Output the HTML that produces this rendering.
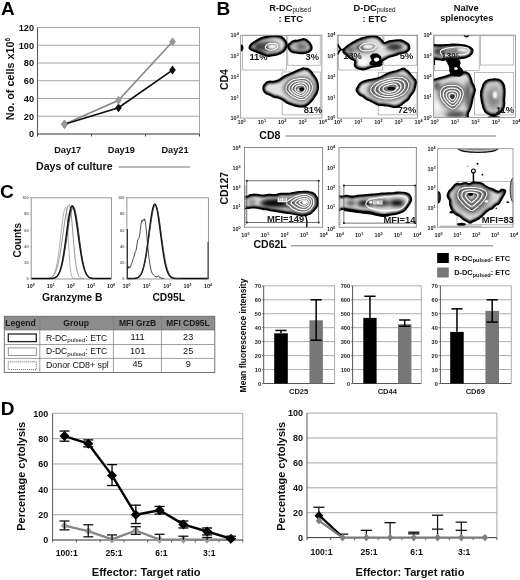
<!DOCTYPE html>
<html><head><meta charset="utf-8"><title>Figure</title>
<style>html,body{margin:0;padding:0;background:#fff;}body{width:520px;height:580px;overflow:hidden;font-family:"Liberation Sans",sans-serif;}svg{display:block;font-family:"Liberation Sans",sans-serif;}</style>
</head><body>
<svg width="520" height="580" viewBox="0 0 520 580">
<rect width="520" height="580" fill="#fff"/>
<defs><filter id="gsoft" x="0" y="0" width="520" height="580" filterUnits="userSpaceOnUse"><feGaussianBlur stdDeviation="0.3"/></filter></defs><g filter="url(#gsoft)">
<text x="0.9" y="14.9" font-size="19" font-weight="bold" text-anchor="start" fill="#000" >A</text>
<text x="216.4" y="14.5" font-size="19" font-weight="bold" text-anchor="start" fill="#000" >B</text>
<text x="0.1" y="198.3" font-size="19" font-weight="bold" text-anchor="start" fill="#000" >C</text>
<text x="0.8" y="415.3" font-size="19" font-weight="bold" text-anchor="start" fill="#000" >D</text>
<g id="panelA">
<text x="34.0" y="137.3" font-size="9.2" font-weight="bold" text-anchor="end" fill="#111" >0</text>
<line x1="37.5" y1="116.25" x2="199.5" y2="116.25" stroke="#9a9a9a" stroke-width="0.9" />
<text x="34.0" y="119.55" font-size="9.2" font-weight="bold" text-anchor="end" fill="#111" >20</text>
<line x1="37.5" y1="98.5" x2="199.5" y2="98.5" stroke="#9a9a9a" stroke-width="0.9" />
<text x="34.0" y="101.8" font-size="9.2" font-weight="bold" text-anchor="end" fill="#111" >40</text>
<line x1="37.5" y1="80.75" x2="199.5" y2="80.75" stroke="#9a9a9a" stroke-width="0.9" />
<text x="34.0" y="84.05" font-size="9.2" font-weight="bold" text-anchor="end" fill="#111" >60</text>
<line x1="37.5" y1="63.0" x2="199.5" y2="63.0" stroke="#9a9a9a" stroke-width="0.9" />
<text x="34.0" y="66.3" font-size="9.2" font-weight="bold" text-anchor="end" fill="#111" >80</text>
<line x1="37.5" y1="45.25" x2="199.5" y2="45.25" stroke="#9a9a9a" stroke-width="0.9" />
<text x="34.0" y="48.55" font-size="9.2" font-weight="bold" text-anchor="end" fill="#111" >100</text>
<line x1="37.5" y1="27.5" x2="199.5" y2="27.5" stroke="#9a9a9a" stroke-width="0.9" />
<text x="34.0" y="30.8" font-size="9.2" font-weight="bold" text-anchor="end" fill="#111" >120</text>
<line x1="199.5" y1="27.5" x2="199.5" y2="134.0" stroke="#9a9a9a" stroke-width="0.9" />
<line x1="37.5" y1="27.5" x2="37.5" y2="134.0" stroke="#555" stroke-width="1" />
<line x1="37.5" y1="134.0" x2="199.5" y2="134.0" stroke="#333" stroke-width="1" />
<line x1="37.5" y1="134.0" x2="37.5" y2="136.5" stroke="#333" stroke-width="0.9" />
<line x1="91.5" y1="134.0" x2="91.5" y2="136.5" stroke="#333" stroke-width="0.9" />
<line x1="145.5" y1="134.0" x2="145.5" y2="136.5" stroke="#333" stroke-width="0.9" />
<line x1="199.5" y1="134.0" x2="199.5" y2="136.5" stroke="#333" stroke-width="0.9" />
<polyline fill="none" stroke="#888" stroke-width="1.6" points="64.5,124.2 118.5,100.3 172.5,41.7"/>
<polyline fill="none" stroke="#111" stroke-width="1.7" points="64.5,124.2 118.5,107.8 172.5,70.1"/>
<path d="M61.2,124.2 L64.5,119.8 L67.8,124.2 L64.5,128.7Z" fill="#111"/>
<path d="M115.2,107.8 L118.5,103.4 L121.8,107.8 L118.5,112.3Z" fill="#111"/>
<path d="M169.2,70.1 L172.5,65.6 L175.8,70.1 L172.5,74.6Z" fill="#111"/>
<path d="M61.2,124.2 L64.5,119.8 L67.8,124.2 L64.5,128.7Z" fill="#999"/>
<path d="M115.2,100.3 L118.5,95.8 L121.8,100.3 L118.5,104.7Z" fill="#999"/>
<path d="M169.2,41.7 L172.5,37.2 L175.8,41.7 L172.5,46.2Z" fill="#999"/>
<text x="67.7" y="152.6" font-size="9.2" font-weight="bold" text-anchor="middle" fill="#111" >Day17</text>
<text x="121.4" y="152.6" font-size="9.2" font-weight="bold" text-anchor="middle" fill="#111" >Day19</text>
<text x="175" y="152.6" font-size="9.2" font-weight="bold" text-anchor="middle" fill="#111" >Day21</text>
<text x="36" y="170.3" font-size="10.6" font-weight="bold" text-anchor="start" fill="#111" >Days of culture</text>
<line x1="118.5" y1="167" x2="190" y2="167" stroke="#777" stroke-width="1" />
<text transform="translate(13.7,79) rotate(-90)" font-size="10.8" font-weight="bold" text-anchor="middle" fill="#111" >No. of cells x10<tspan font-size="6.5" dy="-4">6</tspan></text>
</g>
<g id="panelB">
<defs><filter id="soft" x="-5%" y="-5%" width="110%" height="110%"><feGaussianBlur stdDeviation="0.35"/></filter><filter id="bE" x="-20%" y="-20%" width="140%" height="140%"><feGaussianBlur stdDeviation="1.25"/></filter><filter id="b05" x="-50%" y="-50%" width="200%" height="200%"><feGaussianBlur stdDeviation="0.6"/></filter><filter id="b1" x="-50%" y="-50%" width="200%" height="200%"><feGaussianBlur stdDeviation="1"/></filter><filter id="b2" x="-50%" y="-50%" width="200%" height="200%"><feGaussianBlur stdDeviation="2"/></filter><filter id="b3" x="-50%" y="-50%" width="200%" height="200%"><feGaussianBlur stdDeviation="3"/></filter>
</defs>
<text x="269.2" y="10.8" font-size="9.3" font-weight="bold" text-anchor="start" fill="#111" >R-DC<tspan font-size="6.3" font-weight="normal" dy="1.4">pulsed</tspan></text>
<text x="278.6" y="21.5" font-size="9.3" font-weight="bold" text-anchor="start" fill="#111" >: ETC</text>
<text x="353.6" y="10.8" font-size="9.3" font-weight="bold" text-anchor="start" fill="#111" >D-DC<tspan font-size="6.3" font-weight="normal" dy="1.4">pulsed</tspan></text>
<text x="362.6" y="21.5" font-size="9.3" font-weight="bold" text-anchor="start" fill="#111" >: ETC</text>
<text x="466.2" y="10.6" font-size="9.3" font-weight="bold" text-anchor="middle" fill="#111" >Naïve</text>
<text x="466.7" y="21.2" font-size="9.2" font-weight="bold" text-anchor="middle" fill="#111" >splenocytes</text>
<text transform="translate(227.9,79.6) rotate(-90)" font-size="10.5" font-weight="bold" text-anchor="middle" fill="#111" >CD4</text>
<text transform="translate(228,188.2) rotate(-90)" font-size="10.5" font-weight="bold" text-anchor="middle" fill="#111" >CD127</text>
<text x="259.3" y="139.4" font-size="10.5" font-weight="bold" text-anchor="start" fill="#111" >CD8</text>
<line x1="285.8" y1="136" x2="496" y2="136" stroke="#666" stroke-width="0.9" />
<text x="253.5" y="248.4" font-size="10.5" font-weight="bold" text-anchor="start" fill="#111" >CD62L</text>
<line x1="291" y1="245.8" x2="493" y2="245.8" stroke="#666" stroke-width="0.9" />
<defs><clipPath id="cb1"><rect x="240.7" y="35.2" width="81.2" height="82.9"/></clipPath></defs>
<text x="241.6" y="123.9" font-size="5.5" font-weight="bold" text-anchor="middle" fill="#222">10<tspan font-size="3.8" dy="-2">0</tspan></text>
<text x="234.7" y="120.3" font-size="5.5" font-weight="bold" text-anchor="middle" fill="#222">10<tspan font-size="3.8" dy="-2">0</tspan></text>
<text x="261.9" y="123.9" font-size="5.5" font-weight="bold" text-anchor="middle" fill="#222">10<tspan font-size="3.8" dy="-2">1</tspan></text>
<text x="234.7" y="99.6" font-size="5.5" font-weight="bold" text-anchor="middle" fill="#222">10<tspan font-size="3.8" dy="-2">1</tspan></text>
<text x="282.2" y="123.9" font-size="5.5" font-weight="bold" text-anchor="middle" fill="#222">10<tspan font-size="3.8" dy="-2">2</tspan></text>
<text x="234.7" y="78.9" font-size="5.5" font-weight="bold" text-anchor="middle" fill="#222">10<tspan font-size="3.8" dy="-2">2</tspan></text>
<text x="302.5" y="123.9" font-size="5.5" font-weight="bold" text-anchor="middle" fill="#222">10<tspan font-size="3.8" dy="-2">3</tspan></text>
<text x="234.7" y="58.1" font-size="5.5" font-weight="bold" text-anchor="middle" fill="#222">10<tspan font-size="3.8" dy="-2">3</tspan></text>
<text x="322.8" y="123.9" font-size="5.5" font-weight="bold" text-anchor="middle" fill="#222">10<tspan font-size="3.8" dy="-2">4</tspan></text>
<text x="234.7" y="37.4" font-size="5.5" font-weight="bold" text-anchor="middle" fill="#222">10<tspan font-size="3.8" dy="-2">4</tspan></text>
<rect x="242.3" y="35.6" width="44.0" height="34.4" fill="none" stroke="#909090" stroke-width="0.6"/>
<rect x="287.8" y="35.6" width="32.4" height="29.6" fill="none" stroke="#909090" stroke-width="0.6"/>
<rect x="282.1" y="72" width="38.1" height="42.9" fill="none" stroke="#909090" stroke-width="0.6"/>
<g clip-path="url(#cb1)"><g filter="url(#soft)">
<clipPath id="bl1"><path d="M288.2,46.3 C288.5,43.9 288.6,44.6 290.6,42.8 C292.5,41.0 291.5,41.8 294.0,40.9 C296.6,40.1 295.7,40.9 298.3,40.3 C300.9,39.7 299.4,39.6 301.8,39.3 C304.1,38.9 303.1,38.5 305.3,39.3 C307.5,40.1 306.7,40.0 308.5,41.7 C310.2,43.4 309.5,42.2 310.6,44.4 C311.7,46.5 311.9,46.0 311.7,48.2 C311.5,50.4 311.7,49.5 310.0,50.9 C308.4,52.4 309.4,51.8 306.7,52.6 C304.1,53.4 305.3,53.2 302.2,53.3 C299.0,53.4 300.4,53.2 297.3,52.8 C294.2,52.4 295.4,53.1 292.9,52.2 C290.4,51.2 291.4,52.0 289.8,50.0 C288.3,48.1 288.0,48.7 288.2,46.3Z"/></clipPath>
<g clip-path="url(#bl1)">
<path d="M288.2,46.3 C288.5,43.9 288.6,44.6 290.6,42.8 C292.5,41.0 291.5,41.8 294.0,40.9 C296.6,40.1 295.7,40.9 298.3,40.3 C300.9,39.7 299.4,39.6 301.8,39.3 C304.1,38.9 303.1,38.5 305.3,39.3 C307.5,40.1 306.7,40.0 308.5,41.7 C310.2,43.4 309.5,42.2 310.6,44.4 C311.7,46.5 311.9,46.0 311.7,48.2 C311.5,50.4 311.7,49.5 310.0,50.9 C308.4,52.4 309.4,51.8 306.7,52.6 C304.1,53.4 305.3,53.2 302.2,53.3 C299.0,53.4 300.4,53.2 297.3,52.8 C294.2,52.4 295.4,53.1 292.9,52.2 C290.4,51.2 291.4,52.0 289.8,50.0 C288.3,48.1 288.0,48.7 288.2,46.3Z" fill="#b9b9b9"/>
<ellipse cx="301.5" cy="46.6" rx="5" ry="3.2" fill="#5a5a5a" filter="url(#b2)"/>
<path d="M288.2,46.3 C288.5,43.9 288.6,44.6 290.6,42.8 C292.5,41.0 291.5,41.8 294.0,40.9 C296.6,40.1 295.7,40.9 298.3,40.3 C300.9,39.7 299.4,39.6 301.8,39.3 C304.1,38.9 303.1,38.5 305.3,39.3 C307.5,40.1 306.7,40.0 308.5,41.7 C310.2,43.4 309.5,42.2 310.6,44.4 C311.7,46.5 311.9,46.0 311.7,48.2 C311.5,50.4 311.7,49.5 310.0,50.9 C308.4,52.4 309.4,51.8 306.7,52.6 C304.1,53.4 305.3,53.2 302.2,53.3 C299.0,53.4 300.4,53.2 297.3,52.8 C294.2,52.4 295.4,53.1 292.9,52.2 C290.4,51.2 291.4,52.0 289.8,50.0 C288.3,48.1 288.0,48.7 288.2,46.3Z" fill="none" stroke="#000" stroke-width="3.0" filter="url(#bE)"/>
</g>
<path d="M288.2,46.3 C288.5,43.9 288.6,44.6 290.6,42.8 C292.5,41.0 291.5,41.8 294.0,40.9 C296.6,40.1 295.7,40.9 298.3,40.3 C300.9,39.7 299.4,39.6 301.8,39.3 C304.1,38.9 303.1,38.5 305.3,39.3 C307.5,40.1 306.7,40.0 308.5,41.7 C310.2,43.4 309.5,42.2 310.6,44.4 C311.7,46.5 311.9,46.0 311.7,48.2 C311.5,50.4 311.7,49.5 310.0,50.9 C308.4,52.4 309.4,51.8 306.7,52.6 C304.1,53.4 305.3,53.2 302.2,53.3 C299.0,53.4 300.4,53.2 297.3,52.8 C294.2,52.4 295.4,53.1 292.9,52.2 C290.4,51.2 291.4,52.0 289.8,50.0 C288.3,48.1 288.0,48.7 288.2,46.3Z" fill="none" stroke="#000" stroke-width="1.8" stroke-linejoin="round"/>
<clipPath id="bl2"><path d="M249.5,47.0 C249.9,45.4 249.7,45.8 251.4,44.0 C253.1,42.3 252.3,43.3 254.7,41.8 C257.1,40.2 255.7,40.9 258.6,39.4 C261.5,37.9 260.4,38.3 263.3,37.4 C266.3,36.5 264.8,37.1 267.5,36.6 C270.1,36.1 268.9,36.2 271.3,35.9 C273.8,35.6 272.4,35.7 274.8,35.8 C277.1,35.8 276.2,35.7 278.3,36.0 C280.5,36.4 279.5,36.0 281.2,36.9 C282.9,37.8 282.1,37.4 283.5,38.6 C284.9,39.9 284.3,39.1 285.3,40.8 C286.4,42.4 286.3,41.9 286.7,43.6 C287.1,45.4 287.0,44.5 286.6,46.1 C286.2,47.7 286.3,46.9 285.5,48.5 C284.6,50.1 285.3,49.5 284.1,50.8 C282.8,52.2 283.5,51.4 281.7,52.5 C279.8,53.6 280.8,53.2 278.4,54.1 C276.1,54.9 276.9,54.6 274.6,55.1 C272.2,55.6 273.6,55.2 271.3,55.5 C269.1,55.8 270.1,56.2 267.9,56.0 C265.6,55.8 266.8,55.6 264.6,54.9 C262.4,54.1 263.6,54.7 261.3,53.8 C259.1,52.9 260.0,53.1 257.8,52.3 C255.6,51.4 256.5,51.8 254.7,51.2 C252.9,50.6 254.0,51.1 252.5,50.4 C250.9,49.6 251.2,50.1 250.2,49.0 C249.2,47.8 249.2,48.6 249.5,47.0Z"/></clipPath>
<g clip-path="url(#bl2)">
<path d="M249.5,47.0 C249.9,45.4 249.7,45.8 251.4,44.0 C253.1,42.3 252.3,43.3 254.7,41.8 C257.1,40.2 255.7,40.9 258.6,39.4 C261.5,37.9 260.4,38.3 263.3,37.4 C266.3,36.5 264.8,37.1 267.5,36.6 C270.1,36.1 268.9,36.2 271.3,35.9 C273.8,35.6 272.4,35.7 274.8,35.8 C277.1,35.8 276.2,35.7 278.3,36.0 C280.5,36.4 279.5,36.0 281.2,36.9 C282.9,37.8 282.1,37.4 283.5,38.6 C284.9,39.9 284.3,39.1 285.3,40.8 C286.4,42.4 286.3,41.9 286.7,43.6 C287.1,45.4 287.0,44.5 286.6,46.1 C286.2,47.7 286.3,46.9 285.5,48.5 C284.6,50.1 285.3,49.5 284.1,50.8 C282.8,52.2 283.5,51.4 281.7,52.5 C279.8,53.6 280.8,53.2 278.4,54.1 C276.1,54.9 276.9,54.6 274.6,55.1 C272.2,55.6 273.6,55.2 271.3,55.5 C269.1,55.8 270.1,56.2 267.9,56.0 C265.6,55.8 266.8,55.6 264.6,54.9 C262.4,54.1 263.6,54.7 261.3,53.8 C259.1,52.9 260.0,53.1 257.8,52.3 C255.6,51.4 256.5,51.8 254.7,51.2 C252.9,50.6 254.0,51.1 252.5,50.4 C250.9,49.6 251.2,50.1 250.2,49.0 C249.2,47.8 249.2,48.6 249.5,47.0Z" fill="#e1e1e1"/>
<ellipse cx="267" cy="46.6" rx="12" ry="5.5" fill="#4a4a4a" filter="url(#b2)"/>
<ellipse cx="258" cy="47" rx="4" ry="3" fill="#333" filter="url(#b2)"/>
<ellipse cx="272.3" cy="46.6" rx="4.6" ry="2.4" fill="#fff" filter="url(#b1)"/>
<path d="M249.5,47.0 C249.9,45.4 249.7,45.8 251.4,44.0 C253.1,42.3 252.3,43.3 254.7,41.8 C257.1,40.2 255.7,40.9 258.6,39.4 C261.5,37.9 260.4,38.3 263.3,37.4 C266.3,36.5 264.8,37.1 267.5,36.6 C270.1,36.1 268.9,36.2 271.3,35.9 C273.8,35.6 272.4,35.7 274.8,35.8 C277.1,35.8 276.2,35.7 278.3,36.0 C280.5,36.4 279.5,36.0 281.2,36.9 C282.9,37.8 282.1,37.4 283.5,38.6 C284.9,39.9 284.3,39.1 285.3,40.8 C286.4,42.4 286.3,41.9 286.7,43.6 C287.1,45.4 287.0,44.5 286.6,46.1 C286.2,47.7 286.3,46.9 285.5,48.5 C284.6,50.1 285.3,49.5 284.1,50.8 C282.8,52.2 283.5,51.4 281.7,52.5 C279.8,53.6 280.8,53.2 278.4,54.1 C276.1,54.9 276.9,54.6 274.6,55.1 C272.2,55.6 273.6,55.2 271.3,55.5 C269.1,55.8 270.1,56.2 267.9,56.0 C265.6,55.8 266.8,55.6 264.6,54.9 C262.4,54.1 263.6,54.7 261.3,53.8 C259.1,52.9 260.0,53.1 257.8,52.3 C255.6,51.4 256.5,51.8 254.7,51.2 C252.9,50.6 254.0,51.1 252.5,50.4 C250.9,49.6 251.2,50.1 250.2,49.0 C249.2,47.8 249.2,48.6 249.5,47.0Z" fill="none" stroke="#000" stroke-width="3.6" filter="url(#bE)"/>
</g>
<path d="M249.5,47.0 C249.9,45.4 249.7,45.8 251.4,44.0 C253.1,42.3 252.3,43.3 254.7,41.8 C257.1,40.2 255.7,40.9 258.6,39.4 C261.5,37.9 260.4,38.3 263.3,37.4 C266.3,36.5 264.8,37.1 267.5,36.6 C270.1,36.1 268.9,36.2 271.3,35.9 C273.8,35.6 272.4,35.7 274.8,35.8 C277.1,35.8 276.2,35.7 278.3,36.0 C280.5,36.4 279.5,36.0 281.2,36.9 C282.9,37.8 282.1,37.4 283.5,38.6 C284.9,39.9 284.3,39.1 285.3,40.8 C286.4,42.4 286.3,41.9 286.7,43.6 C287.1,45.4 287.0,44.5 286.6,46.1 C286.2,47.7 286.3,46.9 285.5,48.5 C284.6,50.1 285.3,49.5 284.1,50.8 C282.8,52.2 283.5,51.4 281.7,52.5 C279.8,53.6 280.8,53.2 278.4,54.1 C276.1,54.9 276.9,54.6 274.6,55.1 C272.2,55.6 273.6,55.2 271.3,55.5 C269.1,55.8 270.1,56.2 267.9,56.0 C265.6,55.8 266.8,55.6 264.6,54.9 C262.4,54.1 263.6,54.7 261.3,53.8 C259.1,52.9 260.0,53.1 257.8,52.3 C255.6,51.4 256.5,51.8 254.7,51.2 C252.9,50.6 254.0,51.1 252.5,50.4 C250.9,49.6 251.2,50.1 250.2,49.0 C249.2,47.8 249.2,48.6 249.5,47.0Z" fill="none" stroke="#000" stroke-width="1.8" stroke-linejoin="round"/>
<path d="M277.8,46.1 C277.9,47.2 278.0,46.7 277.1,47.8 C276.2,48.9 276.7,48.6 275.0,49.3 C273.3,50.1 274.0,49.9 272.0,50.1 C269.9,50.3 270.7,50.3 268.8,50.0 C267.0,49.6 267.6,49.8 266.4,49.0 C265.3,48.1 265.6,48.5 265.4,47.3 C265.3,46.2 265.2,46.7 266.1,45.6 C267.0,44.5 266.5,44.8 268.2,44.1 C269.9,43.3 269.2,43.5 271.2,43.3 C273.3,43.1 272.5,43.1 274.4,43.4 C276.2,43.8 275.6,43.6 276.8,44.4 C277.9,45.3 277.6,44.9 277.8,46.1Z" fill="none" stroke="#fff" stroke-width="1.05"/>
<clipPath id="bl3"><path d="M263.2,88.0 C263.3,85.1 263.6,85.7 265.5,83.7 C267.3,81.6 265.9,82.5 268.7,81.7 C271.4,81.0 270.3,82.1 273.7,81.5 C277.2,80.8 276.2,81.1 279.1,79.8 C282.0,78.4 279.9,79.0 282.5,77.4 C285.1,75.9 283.9,76.5 286.9,75.1 C289.9,73.7 288.4,74.5 291.5,73.2 C294.5,71.9 292.8,72.5 296.0,71.1 C299.3,69.7 298.4,70.0 301.2,69.1 C304.0,68.1 302.0,68.2 304.4,68.3 C306.8,68.4 306.2,68.3 308.4,69.3 C310.5,70.3 309.1,69.5 310.9,71.4 C312.6,73.3 311.7,72.4 313.6,75.1 C315.5,77.9 315.1,76.1 316.6,79.6 C318.0,83.1 317.7,81.7 318.0,85.7 C318.3,89.7 318.5,87.9 317.3,91.6 C316.2,95.2 316.6,93.4 314.5,96.7 C312.4,99.9 313.8,98.5 311.1,101.4 C308.4,104.3 309.5,103.6 306.5,105.4 C303.5,107.1 305.4,106.4 302.1,106.6 C298.9,106.9 300.2,106.8 296.8,106.1 C293.3,105.5 295.0,105.7 291.9,104.6 C288.7,103.6 290.3,104.5 287.3,103.0 C284.4,101.4 285.9,101.7 283.0,100.0 C280.0,98.3 281.6,99.0 278.6,97.9 C275.5,96.8 276.9,97.8 273.8,96.8 C270.8,95.7 272.3,96.1 269.3,94.7 C266.4,93.2 267.1,94.7 265.0,92.5 C263.0,90.2 263.0,90.9 263.2,88.0Z"/></clipPath>
<g clip-path="url(#bl3)">
<path d="M263.2,88.0 C263.3,85.1 263.6,85.7 265.5,83.7 C267.3,81.6 265.9,82.5 268.7,81.7 C271.4,81.0 270.3,82.1 273.7,81.5 C277.2,80.8 276.2,81.1 279.1,79.8 C282.0,78.4 279.9,79.0 282.5,77.4 C285.1,75.9 283.9,76.5 286.9,75.1 C289.9,73.7 288.4,74.5 291.5,73.2 C294.5,71.9 292.8,72.5 296.0,71.1 C299.3,69.7 298.4,70.0 301.2,69.1 C304.0,68.1 302.0,68.2 304.4,68.3 C306.8,68.4 306.2,68.3 308.4,69.3 C310.5,70.3 309.1,69.5 310.9,71.4 C312.6,73.3 311.7,72.4 313.6,75.1 C315.5,77.9 315.1,76.1 316.6,79.6 C318.0,83.1 317.7,81.7 318.0,85.7 C318.3,89.7 318.5,87.9 317.3,91.6 C316.2,95.2 316.6,93.4 314.5,96.7 C312.4,99.9 313.8,98.5 311.1,101.4 C308.4,104.3 309.5,103.6 306.5,105.4 C303.5,107.1 305.4,106.4 302.1,106.6 C298.9,106.9 300.2,106.8 296.8,106.1 C293.3,105.5 295.0,105.7 291.9,104.6 C288.7,103.6 290.3,104.5 287.3,103.0 C284.4,101.4 285.9,101.7 283.0,100.0 C280.0,98.3 281.6,99.0 278.6,97.9 C275.5,96.8 276.9,97.8 273.8,96.8 C270.8,95.7 272.3,96.1 269.3,94.7 C266.4,93.2 267.1,94.7 265.0,92.5 C263.0,90.2 263.0,90.9 263.2,88.0Z" fill="#e1e1e1"/>
<path d="M263.2,88.0 C263.3,85.1 263.6,85.7 265.5,83.7 C267.3,81.6 265.9,82.5 268.7,81.7 C271.4,81.0 270.3,82.1 273.7,81.5 C277.2,80.8 276.2,81.1 279.1,79.8 C282.0,78.4 279.9,79.0 282.5,77.4 C285.1,75.9 283.9,76.5 286.9,75.1 C289.9,73.7 288.4,74.5 291.5,73.2 C294.5,71.9 292.8,72.5 296.0,71.1 C299.3,69.7 298.4,70.0 301.2,69.1 C304.0,68.1 302.0,68.2 304.4,68.3 C306.8,68.4 306.2,68.3 308.4,69.3 C310.5,70.3 309.1,69.5 310.9,71.4 C312.6,73.3 311.7,72.4 313.6,75.1 C315.5,77.9 315.1,76.1 316.6,79.6 C318.0,83.1 317.7,81.7 318.0,85.7 C318.3,89.7 318.5,87.9 317.3,91.6 C316.2,95.2 316.6,93.4 314.5,96.7 C312.4,99.9 313.8,98.5 311.1,101.4 C308.4,104.3 309.5,103.6 306.5,105.4 C303.5,107.1 305.4,106.4 302.1,106.6 C298.9,106.9 300.2,106.8 296.8,106.1 C293.3,105.5 295.0,105.7 291.9,104.6 C288.7,103.6 290.3,104.5 287.3,103.0 C284.4,101.4 285.9,101.7 283.0,100.0 C280.0,98.3 281.6,99.0 278.6,97.9 C275.5,96.8 276.9,97.8 273.8,96.8 C270.8,95.7 272.3,96.1 269.3,94.7 C266.4,93.2 267.1,94.7 265.0,92.5 C263.0,90.2 263.0,90.9 263.2,88.0Z" fill="none" stroke="#000" stroke-width="3.6" filter="url(#bE)"/>
</g>
<path d="M263.2,88.0 C263.3,85.1 263.6,85.7 265.5,83.7 C267.3,81.6 265.9,82.5 268.7,81.7 C271.4,81.0 270.3,82.1 273.7,81.5 C277.2,80.8 276.2,81.1 279.1,79.8 C282.0,78.4 279.9,79.0 282.5,77.4 C285.1,75.9 283.9,76.5 286.9,75.1 C289.9,73.7 288.4,74.5 291.5,73.2 C294.5,71.9 292.8,72.5 296.0,71.1 C299.3,69.7 298.4,70.0 301.2,69.1 C304.0,68.1 302.0,68.2 304.4,68.3 C306.8,68.4 306.2,68.3 308.4,69.3 C310.5,70.3 309.1,69.5 310.9,71.4 C312.6,73.3 311.7,72.4 313.6,75.1 C315.5,77.9 315.1,76.1 316.6,79.6 C318.0,83.1 317.7,81.7 318.0,85.7 C318.3,89.7 318.5,87.9 317.3,91.6 C316.2,95.2 316.6,93.4 314.5,96.7 C312.4,99.9 313.8,98.5 311.1,101.4 C308.4,104.3 309.5,103.6 306.5,105.4 C303.5,107.1 305.4,106.4 302.1,106.6 C298.9,106.9 300.2,106.8 296.8,106.1 C293.3,105.5 295.0,105.7 291.9,104.6 C288.7,103.6 290.3,104.5 287.3,103.0 C284.4,101.4 285.9,101.7 283.0,100.0 C280.0,98.3 281.6,99.0 278.6,97.9 C275.5,96.8 276.9,97.8 273.8,96.8 C270.8,95.7 272.3,96.1 269.3,94.7 C266.4,93.2 267.1,94.7 265.0,92.5 C263.0,90.2 263.0,90.9 263.2,88.0Z" fill="none" stroke="#000" stroke-width="1.8" stroke-linejoin="round"/>
<g clip-path="url(#bl3)"><path d="M283.7,88.4 C283.7,85.1 283.7,86.3 286.0,83.2 C288.3,80.1 287.1,81.0 290.6,79.1 C294.1,77.2 292.2,78.1 296.4,77.4 C300.7,76.6 299.1,76.5 303.4,76.9 C307.6,77.3 305.9,76.4 309.2,78.5 C312.5,80.6 311.6,79.9 313.2,83.2 C314.9,86.5 314.4,84.9 314.1,88.4 C313.7,91.9 314.1,90.3 312.1,93.6 C310.1,96.9 311.1,95.7 308.0,98.2 C304.9,100.8 306.7,100.7 302.8,101.3 C298.9,101.8 300.5,101.4 296.4,100.0 C292.4,98.6 294.1,99.4 290.6,97.1 C287.1,94.8 288.3,95.9 286.0,93.0 C283.7,90.1 283.7,91.7 283.7,88.4Z" fill="#555" filter="url(#b2)"/></g>
<path d="M286.0,88.5 C286.0,85.7 286.0,86.7 288.0,84.0 C290.0,81.3 289.0,82.2 292.0,80.5 C295.0,78.8 293.3,79.6 297.0,79.0 C300.7,78.4 299.3,78.3 303.0,78.6 C306.7,78.9 305.2,78.2 308.0,80.0 C310.8,81.8 310.1,81.2 311.5,84.0 C312.9,86.8 312.5,85.5 312.2,88.5 C311.9,91.5 312.2,90.2 310.5,93.0 C308.8,95.8 309.7,94.8 307.0,97.0 C304.3,99.2 305.8,99.1 302.5,99.6 C299.2,100.1 300.5,99.7 297.0,98.5 C293.5,97.3 295.0,98.0 292.0,96.0 C289.0,94.0 290.0,95.0 288.0,92.5 C286.0,90.0 286.0,91.3 286.0,88.5Z" fill="#4a4a4a"/>
<path d="M288.1,88.6 C288.1,86.2 288.1,87.0 289.8,84.7 C291.5,82.5 290.7,83.2 293.2,81.7 C295.8,80.3 294.4,81.0 297.5,80.5 C300.7,79.9 299.5,79.8 302.7,80.1 C305.8,80.4 304.5,79.8 306.9,81.3 C309.4,82.9 308.7,82.3 309.9,84.7 C311.1,87.2 310.8,86.0 310.5,88.6 C310.3,91.2 310.6,90.0 309.1,92.5 C307.6,94.9 308.4,94.0 306.1,95.9 C303.8,97.8 305.1,97.7 302.2,98.1 C299.4,98.5 300.5,98.2 297.5,97.2 C294.5,96.1 295.8,96.7 293.2,95.0 C290.7,93.3 291.5,94.2 289.8,92.0 C288.1,89.9 288.1,91.0 288.1,88.6Z" fill="#c4c4c4" filter="url(#b1)"/>
<path d="M289.2,88.7 C289.2,86.4 289.2,87.2 290.8,85.1 C292.3,83.1 291.6,83.7 293.9,82.4 C296.2,81.1 294.9,81.7 297.8,81.2 C300.7,80.8 299.6,80.7 302.5,80.9 C305.3,81.2 304.2,80.6 306.4,82.0 C308.6,83.4 308.0,82.9 309.1,85.1 C310.2,87.4 309.9,86.3 309.6,88.7 C309.4,91.0 309.7,90.0 308.3,92.2 C307.0,94.4 307.7,93.6 305.6,95.3 C303.5,97.0 304.7,96.9 302.1,97.3 C299.5,97.7 300.5,97.4 297.8,96.5 C295.1,95.5 296.2,96.1 293.9,94.5 C291.6,92.9 292.3,93.7 290.8,91.8 C289.2,89.8 289.2,90.9 289.2,88.7Z" fill="#4a4a4a"/>
<path d="M291.1,88.7 C291.1,86.9 291.1,87.6 292.4,85.8 C293.7,84.1 293.1,84.6 295.0,83.5 C297.0,82.5 295.9,83.0 298.3,82.6 C300.6,82.2 299.8,82.1 302.2,82.3 C304.5,82.5 303.6,82.0 305.4,83.2 C307.3,84.4 306.8,84.0 307.7,85.8 C308.6,87.7 308.4,86.8 308.1,88.7 C307.9,90.7 308.2,89.8 307.0,91.7 C305.9,93.5 306.5,92.8 304.8,94.3 C303.0,95.7 304.0,95.6 301.8,96.0 C299.7,96.3 300.5,96.0 298.3,95.2 C296.0,94.5 297.0,94.9 295.0,93.6 C293.1,92.3 293.7,93.0 292.4,91.3 C291.1,89.7 291.1,90.6 291.1,88.7Z" fill="#c4c4c4" filter="url(#b1)"/>
<path d="M292.1,88.8 C292.1,87.2 292.1,87.7 293.3,86.2 C294.5,84.6 293.9,85.1 295.6,84.2 C297.4,83.2 296.4,83.7 298.5,83.3 C300.6,82.9 299.9,82.9 302.0,83.1 C304.1,83.2 303.2,82.8 304.9,83.9 C306.5,84.9 306.1,84.5 306.9,86.2 C307.7,87.8 307.5,87.1 307.3,88.8 C307.1,90.5 307.3,89.8 306.3,91.4 C305.3,93.0 305.9,92.4 304.3,93.7 C302.8,95.0 303.6,94.9 301.7,95.2 C299.8,95.5 300.5,95.3 298.5,94.6 C296.5,93.9 297.4,94.3 295.6,93.1 C293.9,92.0 294.5,92.6 293.3,91.1 C292.1,89.7 292.1,90.4 292.1,88.8Z" fill="#4a4a4a"/>
<path d="M294.0,88.9 C294.0,87.6 294.0,88.1 294.9,86.9 C295.8,85.7 295.4,86.0 296.7,85.3 C298.1,84.5 297.3,84.9 299.0,84.6 C300.6,84.3 300.0,84.3 301.7,84.4 C303.3,84.6 302.7,84.2 303.9,85.1 C305.2,85.9 304.9,85.6 305.5,86.9 C306.1,88.1 306.0,87.5 305.8,88.9 C305.7,90.2 305.8,89.6 305.1,90.9 C304.3,92.2 304.7,91.7 303.5,92.7 C302.3,93.7 303.0,93.7 301.5,93.9 C300.0,94.1 300.6,93.9 299.0,93.4 C297.4,92.8 298.1,93.2 296.7,92.3 C295.4,91.4 295.8,91.8 294.9,90.7 C294.0,89.6 294.0,90.2 294.0,88.9Z" fill="#c4c4c4" filter="url(#b1)"/>
<path d="M295.1,88.9 C295.1,87.9 295.1,88.2 295.8,87.2 C296.6,86.2 296.2,86.5 297.3,85.9 C298.5,85.3 297.8,85.6 299.2,85.3 C300.6,85.1 300.1,85.0 301.5,85.2 C302.9,85.3 302.3,85.0 303.4,85.7 C304.5,86.4 304.2,86.1 304.7,87.2 C305.3,88.3 305.1,87.8 305.0,88.9 C304.9,90.1 305.0,89.6 304.4,90.6 C303.7,91.7 304.0,91.3 303.0,92.2 C302.0,93.0 302.6,93.0 301.3,93.2 C300.1,93.3 300.6,93.2 299.2,92.7 C297.9,92.3 298.5,92.5 297.3,91.8 C296.2,91.0 296.6,91.4 295.8,90.5 C295.1,89.5 295.1,90.0 295.1,88.9Z" fill="#4a4a4a"/>
<path d="M297.0,89.0 C297.0,88.3 297.0,88.6 297.5,87.9 C298.0,87.3 297.8,87.5 298.5,87.1 C299.2,86.7 298.8,86.9 299.7,86.7 C300.6,86.6 300.3,86.5 301.2,86.6 C302.1,86.7 301.7,86.5 302.4,87.0 C303.1,87.4 302.9,87.2 303.3,87.9 C303.6,88.6 303.5,88.3 303.4,89.0 C303.4,89.8 303.4,89.4 303.0,90.1 C302.6,90.8 302.8,90.6 302.2,91.1 C301.5,91.6 301.9,91.6 301.1,91.7 C300.3,91.9 300.6,91.8 299.7,91.5 C298.9,91.2 299.2,91.3 298.5,90.9 C297.8,90.4 298.0,90.6 297.5,90.0 C297.0,89.4 297.0,89.7 297.0,89.0Z" fill="#c4c4c4" filter="url(#b1)"/>
<ellipse cx="301.6" cy="89.2" rx="2.6" ry="2.0" fill="#000" filter="url(#b05)"/>
<ellipse cx="298.4" cy="90" rx="1.2" ry="1.0" fill="#eee" filter="url(#b05)"/>
<path d="M286.0,88.5 C286.0,85.7 286.0,86.7 288.0,84.0 C290.0,81.3 289.0,82.2 292.0,80.5 C295.0,78.8 293.3,79.6 297.0,79.0 C300.7,78.4 299.3,78.3 303.0,78.6 C306.7,78.9 305.2,78.2 308.0,80.0 C310.8,81.8 310.1,81.2 311.5,84.0 C312.9,86.8 312.5,85.5 312.2,88.5 C311.9,91.5 312.2,90.2 310.5,93.0 C308.8,95.8 309.7,94.8 307.0,97.0 C304.3,99.2 305.8,99.1 302.5,99.6 C299.2,100.1 300.5,99.7 297.0,98.5 C293.5,97.3 295.0,98.0 292.0,96.0 C289.0,94.0 290.0,95.0 288.0,92.5 C286.0,90.0 286.0,91.3 286.0,88.5Z" fill="none" stroke="#fff" stroke-width="1.05"/>
<path d="M289.2,88.7 C289.2,86.4 289.2,87.2 290.8,85.1 C292.3,83.1 291.6,83.7 293.9,82.4 C296.2,81.1 294.9,81.7 297.8,81.2 C300.7,80.8 299.6,80.7 302.5,80.9 C305.3,81.2 304.2,80.6 306.4,82.0 C308.6,83.4 308.0,82.9 309.1,85.1 C310.2,87.4 309.9,86.3 309.6,88.7 C309.4,91.0 309.7,90.0 308.3,92.2 C307.0,94.4 307.7,93.6 305.6,95.3 C303.5,97.0 304.7,96.9 302.1,97.3 C299.5,97.7 300.5,97.4 297.8,96.5 C295.1,95.5 296.2,96.1 293.9,94.5 C291.6,92.9 292.3,93.7 290.8,91.8 C289.2,89.8 289.2,90.9 289.2,88.7Z" fill="none" stroke="#fff" stroke-width="1.05"/>
<path d="M292.1,88.8 C292.1,87.2 292.1,87.7 293.3,86.2 C294.5,84.6 293.9,85.1 295.6,84.2 C297.4,83.2 296.4,83.7 298.5,83.3 C300.6,82.9 299.9,82.9 302.0,83.1 C304.1,83.2 303.2,82.8 304.9,83.9 C306.5,84.9 306.1,84.5 306.9,86.2 C307.7,87.8 307.5,87.1 307.3,88.8 C307.1,90.5 307.3,89.8 306.3,91.4 C305.3,93.0 305.9,92.4 304.3,93.7 C302.8,95.0 303.6,94.9 301.7,95.2 C299.8,95.5 300.5,95.3 298.5,94.6 C296.5,93.9 297.4,94.3 295.6,93.1 C293.9,92.0 294.5,92.6 293.3,91.1 C292.1,89.7 292.1,90.4 292.1,88.8Z" fill="none" stroke="#fff" stroke-width="1.05"/>
<path d="M295.1,88.9 C295.1,87.9 295.1,88.2 295.8,87.2 C296.6,86.2 296.2,86.5 297.3,85.9 C298.5,85.3 297.8,85.6 299.2,85.3 C300.6,85.1 300.1,85.0 301.5,85.2 C302.9,85.3 302.3,85.0 303.4,85.7 C304.5,86.4 304.2,86.1 304.7,87.2 C305.3,88.3 305.1,87.8 305.0,88.9 C304.9,90.1 305.0,89.6 304.4,90.6 C303.7,91.7 304.0,91.3 303.0,92.2 C302.0,93.0 302.6,93.0 301.3,93.2 C300.1,93.3 300.6,93.2 299.2,92.7 C297.9,92.3 298.5,92.5 297.3,91.8 C296.2,91.0 296.6,91.4 295.8,90.5 C295.1,89.5 295.1,90.0 295.1,88.9Z" fill="none" stroke="#fff" stroke-width="1.05"/>
<path d="M243.4,47.8 C243.4,49.4 243.5,49.1 242.8,50.2 C242.1,51.3 242.3,51.2 241.4,51.2 C240.5,51.2 240.7,51.3 240.0,50.2 C239.3,49.1 239.4,49.4 239.4,47.8 C239.4,46.2 239.3,46.5 240.0,45.4 C240.7,44.3 240.5,44.4 241.4,44.4 C242.3,44.4 242.1,44.3 242.8,45.4 C243.5,46.5 243.4,46.2 243.4,47.8Z" fill="#000"/>
</g></g>
<rect x="240.7" y="35.2" width="81.2" height="82.9" fill="none" stroke="#8a8a8a" stroke-width="0.8"/>
<text x="258.5" y="59.8" font-size="9.3" font-weight="bold" text-anchor="middle" fill="#1a1a1a" >11%</text>
<text x="312.3" y="59.8" font-size="9.3" font-weight="bold" text-anchor="middle" fill="#1a1a1a" >3%</text>
<text x="313" y="113.4" font-size="9.3" font-weight="bold" text-anchor="middle" fill="#1a1a1a" >81%</text>
<defs><clipPath id="cb2"><rect x="337.3" y="35.2" width="80.4" height="82.9"/></clipPath></defs>
<text x="338.2" y="123.9" font-size="5.5" font-weight="bold" text-anchor="middle" fill="#222">10<tspan font-size="3.8" dy="-2">0</tspan></text>
<text x="331.3" y="120.3" font-size="5.5" font-weight="bold" text-anchor="middle" fill="#222">10<tspan font-size="3.8" dy="-2">0</tspan></text>
<text x="358.3" y="123.9" font-size="5.5" font-weight="bold" text-anchor="middle" fill="#222">10<tspan font-size="3.8" dy="-2">1</tspan></text>
<text x="331.3" y="99.6" font-size="5.5" font-weight="bold" text-anchor="middle" fill="#222">10<tspan font-size="3.8" dy="-2">1</tspan></text>
<text x="378.4" y="123.9" font-size="5.5" font-weight="bold" text-anchor="middle" fill="#222">10<tspan font-size="3.8" dy="-2">2</tspan></text>
<text x="331.3" y="78.9" font-size="5.5" font-weight="bold" text-anchor="middle" fill="#222">10<tspan font-size="3.8" dy="-2">2</tspan></text>
<text x="398.5" y="123.9" font-size="5.5" font-weight="bold" text-anchor="middle" fill="#222">10<tspan font-size="3.8" dy="-2">3</tspan></text>
<text x="331.3" y="58.1" font-size="5.5" font-weight="bold" text-anchor="middle" fill="#222">10<tspan font-size="3.8" dy="-2">3</tspan></text>
<text x="418.6" y="123.9" font-size="5.5" font-weight="bold" text-anchor="middle" fill="#222">10<tspan font-size="3.8" dy="-2">4</tspan></text>
<text x="331.3" y="37.4" font-size="5.5" font-weight="bold" text-anchor="middle" fill="#222">10<tspan font-size="3.8" dy="-2">4</tspan></text>
<rect x="338.6" y="35.6" width="44.2" height="34.4" fill="none" stroke="#909090" stroke-width="0.6"/>
<rect x="383.9" y="35.6" width="33.0" height="29.6" fill="none" stroke="#909090" stroke-width="0.6"/>
<rect x="378.2" y="72.6" width="38.7" height="42.3" fill="none" stroke="#909090" stroke-width="0.6"/>
<g clip-path="url(#cb2)"><g filter="url(#soft)">
<clipPath id="bl4"><path d="M343.1,51.2 C343.0,48.6 343.8,49.3 346.4,46.8 C349.1,44.2 348.1,45.5 351.1,43.6 C354.0,41.7 352.5,42.6 355.4,41.1 C358.3,39.6 356.8,40.1 359.7,39.0 C362.7,37.9 361.2,38.6 364.2,37.7 C367.2,36.9 365.4,37.0 368.7,36.4 C372.0,35.9 370.9,35.8 374.1,36.1 C377.3,36.4 375.7,35.8 378.3,37.4 C381.0,38.9 380.1,38.9 382.1,40.7 C384.1,42.5 382.4,42.5 384.4,42.8 C386.4,43.1 385.5,42.4 388.1,41.6 C390.6,40.9 389.1,41.1 392.0,40.7 C394.9,40.2 393.9,40.4 396.7,40.2 C399.5,40.1 398.3,39.9 400.5,40.2 C402.7,40.5 401.5,40.3 403.3,41.1 C405.2,42.0 404.3,41.5 406.0,42.7 C407.7,43.8 407.4,42.9 408.5,44.4 C409.6,46.0 409.2,45.8 409.4,47.4 C409.5,49.1 409.8,48.0 409.1,49.3 C408.4,50.6 409.0,50.2 407.3,51.3 C405.7,52.4 406.6,52.0 404.2,52.7 C401.8,53.3 402.9,52.6 400.2,53.4 C397.6,54.1 398.9,53.9 396.2,54.9 C393.5,55.8 394.8,55.4 392.1,56.2 C389.5,57.0 390.4,56.4 388.3,57.3 C386.3,58.1 387.7,57.7 385.9,58.7 C384.2,59.7 384.5,58.9 383.0,60.2 C381.6,61.6 382.3,61.1 381.6,62.7 C380.9,64.3 382.5,63.8 381.0,65.0 C379.4,66.1 379.7,65.6 376.9,66.2 C374.0,66.8 375.3,66.2 372.5,66.8 C369.6,67.5 371.1,67.3 368.4,68.2 C365.6,69.0 366.7,69.1 364.2,69.4 C361.7,69.7 363.0,69.3 360.9,69.0 C358.8,68.6 359.8,69.2 357.9,68.4 C356.1,67.6 356.6,68.0 355.5,66.7 C354.3,65.4 354.8,66.0 354.6,64.5 C354.5,63.0 355.1,63.6 355.0,62.3 C355.0,61.0 355.8,61.8 354.5,60.6 C353.2,59.5 353.1,60.1 351.1,58.7 C349.0,57.4 349.8,57.9 348.3,56.5 C346.8,55.1 348.3,56.3 346.5,54.5 C344.8,52.8 343.1,53.8 343.1,51.2Z"/></clipPath>
<g clip-path="url(#bl4)">
<path d="M343.1,51.2 C343.0,48.6 343.8,49.3 346.4,46.8 C349.1,44.2 348.1,45.5 351.1,43.6 C354.0,41.7 352.5,42.6 355.4,41.1 C358.3,39.6 356.8,40.1 359.7,39.0 C362.7,37.9 361.2,38.6 364.2,37.7 C367.2,36.9 365.4,37.0 368.7,36.4 C372.0,35.9 370.9,35.8 374.1,36.1 C377.3,36.4 375.7,35.8 378.3,37.4 C381.0,38.9 380.1,38.9 382.1,40.7 C384.1,42.5 382.4,42.5 384.4,42.8 C386.4,43.1 385.5,42.4 388.1,41.6 C390.6,40.9 389.1,41.1 392.0,40.7 C394.9,40.2 393.9,40.4 396.7,40.2 C399.5,40.1 398.3,39.9 400.5,40.2 C402.7,40.5 401.5,40.3 403.3,41.1 C405.2,42.0 404.3,41.5 406.0,42.7 C407.7,43.8 407.4,42.9 408.5,44.4 C409.6,46.0 409.2,45.8 409.4,47.4 C409.5,49.1 409.8,48.0 409.1,49.3 C408.4,50.6 409.0,50.2 407.3,51.3 C405.7,52.4 406.6,52.0 404.2,52.7 C401.8,53.3 402.9,52.6 400.2,53.4 C397.6,54.1 398.9,53.9 396.2,54.9 C393.5,55.8 394.8,55.4 392.1,56.2 C389.5,57.0 390.4,56.4 388.3,57.3 C386.3,58.1 387.7,57.7 385.9,58.7 C384.2,59.7 384.5,58.9 383.0,60.2 C381.6,61.6 382.3,61.1 381.6,62.7 C380.9,64.3 382.5,63.8 381.0,65.0 C379.4,66.1 379.7,65.6 376.9,66.2 C374.0,66.8 375.3,66.2 372.5,66.8 C369.6,67.5 371.1,67.3 368.4,68.2 C365.6,69.0 366.7,69.1 364.2,69.4 C361.7,69.7 363.0,69.3 360.9,69.0 C358.8,68.6 359.8,69.2 357.9,68.4 C356.1,67.6 356.6,68.0 355.5,66.7 C354.3,65.4 354.8,66.0 354.6,64.5 C354.5,63.0 355.1,63.6 355.0,62.3 C355.0,61.0 355.8,61.8 354.5,60.6 C353.2,59.5 353.1,60.1 351.1,58.7 C349.0,57.4 349.8,57.9 348.3,56.5 C346.8,55.1 348.3,56.3 346.5,54.5 C344.8,52.8 343.1,53.8 343.1,51.2Z" fill="#e1e1e1"/>
<ellipse cx="394.5" cy="47" rx="8.5" ry="3.6" fill="#1c1c1c" filter="url(#b2)"/>
<ellipse cx="365" cy="47.5" rx="11" ry="5" fill="#5a5a5a" filter="url(#b2)"/>
<ellipse cx="350.5" cy="50" rx="4" ry="3" fill="#444" filter="url(#b2)"/>
<ellipse cx="363" cy="62" rx="6" ry="4" fill="#fff" filter="url(#b2)"/>
<ellipse cx="368" cy="46.6" rx="5.6" ry="2.3" fill="#fff" filter="url(#b1)"/>
<path d="M343.1,51.2 C343.0,48.6 343.8,49.3 346.4,46.8 C349.1,44.2 348.1,45.5 351.1,43.6 C354.0,41.7 352.5,42.6 355.4,41.1 C358.3,39.6 356.8,40.1 359.7,39.0 C362.7,37.9 361.2,38.6 364.2,37.7 C367.2,36.9 365.4,37.0 368.7,36.4 C372.0,35.9 370.9,35.8 374.1,36.1 C377.3,36.4 375.7,35.8 378.3,37.4 C381.0,38.9 380.1,38.9 382.1,40.7 C384.1,42.5 382.4,42.5 384.4,42.8 C386.4,43.1 385.5,42.4 388.1,41.6 C390.6,40.9 389.1,41.1 392.0,40.7 C394.9,40.2 393.9,40.4 396.7,40.2 C399.5,40.1 398.3,39.9 400.5,40.2 C402.7,40.5 401.5,40.3 403.3,41.1 C405.2,42.0 404.3,41.5 406.0,42.7 C407.7,43.8 407.4,42.9 408.5,44.4 C409.6,46.0 409.2,45.8 409.4,47.4 C409.5,49.1 409.8,48.0 409.1,49.3 C408.4,50.6 409.0,50.2 407.3,51.3 C405.7,52.4 406.6,52.0 404.2,52.7 C401.8,53.3 402.9,52.6 400.2,53.4 C397.6,54.1 398.9,53.9 396.2,54.9 C393.5,55.8 394.8,55.4 392.1,56.2 C389.5,57.0 390.4,56.4 388.3,57.3 C386.3,58.1 387.7,57.7 385.9,58.7 C384.2,59.7 384.5,58.9 383.0,60.2 C381.6,61.6 382.3,61.1 381.6,62.7 C380.9,64.3 382.5,63.8 381.0,65.0 C379.4,66.1 379.7,65.6 376.9,66.2 C374.0,66.8 375.3,66.2 372.5,66.8 C369.6,67.5 371.1,67.3 368.4,68.2 C365.6,69.0 366.7,69.1 364.2,69.4 C361.7,69.7 363.0,69.3 360.9,69.0 C358.8,68.6 359.8,69.2 357.9,68.4 C356.1,67.6 356.6,68.0 355.5,66.7 C354.3,65.4 354.8,66.0 354.6,64.5 C354.5,63.0 355.1,63.6 355.0,62.3 C355.0,61.0 355.8,61.8 354.5,60.6 C353.2,59.5 353.1,60.1 351.1,58.7 C349.0,57.4 349.8,57.9 348.3,56.5 C346.8,55.1 348.3,56.3 346.5,54.5 C344.8,52.8 343.1,53.8 343.1,51.2Z" fill="none" stroke="#000" stroke-width="3.6" filter="url(#bE)"/>
</g>
<path d="M343.1,51.2 C343.0,48.6 343.8,49.3 346.4,46.8 C349.1,44.2 348.1,45.5 351.1,43.6 C354.0,41.7 352.5,42.6 355.4,41.1 C358.3,39.6 356.8,40.1 359.7,39.0 C362.7,37.9 361.2,38.6 364.2,37.7 C367.2,36.9 365.4,37.0 368.7,36.4 C372.0,35.9 370.9,35.8 374.1,36.1 C377.3,36.4 375.7,35.8 378.3,37.4 C381.0,38.9 380.1,38.9 382.1,40.7 C384.1,42.5 382.4,42.5 384.4,42.8 C386.4,43.1 385.5,42.4 388.1,41.6 C390.6,40.9 389.1,41.1 392.0,40.7 C394.9,40.2 393.9,40.4 396.7,40.2 C399.5,40.1 398.3,39.9 400.5,40.2 C402.7,40.5 401.5,40.3 403.3,41.1 C405.2,42.0 404.3,41.5 406.0,42.7 C407.7,43.8 407.4,42.9 408.5,44.4 C409.6,46.0 409.2,45.8 409.4,47.4 C409.5,49.1 409.8,48.0 409.1,49.3 C408.4,50.6 409.0,50.2 407.3,51.3 C405.7,52.4 406.6,52.0 404.2,52.7 C401.8,53.3 402.9,52.6 400.2,53.4 C397.6,54.1 398.9,53.9 396.2,54.9 C393.5,55.8 394.8,55.4 392.1,56.2 C389.5,57.0 390.4,56.4 388.3,57.3 C386.3,58.1 387.7,57.7 385.9,58.7 C384.2,59.7 384.5,58.9 383.0,60.2 C381.6,61.6 382.3,61.1 381.6,62.7 C380.9,64.3 382.5,63.8 381.0,65.0 C379.4,66.1 379.7,65.6 376.9,66.2 C374.0,66.8 375.3,66.2 372.5,66.8 C369.6,67.5 371.1,67.3 368.4,68.2 C365.6,69.0 366.7,69.1 364.2,69.4 C361.7,69.7 363.0,69.3 360.9,69.0 C358.8,68.6 359.8,69.2 357.9,68.4 C356.1,67.6 356.6,68.0 355.5,66.7 C354.3,65.4 354.8,66.0 354.6,64.5 C354.5,63.0 355.1,63.6 355.0,62.3 C355.0,61.0 355.8,61.8 354.5,60.6 C353.2,59.5 353.1,60.1 351.1,58.7 C349.0,57.4 349.8,57.9 348.3,56.5 C346.8,55.1 348.3,56.3 346.5,54.5 C344.8,52.8 343.1,53.8 343.1,51.2Z" fill="none" stroke="#000" stroke-width="1.8" stroke-linejoin="round"/>
<path d="M376.1,45.7 C376.3,46.8 376.4,46.3 375.6,47.4 C374.7,48.6 375.2,48.2 373.5,49.1 C371.7,50.1 372.6,49.7 370.3,50.3 C368.1,50.9 369.0,50.7 366.7,50.8 C364.4,50.9 365.3,51.0 363.4,50.5 C361.4,50.1 362.1,50.4 360.9,49.5 C359.8,48.6 360.0,49.1 359.9,47.9 C359.7,46.8 359.6,47.3 360.4,46.2 C361.3,45.0 360.8,45.4 362.5,44.5 C364.3,43.5 363.4,43.9 365.7,43.3 C367.9,42.7 367.0,42.9 369.3,42.8 C371.6,42.7 370.7,42.6 372.6,43.1 C374.6,43.5 373.9,43.2 375.1,44.1 C376.2,45.0 376.0,44.5 376.1,45.7Z" fill="none" stroke="#fff" stroke-width="1.05"/>
<path d="M371.0,55.0 C372.5,53.7 372.2,53.5 375.0,53.5 C377.8,53.5 377.3,53.2 379.5,55.0 C381.7,56.8 381.2,56.2 381.5,59.0 C381.8,61.8 382.2,61.4 380.5,63.5 C378.8,65.6 379.3,64.6 376.5,65.3 C373.7,66.0 374.3,66.3 372.0,65.5 C369.7,64.7 369.7,64.8 369.5,63.0 C369.3,61.2 371.2,61.8 371.5,60.0 C371.8,58.2 370.7,59.2 370.5,57.5 C370.3,55.8 369.5,56.3 371.0,55.0Z" fill="#000"/>
<ellipse cx="376.6" cy="59.6" rx="2.7" ry="2.1" fill="#fff"/>
<path d="M337.3,44 L340.6,49.3 L337.3,54.6 M340.4,49.3 L344.5,49.8" fill="none" stroke="#000" stroke-width="1.8" stroke-linejoin="round"/>
<clipPath id="bl5"><path d="M356.4,90.1 C356.4,88.0 356.9,88.8 358.0,86.7 C359.2,84.5 357.9,85.4 359.9,83.6 C361.8,81.9 360.8,82.6 363.8,81.4 C366.9,80.2 365.7,80.7 369.0,80.0 C372.2,79.3 370.2,79.9 373.5,79.2 C376.9,78.4 375.9,79.0 379.0,77.9 C382.2,76.7 380.2,77.2 383.1,75.8 C385.9,74.4 384.5,74.9 387.5,73.6 C390.5,72.4 389.1,72.9 392.0,72.0 C394.9,71.1 393.5,71.8 396.2,71.0 C398.9,70.1 397.6,70.4 400.1,69.5 C402.6,68.7 401.8,68.2 403.7,68.4 C405.6,68.5 404.4,68.9 405.8,69.9 C407.2,70.8 406.6,70.0 407.9,71.2 C409.2,72.4 408.5,72.0 409.8,73.5 C411.1,74.9 410.4,74.0 411.7,75.5 C413.1,77.1 412.4,76.3 413.7,78.1 C415.1,79.9 415.2,78.9 415.8,81.0 C416.4,83.2 415.9,82.4 415.6,84.6 C415.3,86.9 415.6,85.6 415.0,87.8 C414.4,90.0 414.9,89.2 413.8,91.3 C412.8,93.3 413.1,92.2 411.8,94.0 C410.5,95.8 411.2,94.8 409.9,96.7 C408.7,98.6 409.7,97.9 408.0,99.7 C406.3,101.5 406.8,100.4 404.8,102.0 C402.8,103.5 403.9,103.0 401.9,104.4 C399.9,105.8 400.7,105.2 398.8,106.1 C397.0,107.0 398.4,106.9 396.3,107.1 C394.2,107.3 395.1,107.2 392.5,106.8 C390.0,106.4 391.4,106.4 388.6,105.9 C385.8,105.4 387.4,105.7 384.1,105.3 C380.7,104.9 381.7,105.5 378.5,104.8 C375.4,104.0 377.5,104.4 374.7,103.1 C371.8,101.7 372.8,102.1 370.0,100.8 C367.1,99.4 368.6,100.4 366.2,99.0 C363.9,97.5 365.0,97.7 362.9,96.4 C360.8,95.1 361.5,96.2 360.0,95.0 C358.4,93.9 359.3,94.5 358.1,92.9 C356.9,91.2 356.4,92.2 356.4,90.1Z"/></clipPath>
<g clip-path="url(#bl5)">
<path d="M356.4,90.1 C356.4,88.0 356.9,88.8 358.0,86.7 C359.2,84.5 357.9,85.4 359.9,83.6 C361.8,81.9 360.8,82.6 363.8,81.4 C366.9,80.2 365.7,80.7 369.0,80.0 C372.2,79.3 370.2,79.9 373.5,79.2 C376.9,78.4 375.9,79.0 379.0,77.9 C382.2,76.7 380.2,77.2 383.1,75.8 C385.9,74.4 384.5,74.9 387.5,73.6 C390.5,72.4 389.1,72.9 392.0,72.0 C394.9,71.1 393.5,71.8 396.2,71.0 C398.9,70.1 397.6,70.4 400.1,69.5 C402.6,68.7 401.8,68.2 403.7,68.4 C405.6,68.5 404.4,68.9 405.8,69.9 C407.2,70.8 406.6,70.0 407.9,71.2 C409.2,72.4 408.5,72.0 409.8,73.5 C411.1,74.9 410.4,74.0 411.7,75.5 C413.1,77.1 412.4,76.3 413.7,78.1 C415.1,79.9 415.2,78.9 415.8,81.0 C416.4,83.2 415.9,82.4 415.6,84.6 C415.3,86.9 415.6,85.6 415.0,87.8 C414.4,90.0 414.9,89.2 413.8,91.3 C412.8,93.3 413.1,92.2 411.8,94.0 C410.5,95.8 411.2,94.8 409.9,96.7 C408.7,98.6 409.7,97.9 408.0,99.7 C406.3,101.5 406.8,100.4 404.8,102.0 C402.8,103.5 403.9,103.0 401.9,104.4 C399.9,105.8 400.7,105.2 398.8,106.1 C397.0,107.0 398.4,106.9 396.3,107.1 C394.2,107.3 395.1,107.2 392.5,106.8 C390.0,106.4 391.4,106.4 388.6,105.9 C385.8,105.4 387.4,105.7 384.1,105.3 C380.7,104.9 381.7,105.5 378.5,104.8 C375.4,104.0 377.5,104.4 374.7,103.1 C371.8,101.7 372.8,102.1 370.0,100.8 C367.1,99.4 368.6,100.4 366.2,99.0 C363.9,97.5 365.0,97.7 362.9,96.4 C360.8,95.1 361.5,96.2 360.0,95.0 C358.4,93.9 359.3,94.5 358.1,92.9 C356.9,91.2 356.4,92.2 356.4,90.1Z" fill="#e1e1e1"/>
<path d="M356.4,90.1 C356.4,88.0 356.9,88.8 358.0,86.7 C359.2,84.5 357.9,85.4 359.9,83.6 C361.8,81.9 360.8,82.6 363.8,81.4 C366.9,80.2 365.7,80.7 369.0,80.0 C372.2,79.3 370.2,79.9 373.5,79.2 C376.9,78.4 375.9,79.0 379.0,77.9 C382.2,76.7 380.2,77.2 383.1,75.8 C385.9,74.4 384.5,74.9 387.5,73.6 C390.5,72.4 389.1,72.9 392.0,72.0 C394.9,71.1 393.5,71.8 396.2,71.0 C398.9,70.1 397.6,70.4 400.1,69.5 C402.6,68.7 401.8,68.2 403.7,68.4 C405.6,68.5 404.4,68.9 405.8,69.9 C407.2,70.8 406.6,70.0 407.9,71.2 C409.2,72.4 408.5,72.0 409.8,73.5 C411.1,74.9 410.4,74.0 411.7,75.5 C413.1,77.1 412.4,76.3 413.7,78.1 C415.1,79.9 415.2,78.9 415.8,81.0 C416.4,83.2 415.9,82.4 415.6,84.6 C415.3,86.9 415.6,85.6 415.0,87.8 C414.4,90.0 414.9,89.2 413.8,91.3 C412.8,93.3 413.1,92.2 411.8,94.0 C410.5,95.8 411.2,94.8 409.9,96.7 C408.7,98.6 409.7,97.9 408.0,99.7 C406.3,101.5 406.8,100.4 404.8,102.0 C402.8,103.5 403.9,103.0 401.9,104.4 C399.9,105.8 400.7,105.2 398.8,106.1 C397.0,107.0 398.4,106.9 396.3,107.1 C394.2,107.3 395.1,107.2 392.5,106.8 C390.0,106.4 391.4,106.4 388.6,105.9 C385.8,105.4 387.4,105.7 384.1,105.3 C380.7,104.9 381.7,105.5 378.5,104.8 C375.4,104.0 377.5,104.4 374.7,103.1 C371.8,101.7 372.8,102.1 370.0,100.8 C367.1,99.4 368.6,100.4 366.2,99.0 C363.9,97.5 365.0,97.7 362.9,96.4 C360.8,95.1 361.5,96.2 360.0,95.0 C358.4,93.9 359.3,94.5 358.1,92.9 C356.9,91.2 356.4,92.2 356.4,90.1Z" fill="none" stroke="#000" stroke-width="3.6" filter="url(#bE)"/>
</g>
<path d="M356.4,90.1 C356.4,88.0 356.9,88.8 358.0,86.7 C359.2,84.5 357.9,85.4 359.9,83.6 C361.8,81.9 360.8,82.6 363.8,81.4 C366.9,80.2 365.7,80.7 369.0,80.0 C372.2,79.3 370.2,79.9 373.5,79.2 C376.9,78.4 375.9,79.0 379.0,77.9 C382.2,76.7 380.2,77.2 383.1,75.8 C385.9,74.4 384.5,74.9 387.5,73.6 C390.5,72.4 389.1,72.9 392.0,72.0 C394.9,71.1 393.5,71.8 396.2,71.0 C398.9,70.1 397.6,70.4 400.1,69.5 C402.6,68.7 401.8,68.2 403.7,68.4 C405.6,68.5 404.4,68.9 405.8,69.9 C407.2,70.8 406.6,70.0 407.9,71.2 C409.2,72.4 408.5,72.0 409.8,73.5 C411.1,74.9 410.4,74.0 411.7,75.5 C413.1,77.1 412.4,76.3 413.7,78.1 C415.1,79.9 415.2,78.9 415.8,81.0 C416.4,83.2 415.9,82.4 415.6,84.6 C415.3,86.9 415.6,85.6 415.0,87.8 C414.4,90.0 414.9,89.2 413.8,91.3 C412.8,93.3 413.1,92.2 411.8,94.0 C410.5,95.8 411.2,94.8 409.9,96.7 C408.7,98.6 409.7,97.9 408.0,99.7 C406.3,101.5 406.8,100.4 404.8,102.0 C402.8,103.5 403.9,103.0 401.9,104.4 C399.9,105.8 400.7,105.2 398.8,106.1 C397.0,107.0 398.4,106.9 396.3,107.1 C394.2,107.3 395.1,107.2 392.5,106.8 C390.0,106.4 391.4,106.4 388.6,105.9 C385.8,105.4 387.4,105.7 384.1,105.3 C380.7,104.9 381.7,105.5 378.5,104.8 C375.4,104.0 377.5,104.4 374.7,103.1 C371.8,101.7 372.8,102.1 370.0,100.8 C367.1,99.4 368.6,100.4 366.2,99.0 C363.9,97.5 365.0,97.7 362.9,96.4 C360.8,95.1 361.5,96.2 360.0,95.0 C358.4,93.9 359.3,94.5 358.1,92.9 C356.9,91.2 356.4,92.2 356.4,90.1Z" fill="none" stroke="#000" stroke-width="1.8" stroke-linejoin="round"/>
<g clip-path="url(#bl5)"><path d="M367.8,89.7 C368.2,87.0 367.5,88.0 370.2,85.1 C372.9,82.2 371.6,83.3 376.0,81.0 C380.4,78.7 378.3,79.7 383.5,78.1 C388.8,76.5 386.2,77.0 391.7,76.1 C397.1,75.2 394.8,75.1 399.8,75.4 C404.8,75.8 403.1,75.2 406.7,77.3 C410.4,79.3 409.3,78.4 410.8,81.6 C412.3,84.8 411.9,83.3 411.1,86.8 C410.4,90.3 411.1,88.8 408.5,92.0 C405.9,95.2 407.5,94.0 403.3,96.4 C399.0,98.9 400.9,98.0 395.7,99.3 C390.5,100.7 393.0,100.4 387.6,100.5 C382.2,100.6 384.5,100.8 379.5,99.6 C374.5,98.3 376.1,98.8 372.5,96.7 C369.0,94.5 370.4,95.5 368.8,93.2 C367.2,90.9 367.3,92.4 367.8,89.7Z" fill="#555" filter="url(#b2)"/></g>
<path d="M370.9,89.5 C371.3,87.2 370.6,88.0 373.0,85.5 C375.4,83.0 374.2,84.0 378.0,82.0 C381.8,80.0 380.0,80.9 384.5,79.5 C389.0,78.1 386.8,78.6 391.5,77.8 C396.2,77.0 394.2,76.9 398.5,77.2 C402.8,77.5 401.3,77.0 404.5,78.8 C407.7,80.6 406.7,79.8 408.0,82.5 C409.3,85.2 409.0,84.0 408.3,87.0 C407.6,90.0 408.3,88.7 406.0,91.5 C403.7,94.3 405.2,93.2 401.5,95.3 C397.8,97.4 399.5,96.6 395.0,97.8 C390.5,99.0 392.7,98.7 388.0,98.8 C383.3,98.9 385.3,99.1 381.0,98.0 C376.7,96.9 378.1,97.3 375.0,95.5 C371.9,93.7 373.2,94.5 371.8,92.5 C370.4,90.5 370.5,91.8 370.9,89.5Z" fill="#4a4a4a"/>
<path d="M373.7,89.3 C374.0,87.3 373.5,88.0 375.5,85.9 C377.5,83.7 376.5,84.6 379.8,82.9 C383.1,81.2 381.5,81.9 385.4,80.7 C389.2,79.5 387.4,79.9 391.4,79.3 C395.4,78.6 393.6,78.5 397.4,78.8 C401.1,79.1 399.8,78.6 402.5,80.1 C405.2,81.7 404.4,81.0 405.5,83.3 C406.6,85.7 406.3,84.6 405.8,87.2 C405.2,89.7 405.7,88.7 403.8,91.0 C401.8,93.4 403.1,92.5 399.9,94.3 C396.8,96.1 398.2,95.4 394.4,96.4 C390.5,97.4 392.4,97.2 388.4,97.3 C384.4,97.3 386.1,97.5 382.4,96.6 C378.6,95.7 379.8,96.0 377.2,94.5 C374.6,92.9 375.6,93.6 374.5,91.9 C373.3,90.2 373.4,91.3 373.7,89.3Z" fill="#c4c4c4" filter="url(#b1)"/>
<path d="M375.2,89.2 C375.5,87.4 375.0,88.0 376.9,86.1 C378.7,84.1 377.8,84.9 380.8,83.4 C383.7,81.8 382.3,82.5 385.8,81.4 C389.3,80.3 387.6,80.7 391.3,80.1 C394.9,79.5 393.4,79.4 396.7,79.6 C400.1,79.9 399.0,79.5 401.4,80.9 C403.9,82.2 403.2,81.6 404.1,83.8 C405.1,85.9 404.9,84.9 404.4,87.3 C403.9,89.6 404.4,88.6 402.6,90.8 C400.8,92.9 401.9,92.1 399.1,93.7 C396.2,95.4 397.5,94.8 394.0,95.7 C390.5,96.6 392.2,96.4 388.6,96.5 C384.9,96.5 386.5,96.7 383.1,95.8 C379.7,95.0 380.8,95.3 378.4,93.9 C376.0,92.5 377.0,93.1 375.9,91.6 C374.8,90.0 374.9,91.0 375.2,89.2Z" fill="#4a4a4a"/>
<path d="M377.9,89.0 C378.1,87.5 377.7,88.1 379.2,86.5 C380.8,84.9 380.0,85.5 382.5,84.2 C384.9,82.9 383.7,83.5 386.6,82.6 C389.5,81.7 388.1,82.0 391.1,81.5 C394.1,81.0 392.9,80.9 395.6,81.1 C398.4,81.3 397.5,81.0 399.5,82.2 C401.5,83.3 400.9,82.8 401.8,84.5 C402.6,86.3 402.4,85.5 402.0,87.4 C401.5,89.4 401.9,88.5 400.5,90.3 C399.0,92.1 399.9,91.4 397.6,92.8 C395.2,94.1 396.3,93.6 393.4,94.4 C390.5,95.1 391.9,95.0 388.9,95.0 C385.9,95.1 387.2,95.2 384.4,94.5 C381.6,93.8 382.5,94.1 380.5,92.9 C378.6,91.7 379.3,92.3 378.5,91.0 C377.6,89.7 377.6,90.5 377.9,89.0Z" fill="#c4c4c4" filter="url(#b1)"/>
<path d="M379.3,88.9 C379.6,87.6 379.2,88.1 380.5,86.7 C381.9,85.2 381.2,85.8 383.4,84.7 C385.6,83.5 384.5,84.0 387.1,83.2 C389.6,82.4 388.4,82.7 391.1,82.3 C393.7,81.8 392.6,81.7 395.1,81.9 C397.5,82.1 396.7,81.8 398.5,82.8 C400.3,83.8 399.8,83.4 400.5,85.0 C401.2,86.5 401.0,85.8 400.6,87.5 C400.3,89.2 400.6,88.5 399.3,90.1 C398.0,91.7 398.9,91.0 396.8,92.2 C394.7,93.4 395.6,93.0 393.1,93.7 C390.5,94.3 391.7,94.2 389.1,94.2 C386.4,94.3 387.6,94.4 385.1,93.8 C382.6,93.2 383.4,93.4 381.7,92.4 C379.9,91.3 380.6,91.8 379.8,90.7 C379.1,89.5 379.1,90.3 379.3,88.9Z" fill="#4a4a4a"/>
<path d="M381.9,88.8 C382.1,87.7 381.8,88.1 382.8,87.0 C383.8,85.9 383.3,86.4 385.0,85.5 C386.7,84.6 385.9,85.0 387.9,84.4 C389.8,83.8 388.9,84.0 390.9,83.6 C393.0,83.3 392.1,83.2 394.0,83.4 C395.9,83.5 395.3,83.3 396.7,84.1 C398.1,84.8 397.6,84.5 398.2,85.7 C398.8,86.9 398.6,86.4 398.3,87.7 C398.0,89.0 398.3,88.4 397.3,89.7 C396.3,90.9 397.0,90.4 395.3,91.3 C393.7,92.2 394.5,91.9 392.5,92.4 C390.5,92.9 391.5,92.8 389.4,92.9 C387.3,92.9 388.2,93.0 386.3,92.5 C384.4,92.0 385.0,92.2 383.7,91.4 C382.3,90.6 382.9,91.0 382.3,90.1 C381.7,89.2 381.7,89.8 381.9,88.8Z" fill="#c4c4c4" filter="url(#b1)"/>
<path d="M383.2,88.7 C383.4,87.8 383.1,88.1 384.0,87.2 C384.9,86.3 384.5,86.6 385.9,85.9 C387.3,85.2 386.6,85.5 388.3,85.0 C389.9,84.5 389.1,84.6 390.9,84.4 C392.6,84.1 391.9,84.0 393.5,84.1 C395.1,84.3 394.5,84.1 395.7,84.7 C396.9,85.4 396.5,85.1 397.0,86.1 C397.4,87.1 397.3,86.6 397.1,87.8 C396.8,88.9 397.1,88.4 396.2,89.4 C395.4,90.4 395.9,90.0 394.6,90.8 C393.2,91.6 393.8,91.3 392.2,91.8 C390.5,92.2 391.3,92.1 389.6,92.1 C387.8,92.1 388.6,92.2 387.0,91.8 C385.4,91.4 385.9,91.6 384.8,90.9 C383.6,90.2 384.1,90.5 383.6,89.8 C383.1,89.1 383.1,89.5 383.2,88.7Z" fill="#4a4a4a"/>
<path d="M385.8,88.5 C385.9,88.0 385.8,88.2 386.3,87.6 C386.9,87.0 386.6,87.2 387.5,86.7 C388.4,86.3 388.0,86.5 389.1,86.1 C390.1,85.8 389.6,85.9 390.7,85.7 C391.8,85.5 391.4,85.5 392.4,85.6 C393.4,85.7 393.1,85.5 393.8,86.0 C394.6,86.4 394.4,86.2 394.7,86.8 C395.0,87.5 394.9,87.2 394.7,87.9 C394.6,88.6 394.7,88.3 394.2,89.0 C393.6,89.6 394.0,89.4 393.1,89.9 C392.2,90.4 392.6,90.2 391.6,90.5 C390.5,90.8 391.0,90.7 389.9,90.7 C388.8,90.7 389.3,90.8 388.2,90.5 C387.2,90.3 387.5,90.4 386.8,89.9 C386.1,89.5 386.4,89.7 386.1,89.2 C385.7,88.7 385.7,89.1 385.8,88.5Z" fill="#c4c4c4" filter="url(#b1)"/>
<ellipse cx="391" cy="88.4" rx="3.8" ry="1.9" fill="#000" filter="url(#b05)"/>
<ellipse cx="397.4" cy="87.8" rx="1.8" ry="0.8" fill="#eee" filter="url(#b05)"/>
<path d="M370.9,89.5 C371.3,87.2 370.6,88.0 373.0,85.5 C375.4,83.0 374.2,84.0 378.0,82.0 C381.8,80.0 380.0,80.9 384.5,79.5 C389.0,78.1 386.8,78.6 391.5,77.8 C396.2,77.0 394.2,76.9 398.5,77.2 C402.8,77.5 401.3,77.0 404.5,78.8 C407.7,80.6 406.7,79.8 408.0,82.5 C409.3,85.2 409.0,84.0 408.3,87.0 C407.6,90.0 408.3,88.7 406.0,91.5 C403.7,94.3 405.2,93.2 401.5,95.3 C397.8,97.4 399.5,96.6 395.0,97.8 C390.5,99.0 392.7,98.7 388.0,98.8 C383.3,98.9 385.3,99.1 381.0,98.0 C376.7,96.9 378.1,97.3 375.0,95.5 C371.9,93.7 373.2,94.5 371.8,92.5 C370.4,90.5 370.5,91.8 370.9,89.5Z" fill="none" stroke="#fff" stroke-width="1.05"/>
<path d="M375.2,89.2 C375.5,87.4 375.0,88.0 376.9,86.1 C378.7,84.1 377.8,84.9 380.8,83.4 C383.7,81.8 382.3,82.5 385.8,81.4 C389.3,80.3 387.6,80.7 391.3,80.1 C394.9,79.5 393.4,79.4 396.7,79.6 C400.1,79.9 399.0,79.5 401.4,80.9 C403.9,82.2 403.2,81.6 404.1,83.8 C405.1,85.9 404.9,84.9 404.4,87.3 C403.9,89.6 404.4,88.6 402.6,90.8 C400.8,92.9 401.9,92.1 399.1,93.7 C396.2,95.4 397.5,94.8 394.0,95.7 C390.5,96.6 392.2,96.4 388.6,96.5 C384.9,96.5 386.5,96.7 383.1,95.8 C379.7,95.0 380.8,95.3 378.4,93.9 C376.0,92.5 377.0,93.1 375.9,91.6 C374.8,90.0 374.9,91.0 375.2,89.2Z" fill="none" stroke="#fff" stroke-width="1.05"/>
<path d="M379.3,88.9 C379.6,87.6 379.2,88.1 380.5,86.7 C381.9,85.2 381.2,85.8 383.4,84.7 C385.6,83.5 384.5,84.0 387.1,83.2 C389.6,82.4 388.4,82.7 391.1,82.3 C393.7,81.8 392.6,81.7 395.1,81.9 C397.5,82.1 396.7,81.8 398.5,82.8 C400.3,83.8 399.8,83.4 400.5,85.0 C401.2,86.5 401.0,85.8 400.6,87.5 C400.3,89.2 400.6,88.5 399.3,90.1 C398.0,91.7 398.9,91.0 396.8,92.2 C394.7,93.4 395.6,93.0 393.1,93.7 C390.5,94.3 391.7,94.2 389.1,94.2 C386.4,94.3 387.6,94.4 385.1,93.8 C382.6,93.2 383.4,93.4 381.7,92.4 C379.9,91.3 380.6,91.8 379.8,90.7 C379.1,89.5 379.1,90.3 379.3,88.9Z" fill="none" stroke="#fff" stroke-width="1.05"/>
<path d="M383.2,88.7 C383.4,87.8 383.1,88.1 384.0,87.2 C384.9,86.3 384.5,86.6 385.9,85.9 C387.3,85.2 386.6,85.5 388.3,85.0 C389.9,84.5 389.1,84.6 390.9,84.4 C392.6,84.1 391.9,84.0 393.5,84.1 C395.1,84.3 394.5,84.1 395.7,84.7 C396.9,85.4 396.5,85.1 397.0,86.1 C397.4,87.1 397.3,86.6 397.1,87.8 C396.8,88.9 397.1,88.4 396.2,89.4 C395.4,90.4 395.9,90.0 394.6,90.8 C393.2,91.6 393.8,91.3 392.2,91.8 C390.5,92.2 391.3,92.1 389.6,92.1 C387.8,92.1 388.6,92.2 387.0,91.8 C385.4,91.4 385.9,91.6 384.8,90.9 C383.6,90.2 384.1,90.5 383.6,89.8 C383.1,89.1 383.1,89.5 383.2,88.7Z" fill="none" stroke="#fff" stroke-width="1.05"/>
</g></g>
<rect x="337.3" y="35.2" width="80.4" height="82.9" fill="none" stroke="#8a8a8a" stroke-width="0.8"/>
<text x="352.6" y="58.8" font-size="9.3" font-weight="bold" text-anchor="middle" fill="#1a1a1a" >13%</text>
<text x="406.5" y="58.8" font-size="9.3" font-weight="bold" text-anchor="middle" fill="#1a1a1a" >5%</text>
<text x="407" y="113.4" font-size="9.3" font-weight="bold" text-anchor="middle" fill="#1a1a1a" >72%</text>
<defs><clipPath id="cb3"><rect x="433.6" y="35.1" width="81.8" height="82.4"/></clipPath></defs>
<text x="434.5" y="123.9" font-size="5.5" font-weight="bold" text-anchor="middle" fill="#222">10<tspan font-size="3.8" dy="-2">0</tspan></text>
<text x="427.6" y="119.7" font-size="5.5" font-weight="bold" text-anchor="middle" fill="#222">10<tspan font-size="3.8" dy="-2">0</tspan></text>
<text x="454.9" y="123.9" font-size="5.5" font-weight="bold" text-anchor="middle" fill="#222">10<tspan font-size="3.8" dy="-2">1</tspan></text>
<text x="427.6" y="99.1" font-size="5.5" font-weight="bold" text-anchor="middle" fill="#222">10<tspan font-size="3.8" dy="-2">1</tspan></text>
<text x="475.4" y="123.9" font-size="5.5" font-weight="bold" text-anchor="middle" fill="#222">10<tspan font-size="3.8" dy="-2">2</tspan></text>
<text x="427.6" y="78.5" font-size="5.5" font-weight="bold" text-anchor="middle" fill="#222">10<tspan font-size="3.8" dy="-2">2</tspan></text>
<text x="495.8" y="123.9" font-size="5.5" font-weight="bold" text-anchor="middle" fill="#222">10<tspan font-size="3.8" dy="-2">3</tspan></text>
<text x="427.6" y="57.9" font-size="5.5" font-weight="bold" text-anchor="middle" fill="#222">10<tspan font-size="3.8" dy="-2">3</tspan></text>
<text x="516.3" y="123.9" font-size="5.5" font-weight="bold" text-anchor="middle" fill="#222">10<tspan font-size="3.8" dy="-2">4</tspan></text>
<text x="427.6" y="37.3" font-size="5.5" font-weight="bold" text-anchor="middle" fill="#222">10<tspan font-size="3.8" dy="-2">4</tspan></text>
<rect x="434.4" y="35.8" width="44.8" height="34.6" fill="none" stroke="#909090" stroke-width="0.6"/>
<rect x="480.6" y="35.8" width="32.7" height="29.2" fill="none" stroke="#909090" stroke-width="0.6"/>
<rect x="474.6" y="72.5" width="38.7" height="42.4" fill="none" stroke="#909090" stroke-width="0.6"/>
<g clip-path="url(#cb3)"><g filter="url(#soft)">
<clipPath id="bl6"><path d="M419.8,82.3 C422.4,66.8 423.4,82.5 428.0,81.6 C432.7,80.8 429.7,80.9 433.7,79.7 C437.7,78.5 436.1,79.1 440.1,77.9 C444.1,76.8 441.7,77.5 445.7,76.3 C449.7,75.1 448.1,75.4 452.1,74.4 C456.1,73.4 454.2,73.9 457.7,73.2 C461.2,72.6 459.4,72.7 462.7,72.6 C465.9,72.4 464.9,71.3 467.5,72.9 C470.1,74.5 468.9,74.0 470.5,77.3 C472.1,80.6 470.9,79.2 472.2,82.7 C473.6,86.2 473.7,84.8 474.5,87.8 C475.3,90.8 475.2,88.8 474.7,91.8 C474.3,94.8 474.1,93.1 473.2,96.8 C472.2,100.5 472.9,98.8 471.9,102.9 C470.9,106.9 471.5,105.2 470.2,108.9 C468.9,112.5 469.3,109.8 468.0,113.8 C466.7,117.7 470.8,116.0 466.4,120.7 C462.0,125.3 470.2,125.2 454.8,127.7 C439.4,130.1 431.9,143.2 420.2,128.0 C408.5,112.9 417.1,97.8 419.8,82.3Z"/></clipPath>
<g clip-path="url(#bl6)">
<path d="M419.8,82.3 C422.4,66.8 423.4,82.5 428.0,81.6 C432.7,80.8 429.7,80.9 433.7,79.7 C437.7,78.5 436.1,79.1 440.1,77.9 C444.1,76.8 441.7,77.5 445.7,76.3 C449.7,75.1 448.1,75.4 452.1,74.4 C456.1,73.4 454.2,73.9 457.7,73.2 C461.2,72.6 459.4,72.7 462.7,72.6 C465.9,72.4 464.9,71.3 467.5,72.9 C470.1,74.5 468.9,74.0 470.5,77.3 C472.1,80.6 470.9,79.2 472.2,82.7 C473.6,86.2 473.7,84.8 474.5,87.8 C475.3,90.8 475.2,88.8 474.7,91.8 C474.3,94.8 474.1,93.1 473.2,96.8 C472.2,100.5 472.9,98.8 471.9,102.9 C470.9,106.9 471.5,105.2 470.2,108.9 C468.9,112.5 469.3,109.8 468.0,113.8 C466.7,117.7 470.8,116.0 466.4,120.7 C462.0,125.3 470.2,125.2 454.8,127.7 C439.4,130.1 431.9,143.2 420.2,128.0 C408.5,112.9 417.1,97.8 419.8,82.3Z" fill="#dcdcdc"/>
<ellipse cx="437" cy="106" rx="2.5" ry="7" fill="#fff" filter="url(#b2)"/>
<ellipse cx="456" cy="114.5" rx="11" ry="2.6" fill="#222" filter="url(#b2)"/>
<ellipse cx="437" cy="86" rx="3" ry="4" fill="#333" filter="url(#b2)"/>
<ellipse cx="468" cy="95" rx="3" ry="14" fill="#555" filter="url(#b2)"/>
<path d="M419.8,82.3 C422.4,66.8 423.4,82.5 428.0,81.6 C432.7,80.8 429.7,80.9 433.7,79.7 C437.7,78.5 436.1,79.1 440.1,77.9 C444.1,76.8 441.7,77.5 445.7,76.3 C449.7,75.1 448.1,75.4 452.1,74.4 C456.1,73.4 454.2,73.9 457.7,73.2 C461.2,72.6 459.4,72.7 462.7,72.6 C465.9,72.4 464.9,71.3 467.5,72.9 C470.1,74.5 468.9,74.0 470.5,77.3 C472.1,80.6 470.9,79.2 472.2,82.7 C473.6,86.2 473.7,84.8 474.5,87.8 C475.3,90.8 475.2,88.8 474.7,91.8 C474.3,94.8 474.1,93.1 473.2,96.8 C472.2,100.5 472.9,98.8 471.9,102.9 C470.9,106.9 471.5,105.2 470.2,108.9 C468.9,112.5 469.3,109.8 468.0,113.8 C466.7,117.7 470.8,116.0 466.4,120.7 C462.0,125.3 470.2,125.2 454.8,127.7 C439.4,130.1 431.9,143.2 420.2,128.0 C408.5,112.9 417.1,97.8 419.8,82.3Z" fill="none" stroke="#000" stroke-width="3.6" filter="url(#bE)"/>
</g>
<path d="M419.8,82.3 C422.4,66.8 423.4,82.5 428.0,81.6 C432.7,80.8 429.7,80.9 433.7,79.7 C437.7,78.5 436.1,79.1 440.1,77.9 C444.1,76.8 441.7,77.5 445.7,76.3 C449.7,75.1 448.1,75.4 452.1,74.4 C456.1,73.4 454.2,73.9 457.7,73.2 C461.2,72.6 459.4,72.7 462.7,72.6 C465.9,72.4 464.9,71.3 467.5,72.9 C470.1,74.5 468.9,74.0 470.5,77.3 C472.1,80.6 470.9,79.2 472.2,82.7 C473.6,86.2 473.7,84.8 474.5,87.8 C475.3,90.8 475.2,88.8 474.7,91.8 C474.3,94.8 474.1,93.1 473.2,96.8 C472.2,100.5 472.9,98.8 471.9,102.9 C470.9,106.9 471.5,105.2 470.2,108.9 C468.9,112.5 469.3,109.8 468.0,113.8 C466.7,117.7 470.8,116.0 466.4,120.7 C462.0,125.3 470.2,125.2 454.8,127.7 C439.4,130.1 431.9,143.2 420.2,128.0 C408.5,112.9 417.1,97.8 419.8,82.3Z" fill="none" stroke="#000" stroke-width="1.8" stroke-linejoin="round"/>
<g clip-path="url(#bl6)"><path d="M438.5,93.6 C438.3,89.7 438.0,91.2 439.8,88.3 C441.5,85.4 440.5,86.5 443.8,84.9 C447.1,83.3 445.6,83.9 449.6,83.6 C453.7,83.2 452.1,83.0 456.0,83.8 C459.9,84.6 458.4,83.7 461.2,86.0 C464.1,88.3 463.6,87.2 464.6,90.7 C465.6,94.1 465.2,92.6 464.2,96.5 C463.3,100.3 463.8,98.8 461.8,102.3 C459.8,105.7 461.0,104.1 458.3,106.9 C455.6,109.7 456.8,109.8 453.7,110.6 C450.6,111.4 452.1,111.0 449.0,109.2 C445.9,107.4 447.3,108.3 444.4,105.2 C441.5,102.1 442.3,103.8 440.3,99.9 C438.4,96.1 438.7,97.4 438.5,93.6Z" fill="#555" filter="url(#b2)"/></g>
<path d="M440.4,94.0 C440.2,90.7 440.0,92.0 441.5,89.5 C443.0,87.0 442.2,87.9 445.0,86.5 C447.8,85.1 446.5,85.7 450.0,85.4 C453.5,85.1 452.2,84.9 455.5,85.6 C458.8,86.3 457.5,85.5 460.0,87.5 C462.5,89.5 462.0,88.5 462.9,91.5 C463.8,94.5 463.4,93.2 462.6,96.5 C461.8,99.8 462.2,98.5 460.5,101.5 C458.8,104.5 459.8,103.1 457.5,105.5 C455.2,107.9 456.2,108.0 453.5,108.7 C450.8,109.4 452.2,109.1 449.5,107.5 C446.8,105.9 448.0,106.7 445.5,104.0 C443.0,101.3 443.7,102.8 442.0,99.5 C440.3,96.2 440.6,97.3 440.4,94.0Z" fill="#4a4a4a"/>
<path d="M442.4,94.5 C442.3,91.7 442.1,92.8 443.3,90.7 C444.6,88.6 443.9,89.4 446.3,88.2 C448.6,87.1 447.5,87.6 450.4,87.3 C453.3,87.1 452.2,86.9 455.0,87.5 C457.7,88.1 456.7,87.4 458.7,89.1 C460.8,90.7 460.4,89.9 461.1,92.4 C461.8,94.9 461.5,93.8 460.9,96.5 C460.2,99.3 460.5,98.2 459.1,100.7 C457.7,103.2 458.6,102.0 456.6,104.0 C454.7,106.0 455.5,106.1 453.3,106.7 C451.1,107.2 452.2,107.0 450.0,105.7 C447.8,104.4 448.7,105.0 446.7,102.8 C444.6,100.6 445.2,101.8 443.8,99.0 C442.3,96.3 442.6,97.2 442.4,94.5Z" fill="#c4c4c4" filter="url(#b1)"/>
<path d="M443.5,94.7 C443.4,92.2 443.2,93.2 444.3,91.4 C445.5,89.5 444.8,90.2 446.9,89.2 C449.0,88.1 448.0,88.6 450.6,88.3 C453.2,88.1 452.2,88.0 454.7,88.5 C457.2,89.0 456.2,88.4 458.0,89.9 C459.8,91.3 459.5,90.6 460.2,92.9 C460.8,95.1 460.5,94.1 459.9,96.6 C459.4,99.0 459.7,98.0 458.4,100.3 C457.1,102.5 457.9,101.4 456.2,103.2 C454.4,105.0 455.2,105.1 453.2,105.6 C451.2,106.1 452.2,105.9 450.3,104.7 C448.3,103.5 449.1,104.1 447.3,102.1 C445.4,100.1 446.0,101.2 444.7,98.8 C443.4,96.3 443.6,97.2 443.5,94.7Z" fill="#4a4a4a"/>
<path d="M445.4,95.1 C445.3,93.2 445.1,94.0 446.0,92.5 C446.9,91.0 446.4,91.5 448.1,90.7 C449.7,89.9 449.0,90.3 451.0,90.1 C453.0,89.9 452.3,89.8 454.2,90.2 C456.2,90.6 455.4,90.2 456.8,91.3 C458.3,92.5 458.0,91.9 458.5,93.7 C459.0,95.4 458.8,94.6 458.4,96.6 C457.9,98.5 458.1,97.8 457.1,99.5 C456.1,101.3 456.7,100.4 455.4,101.8 C454.0,103.2 454.6,103.3 453.0,103.7 C451.5,104.1 452.3,103.9 450.7,103.0 C449.1,102.1 449.8,102.5 448.4,101.0 C446.9,99.4 447.3,100.3 446.3,98.3 C445.3,96.4 445.5,97.1 445.4,95.1Z" fill="#c4c4c4" filter="url(#b1)"/>
<path d="M446.4,95.3 C446.3,93.7 446.2,94.3 446.9,93.1 C447.7,91.8 447.3,92.3 448.7,91.6 C450.1,90.9 449.4,91.2 451.2,91.1 C452.9,90.9 452.3,90.8 453.9,91.2 C455.6,91.5 455.0,91.1 456.2,92.1 C457.4,93.1 457.2,92.6 457.6,94.1 C458.1,95.6 457.9,94.9 457.5,96.6 C457.1,98.3 457.3,97.6 456.4,99.1 C455.6,100.6 456.1,99.9 454.9,101.1 C453.8,102.3 454.3,102.4 452.9,102.7 C451.6,103.0 452.3,102.9 450.9,102.1 C449.6,101.3 450.2,101.7 448.9,100.3 C447.7,99.0 448.1,99.8 447.2,98.1 C446.3,96.4 446.5,97.0 446.4,95.3Z" fill="#4a4a4a"/>
<path d="M448.1,95.7 C448.1,94.5 448.0,95.0 448.5,94.1 C449.1,93.2 448.7,93.5 449.8,93.1 C450.8,92.6 450.3,92.8 451.5,92.7 C452.8,92.6 452.3,92.5 453.5,92.7 C454.7,93.0 454.2,92.7 455.1,93.4 C456.0,94.1 455.8,93.8 456.1,94.8 C456.5,95.9 456.3,95.4 456.0,96.6 C455.8,97.8 455.9,97.3 455.3,98.4 C454.7,99.5 455.1,99.0 454.2,99.8 C453.4,100.7 453.7,100.7 452.8,101.0 C451.8,101.2 452.3,101.1 451.4,100.6 C450.4,100.0 450.8,100.3 449.9,99.3 C449.0,98.4 449.3,98.9 448.7,97.7 C448.1,96.5 448.2,96.9 448.1,95.7Z" fill="#c4c4c4" filter="url(#b1)"/>
<path d="M449.0,95.9 C449.0,95.0 448.9,95.4 449.3,94.7 C449.8,94.0 449.5,94.2 450.3,93.8 C451.1,93.5 450.7,93.6 451.7,93.5 C452.7,93.5 452.3,93.4 453.3,93.6 C454.2,93.8 453.8,93.6 454.5,94.1 C455.2,94.7 455.1,94.4 455.3,95.2 C455.6,96.1 455.5,95.7 455.3,96.6 C455.0,97.6 455.1,97.2 454.7,98.0 C454.2,98.9 454.5,98.5 453.8,99.2 C453.2,99.8 453.5,99.9 452.7,100.1 C452.0,100.2 452.3,100.2 451.6,99.7 C450.8,99.3 451.2,99.5 450.5,98.7 C449.8,98.0 450.0,98.4 449.5,97.5 C449.0,96.6 449.1,96.9 449.0,95.9Z" fill="#4a4a4a"/>
<path d="M450.2,96.2 C450.2,95.6 450.2,95.9 450.4,95.4 C450.7,95.0 450.6,95.1 451.1,94.9 C451.6,94.6 451.3,94.7 452.0,94.7 C452.6,94.6 452.4,94.6 453.0,94.7 C453.6,94.8 453.3,94.7 453.8,95.0 C454.2,95.4 454.1,95.2 454.3,95.8 C454.4,96.3 454.4,96.1 454.2,96.7 C454.1,97.3 454.2,97.0 453.9,97.6 C453.6,98.1 453.7,97.9 453.3,98.3 C452.9,98.7 453.1,98.7 452.6,98.9 C452.1,99.0 452.4,98.9 451.9,98.6 C451.4,98.4 451.6,98.5 451.2,98.0 C450.7,97.5 450.8,97.8 450.5,97.2 C450.2,96.6 450.3,96.8 450.2,96.2Z" fill="#c4c4c4" filter="url(#b1)"/>
<ellipse cx="452.6" cy="97" rx="2.6" ry="2.6" fill="#333" filter="url(#b05)"/>
<path d="M440.4,94.0 C440.2,90.7 440.0,92.0 441.5,89.5 C443.0,87.0 442.2,87.9 445.0,86.5 C447.8,85.1 446.5,85.7 450.0,85.4 C453.5,85.1 452.2,84.9 455.5,85.6 C458.8,86.3 457.5,85.5 460.0,87.5 C462.5,89.5 462.0,88.5 462.9,91.5 C463.8,94.5 463.4,93.2 462.6,96.5 C461.8,99.8 462.2,98.5 460.5,101.5 C458.8,104.5 459.8,103.1 457.5,105.5 C455.2,107.9 456.2,108.0 453.5,108.7 C450.8,109.4 452.2,109.1 449.5,107.5 C446.8,105.9 448.0,106.7 445.5,104.0 C443.0,101.3 443.7,102.8 442.0,99.5 C440.3,96.2 440.6,97.3 440.4,94.0Z" fill="none" stroke="#fff" stroke-width="1.05"/>
<path d="M443.5,94.7 C443.4,92.2 443.2,93.2 444.3,91.4 C445.5,89.5 444.8,90.2 446.9,89.2 C449.0,88.1 448.0,88.6 450.6,88.3 C453.2,88.1 452.2,88.0 454.7,88.5 C457.2,89.0 456.2,88.4 458.0,89.9 C459.8,91.3 459.5,90.6 460.2,92.9 C460.8,95.1 460.5,94.1 459.9,96.6 C459.4,99.0 459.7,98.0 458.4,100.3 C457.1,102.5 457.9,101.4 456.2,103.2 C454.4,105.0 455.2,105.1 453.2,105.6 C451.2,106.1 452.2,105.9 450.3,104.7 C448.3,103.5 449.1,104.1 447.3,102.1 C445.4,100.1 446.0,101.2 444.7,98.8 C443.4,96.3 443.6,97.2 443.5,94.7Z" fill="none" stroke="#fff" stroke-width="1.05"/>
<path d="M446.4,95.3 C446.3,93.7 446.2,94.3 446.9,93.1 C447.7,91.8 447.3,92.3 448.7,91.6 C450.1,90.9 449.4,91.2 451.2,91.1 C452.9,90.9 452.3,90.8 453.9,91.2 C455.6,91.5 455.0,91.1 456.2,92.1 C457.4,93.1 457.2,92.6 457.6,94.1 C458.1,95.6 457.9,94.9 457.5,96.6 C457.1,98.3 457.3,97.6 456.4,99.1 C455.6,100.6 456.1,99.9 454.9,101.1 C453.8,102.3 454.3,102.4 452.9,102.7 C451.6,103.0 452.3,102.9 450.9,102.1 C449.6,101.3 450.2,101.7 448.9,100.3 C447.7,99.0 448.1,99.8 447.2,98.1 C446.3,96.4 446.5,97.0 446.4,95.3Z" fill="none" stroke="#fff" stroke-width="1.05"/>
<path d="M449.0,95.9 C449.0,95.0 448.9,95.4 449.3,94.7 C449.8,94.0 449.5,94.2 450.3,93.8 C451.1,93.5 450.7,93.6 451.7,93.5 C452.7,93.5 452.3,93.4 453.3,93.6 C454.2,93.8 453.8,93.6 454.5,94.1 C455.2,94.7 455.1,94.4 455.3,95.2 C455.6,96.1 455.5,95.7 455.3,96.6 C455.0,97.6 455.1,97.2 454.7,98.0 C454.2,98.9 454.5,98.5 453.8,99.2 C453.2,99.8 453.5,99.9 452.7,100.1 C452.0,100.2 452.3,100.2 451.6,99.7 C450.8,99.3 451.2,99.5 450.5,98.7 C449.8,98.0 450.0,98.4 449.5,97.5 C449.0,96.6 449.1,96.9 449.0,95.9Z" fill="none" stroke="#fff" stroke-width="1.05"/>
<clipPath id="bl7"><path d="M419.8,45.0 C423.3,40.1 424.1,44.5 430.3,44.6 C436.4,44.6 432.9,45.0 438.2,45.2 C443.4,45.3 440.7,45.2 446.0,45.0 C451.2,44.8 448.9,44.5 453.9,44.5 C459.0,44.5 456.8,44.5 461.1,45.0 C465.4,45.5 463.6,45.0 466.9,46.0 C470.2,47.0 469.2,46.3 471.1,48.1 C473.0,49.9 472.7,49.2 472.5,51.4 C472.4,53.6 472.7,52.7 470.7,54.6 C468.8,56.5 469.7,56.0 466.7,57.1 C463.8,58.3 465.2,57.5 461.9,58.1 C458.5,58.7 460.0,58.8 456.8,59.0 C453.5,59.2 455.5,58.6 452.2,58.6 C448.9,58.6 450.0,58.7 446.9,59.1 C443.8,59.6 445.9,59.9 442.9,60.0 C439.9,60.0 440.8,59.6 437.8,59.3 C434.8,58.9 437.0,59.0 433.9,58.9 C430.7,58.8 433.0,58.9 428.3,59.0 C423.6,59.2 422.7,64.0 419.8,59.3 C417.0,54.6 416.3,49.9 419.8,45.0Z"/></clipPath>
<g clip-path="url(#bl7)">
<path d="M419.8,45.0 C423.3,40.1 424.1,44.5 430.3,44.6 C436.4,44.6 432.9,45.0 438.2,45.2 C443.4,45.3 440.7,45.2 446.0,45.0 C451.2,44.8 448.9,44.5 453.9,44.5 C459.0,44.5 456.8,44.5 461.1,45.0 C465.4,45.5 463.6,45.0 466.9,46.0 C470.2,47.0 469.2,46.3 471.1,48.1 C473.0,49.9 472.7,49.2 472.5,51.4 C472.4,53.6 472.7,52.7 470.7,54.6 C468.8,56.5 469.7,56.0 466.7,57.1 C463.8,58.3 465.2,57.5 461.9,58.1 C458.5,58.7 460.0,58.8 456.8,59.0 C453.5,59.2 455.5,58.6 452.2,58.6 C448.9,58.6 450.0,58.7 446.9,59.1 C443.8,59.6 445.9,59.9 442.9,60.0 C439.9,60.0 440.8,59.6 437.8,59.3 C434.8,58.9 437.0,59.0 433.9,58.9 C430.7,58.8 433.0,58.9 428.3,59.0 C423.6,59.2 422.7,64.0 419.8,59.3 C417.0,54.6 416.3,49.9 419.8,45.0Z" fill="#d7d7d7"/>
<ellipse cx="440" cy="51.5" rx="7" ry="4" fill="#333" filter="url(#b2)"/>
<ellipse cx="455" cy="51" rx="12" ry="3.5" fill="#777" filter="url(#b2)"/>
<ellipse cx="462.5" cy="49.8" rx="5" ry="1.7" fill="#fff" filter="url(#b1)"/>
<path d="M419.8,45.0 C423.3,40.1 424.1,44.5 430.3,44.6 C436.4,44.6 432.9,45.0 438.2,45.2 C443.4,45.3 440.7,45.2 446.0,45.0 C451.2,44.8 448.9,44.5 453.9,44.5 C459.0,44.5 456.8,44.5 461.1,45.0 C465.4,45.5 463.6,45.0 466.9,46.0 C470.2,47.0 469.2,46.3 471.1,48.1 C473.0,49.9 472.7,49.2 472.5,51.4 C472.4,53.6 472.7,52.7 470.7,54.6 C468.8,56.5 469.7,56.0 466.7,57.1 C463.8,58.3 465.2,57.5 461.9,58.1 C458.5,58.7 460.0,58.8 456.8,59.0 C453.5,59.2 455.5,58.6 452.2,58.6 C448.9,58.6 450.0,58.7 446.9,59.1 C443.8,59.6 445.9,59.9 442.9,60.0 C439.9,60.0 440.8,59.6 437.8,59.3 C434.8,58.9 437.0,59.0 433.9,58.9 C430.7,58.8 433.0,58.9 428.3,59.0 C423.6,59.2 422.7,64.0 419.8,59.3 C417.0,54.6 416.3,49.9 419.8,45.0Z" fill="none" stroke="#000" stroke-width="3.6" filter="url(#bE)"/>
</g>
<path d="M419.8,45.0 C423.3,40.1 424.1,44.5 430.3,44.6 C436.4,44.6 432.9,45.0 438.2,45.2 C443.4,45.3 440.7,45.2 446.0,45.0 C451.2,44.8 448.9,44.5 453.9,44.5 C459.0,44.5 456.8,44.5 461.1,45.0 C465.4,45.5 463.6,45.0 466.9,46.0 C470.2,47.0 469.2,46.3 471.1,48.1 C473.0,49.9 472.7,49.2 472.5,51.4 C472.4,53.6 472.7,52.7 470.7,54.6 C468.8,56.5 469.7,56.0 466.7,57.1 C463.8,58.3 465.2,57.5 461.9,58.1 C458.5,58.7 460.0,58.8 456.8,59.0 C453.5,59.2 455.5,58.6 452.2,58.6 C448.9,58.6 450.0,58.7 446.9,59.1 C443.8,59.6 445.9,59.9 442.9,60.0 C439.9,60.0 440.8,59.6 437.8,59.3 C434.8,58.9 437.0,59.0 433.9,58.9 C430.7,58.8 433.0,58.9 428.3,59.0 C423.6,59.2 422.7,64.0 419.8,59.3 C417.0,54.6 416.3,49.9 419.8,45.0Z" fill="none" stroke="#000" stroke-width="1.8" stroke-linejoin="round"/>
<path d="M440.5,51.5 C441.3,49.8 440.5,50.3 444.0,49.0 C447.5,47.7 446.3,48.3 451.0,47.6 C455.7,46.9 453.7,47.1 458.0,47.0 C462.3,46.9 460.6,46.6 464.0,47.2 C467.4,47.8 466.5,47.4 468.2,48.8 C469.9,50.2 469.7,49.8 469.0,51.5 C468.3,53.2 469.0,52.8 466.0,54.0 C463.0,55.2 464.3,54.6 460.0,55.0 C455.7,55.4 457.7,55.2 453.0,55.2 C448.3,55.2 449.8,55.4 446.0,55.0 C442.2,54.6 443.3,55.2 441.5,54.0 C439.7,52.8 439.7,53.2 440.5,51.5Z" fill="none" stroke="#fff" stroke-width="1.05"/>
<path d="M446.5,60.0 C448.0,58.5 448.2,59.2 452.0,59.0 C455.8,58.8 455.2,58.3 458.0,59.5 C460.8,60.7 459.8,60.3 460.5,62.5 C461.2,64.7 459.3,63.7 460.0,66.0 C460.7,68.3 461.3,67.2 462.5,69.5 C463.7,71.8 464.0,70.8 463.5,73.0 C463.0,75.2 463.5,74.8 461.0,76.0 C458.5,77.2 459.2,76.8 456.0,76.5 C452.8,76.2 453.7,76.7 451.5,75.0 C449.3,73.3 450.3,74.2 449.5,71.5 C448.7,68.8 449.7,69.7 449.0,67.0 C448.3,64.3 448.3,65.8 447.5,63.5 C446.7,61.2 445.0,61.5 446.5,60.0Z" fill="#000"/>
<ellipse cx="456" cy="68.4" rx="1.7" ry="1.5" fill="#fff"/>
<path d="M434.3,58 L434.3,65" stroke="#000" stroke-width="1.6"/>
<path d="M480,91.5 L482.5,91.8" stroke="#000" stroke-width="1.6"/>
<clipPath id="bl8"><path d="M481.2,97.9 C480.7,93.6 480.7,95.5 481.2,91.9 C481.6,88.3 481.4,90.0 482.5,87.0 C483.5,84.0 482.6,85.2 484.3,83.0 C486.0,80.8 485.0,81.5 487.7,80.3 C490.3,79.1 489.2,79.8 492.2,79.4 C495.2,79.1 494.0,78.9 496.7,79.3 C499.4,79.7 498.2,79.2 500.4,80.6 C502.5,82.0 501.7,81.0 503.1,83.5 C504.4,86.0 503.9,84.5 504.5,88.1 C505.0,91.7 504.7,90.3 504.7,94.3 C504.6,98.2 504.4,96.4 504.3,99.9 C504.2,103.4 504.9,101.5 504.3,104.8 C503.8,108.0 504.4,106.8 502.7,109.6 C500.9,112.4 501.5,111.5 499.2,113.2 C496.9,115.0 498.4,114.3 495.8,114.9 C493.1,115.5 494.2,115.6 491.2,115.0 C488.2,114.4 489.1,114.8 486.7,113.0 C484.4,111.3 485.6,112.5 484.2,109.7 C482.8,107.0 483.5,108.7 482.5,104.7 C481.5,100.8 481.6,102.2 481.2,97.9Z"/></clipPath>
<g clip-path="url(#bl8)">
<path d="M481.2,97.9 C480.7,93.6 480.7,95.5 481.2,91.9 C481.6,88.3 481.4,90.0 482.5,87.0 C483.5,84.0 482.6,85.2 484.3,83.0 C486.0,80.8 485.0,81.5 487.7,80.3 C490.3,79.1 489.2,79.8 492.2,79.4 C495.2,79.1 494.0,78.9 496.7,79.3 C499.4,79.7 498.2,79.2 500.4,80.6 C502.5,82.0 501.7,81.0 503.1,83.5 C504.4,86.0 503.9,84.5 504.5,88.1 C505.0,91.7 504.7,90.3 504.7,94.3 C504.6,98.2 504.4,96.4 504.3,99.9 C504.2,103.4 504.9,101.5 504.3,104.8 C503.8,108.0 504.4,106.8 502.7,109.6 C500.9,112.4 501.5,111.5 499.2,113.2 C496.9,115.0 498.4,114.3 495.8,114.9 C493.1,115.5 494.2,115.6 491.2,115.0 C488.2,114.4 489.1,114.8 486.7,113.0 C484.4,111.3 485.6,112.5 484.2,109.7 C482.8,107.0 483.5,108.7 482.5,104.7 C481.5,100.8 481.6,102.2 481.2,97.9Z" fill="#c8c8c8"/>
<ellipse cx="493.5" cy="98" rx="6" ry="10" fill="#777" filter="url(#b3)"/>
<ellipse cx="495" cy="94.9" rx="2.3" ry="3.8" fill="#fff" filter="url(#b1)"/>
<path d="M481.2,97.9 C480.7,93.6 480.7,95.5 481.2,91.9 C481.6,88.3 481.4,90.0 482.5,87.0 C483.5,84.0 482.6,85.2 484.3,83.0 C486.0,80.8 485.0,81.5 487.7,80.3 C490.3,79.1 489.2,79.8 492.2,79.4 C495.2,79.1 494.0,78.9 496.7,79.3 C499.4,79.7 498.2,79.2 500.4,80.6 C502.5,82.0 501.7,81.0 503.1,83.5 C504.4,86.0 503.9,84.5 504.5,88.1 C505.0,91.7 504.7,90.3 504.7,94.3 C504.6,98.2 504.4,96.4 504.3,99.9 C504.2,103.4 504.9,101.5 504.3,104.8 C503.8,108.0 504.4,106.8 502.7,109.6 C500.9,112.4 501.5,111.5 499.2,113.2 C496.9,115.0 498.4,114.3 495.8,114.9 C493.1,115.5 494.2,115.6 491.2,115.0 C488.2,114.4 489.1,114.8 486.7,113.0 C484.4,111.3 485.6,112.5 484.2,109.7 C482.8,107.0 483.5,108.7 482.5,104.7 C481.5,100.8 481.6,102.2 481.2,97.9Z" fill="none" stroke="#000" stroke-width="3.6" filter="url(#bE)"/>
</g>
<path d="M481.2,97.9 C480.7,93.6 480.7,95.5 481.2,91.9 C481.6,88.3 481.4,90.0 482.5,87.0 C483.5,84.0 482.6,85.2 484.3,83.0 C486.0,80.8 485.0,81.5 487.7,80.3 C490.3,79.1 489.2,79.8 492.2,79.4 C495.2,79.1 494.0,78.9 496.7,79.3 C499.4,79.7 498.2,79.2 500.4,80.6 C502.5,82.0 501.7,81.0 503.1,83.5 C504.4,86.0 503.9,84.5 504.5,88.1 C505.0,91.7 504.7,90.3 504.7,94.3 C504.6,98.2 504.4,96.4 504.3,99.9 C504.2,103.4 504.9,101.5 504.3,104.8 C503.8,108.0 504.4,106.8 502.7,109.6 C500.9,112.4 501.5,111.5 499.2,113.2 C496.9,115.0 498.4,114.3 495.8,114.9 C493.1,115.5 494.2,115.6 491.2,115.0 C488.2,114.4 489.1,114.8 486.7,113.0 C484.4,111.3 485.6,112.5 484.2,109.7 C482.8,107.0 483.5,108.7 482.5,104.7 C481.5,100.8 481.6,102.2 481.2,97.9Z" fill="none" stroke="#000" stroke-width="1.8" stroke-linejoin="round"/>
<ellipse cx="494" cy="117.6" rx="7.5" ry="1.7" fill="#000"/>
<path d="M464,35 Q466.5,38.5 469,35" fill="none" stroke="#000" stroke-width="1.3"/>
</g></g>
<rect x="433.6" y="35.1" width="81.8" height="82.4" fill="none" stroke="#8a8a8a" stroke-width="0.8"/>
<text x="450.5" y="58.9" font-size="9.3" font-weight="bold" text-anchor="middle" fill="#1a1a1a" >13%</text>
<text x="505" y="112.8" font-size="9.3" font-weight="bold" text-anchor="middle" fill="#1a1a1a" >11%</text>
<defs><clipPath id="cb4"><rect x="244.5" y="147.4" width="78.2" height="79.8"/></clipPath></defs>
<text x="245.4" y="236.9" font-size="5.5" font-weight="bold" text-anchor="middle" fill="#222">10<tspan font-size="3.8" dy="-2">0</tspan></text>
<text x="236.5" y="231.0" font-size="5.5" font-weight="bold" text-anchor="middle" fill="#222">10<tspan font-size="3.8" dy="-2">0</tspan></text>
<text x="264.9" y="236.9" font-size="5.5" font-weight="bold" text-anchor="middle" fill="#222">10<tspan font-size="3.8" dy="-2">1</tspan></text>
<text x="236.5" y="209.4" font-size="5.5" font-weight="bold" text-anchor="middle" fill="#222">10<tspan font-size="3.8" dy="-2">1</tspan></text>
<text x="284.5" y="236.9" font-size="5.5" font-weight="bold" text-anchor="middle" fill="#222">10<tspan font-size="3.8" dy="-2">2</tspan></text>
<text x="236.5" y="189.5" font-size="5.5" font-weight="bold" text-anchor="middle" fill="#222">10<tspan font-size="3.8" dy="-2">2</tspan></text>
<text x="304.0" y="236.9" font-size="5.5" font-weight="bold" text-anchor="middle" fill="#222">10<tspan font-size="3.8" dy="-2">3</tspan></text>
<text x="236.5" y="169.5" font-size="5.5" font-weight="bold" text-anchor="middle" fill="#222">10<tspan font-size="3.8" dy="-2">3</tspan></text>
<text x="323.6" y="236.9" font-size="5.5" font-weight="bold" text-anchor="middle" fill="#222">10<tspan font-size="3.8" dy="-2">4</tspan></text>
<text x="236.5" y="149.6" font-size="5.5" font-weight="bold" text-anchor="middle" fill="#222">10<tspan font-size="3.8" dy="-2">4</tspan></text>
<g clip-path="url(#cb4)"><g filter="url(#soft)">
<clipPath id="bl9"><path d="M238.1,196.6 C240.8,193.0 241.8,197.3 246.1,196.7 C250.4,196.2 247.3,195.7 250.8,195.0 C254.4,194.3 252.8,194.5 256.8,194.6 C260.8,194.7 258.7,195.4 262.8,195.4 C266.8,195.4 264.9,194.9 269.0,194.7 C273.1,194.5 271.1,195.1 275.1,194.8 C279.1,194.5 277.0,194.1 281.0,193.7 C285.0,193.3 283.2,193.9 287.2,193.6 C291.2,193.4 289.0,193.5 293.0,192.9 C297.0,192.4 294.8,192.5 299.1,192.0 C303.4,191.6 302.4,191.6 305.9,191.7 C309.5,191.7 307.2,191.5 309.7,192.1 C312.3,192.6 311.5,192.0 313.6,193.4 C315.8,194.8 314.9,194.4 316.1,196.3 C317.4,198.1 316.9,196.8 317.4,198.9 C317.9,201.0 317.7,200.2 317.6,202.6 C317.4,205.0 317.8,204.0 317.0,206.1 C316.1,208.2 316.6,207.0 315.1,208.9 C313.5,210.9 314.1,210.2 312.3,211.9 C310.5,213.5 311.7,212.8 309.6,213.9 C307.6,214.9 308.7,214.5 306.0,215.0 C303.4,215.5 304.7,215.5 301.7,215.4 C298.8,215.3 300.3,215.3 297.1,214.7 C293.9,214.1 295.7,214.2 292.0,213.6 C288.3,212.9 290.0,213.4 286.0,212.8 C282.0,212.2 283.7,212.4 280.0,211.8 C276.3,211.2 278.1,211.5 274.8,211.0 C271.6,210.5 273.3,210.8 270.3,210.3 C267.2,209.7 269.1,209.9 265.7,209.4 C262.3,208.8 264.1,209.2 260.2,208.6 C256.3,208.0 258.1,207.7 254.0,207.6 C249.8,207.4 253.2,208.1 247.8,208.2 C242.4,208.2 241.1,211.6 237.8,207.7 C234.6,203.9 235.3,200.3 238.1,196.6Z"/></clipPath>
<g clip-path="url(#bl9)">
<path d="M238.1,196.6 C240.8,193.0 241.8,197.3 246.1,196.7 C250.4,196.2 247.3,195.7 250.8,195.0 C254.4,194.3 252.8,194.5 256.8,194.6 C260.8,194.7 258.7,195.4 262.8,195.4 C266.8,195.4 264.9,194.9 269.0,194.7 C273.1,194.5 271.1,195.1 275.1,194.8 C279.1,194.5 277.0,194.1 281.0,193.7 C285.0,193.3 283.2,193.9 287.2,193.6 C291.2,193.4 289.0,193.5 293.0,192.9 C297.0,192.4 294.8,192.5 299.1,192.0 C303.4,191.6 302.4,191.6 305.9,191.7 C309.5,191.7 307.2,191.5 309.7,192.1 C312.3,192.6 311.5,192.0 313.6,193.4 C315.8,194.8 314.9,194.4 316.1,196.3 C317.4,198.1 316.9,196.8 317.4,198.9 C317.9,201.0 317.7,200.2 317.6,202.6 C317.4,205.0 317.8,204.0 317.0,206.1 C316.1,208.2 316.6,207.0 315.1,208.9 C313.5,210.9 314.1,210.2 312.3,211.9 C310.5,213.5 311.7,212.8 309.6,213.9 C307.6,214.9 308.7,214.5 306.0,215.0 C303.4,215.5 304.7,215.5 301.7,215.4 C298.8,215.3 300.3,215.3 297.1,214.7 C293.9,214.1 295.7,214.2 292.0,213.6 C288.3,212.9 290.0,213.4 286.0,212.8 C282.0,212.2 283.7,212.4 280.0,211.8 C276.3,211.2 278.1,211.5 274.8,211.0 C271.6,210.5 273.3,210.8 270.3,210.3 C267.2,209.7 269.1,209.9 265.7,209.4 C262.3,208.8 264.1,209.2 260.2,208.6 C256.3,208.0 258.1,207.7 254.0,207.6 C249.8,207.4 253.2,208.1 247.8,208.2 C242.4,208.2 241.1,211.6 237.8,207.7 C234.6,203.9 235.3,200.3 238.1,196.6Z" fill="#dedede"/>
<ellipse cx="276" cy="203.2" rx="16" ry="4.4" fill="#000" filter="url(#b2)"/>
<ellipse cx="252" cy="202" rx="4" ry="3" fill="#777" filter="url(#b2)"/>
<path d="M238.1,196.6 C240.8,193.0 241.8,197.3 246.1,196.7 C250.4,196.2 247.3,195.7 250.8,195.0 C254.4,194.3 252.8,194.5 256.8,194.6 C260.8,194.7 258.7,195.4 262.8,195.4 C266.8,195.4 264.9,194.9 269.0,194.7 C273.1,194.5 271.1,195.1 275.1,194.8 C279.1,194.5 277.0,194.1 281.0,193.7 C285.0,193.3 283.2,193.9 287.2,193.6 C291.2,193.4 289.0,193.5 293.0,192.9 C297.0,192.4 294.8,192.5 299.1,192.0 C303.4,191.6 302.4,191.6 305.9,191.7 C309.5,191.7 307.2,191.5 309.7,192.1 C312.3,192.6 311.5,192.0 313.6,193.4 C315.8,194.8 314.9,194.4 316.1,196.3 C317.4,198.1 316.9,196.8 317.4,198.9 C317.9,201.0 317.7,200.2 317.6,202.6 C317.4,205.0 317.8,204.0 317.0,206.1 C316.1,208.2 316.6,207.0 315.1,208.9 C313.5,210.9 314.1,210.2 312.3,211.9 C310.5,213.5 311.7,212.8 309.6,213.9 C307.6,214.9 308.7,214.5 306.0,215.0 C303.4,215.5 304.7,215.5 301.7,215.4 C298.8,215.3 300.3,215.3 297.1,214.7 C293.9,214.1 295.7,214.2 292.0,213.6 C288.3,212.9 290.0,213.4 286.0,212.8 C282.0,212.2 283.7,212.4 280.0,211.8 C276.3,211.2 278.1,211.5 274.8,211.0 C271.6,210.5 273.3,210.8 270.3,210.3 C267.2,209.7 269.1,209.9 265.7,209.4 C262.3,208.8 264.1,209.2 260.2,208.6 C256.3,208.0 258.1,207.7 254.0,207.6 C249.8,207.4 253.2,208.1 247.8,208.2 C242.4,208.2 241.1,211.6 237.8,207.7 C234.6,203.9 235.3,200.3 238.1,196.6Z" fill="none" stroke="#000" stroke-width="3.6" filter="url(#bE)"/>
</g>
<path d="M238.1,196.6 C240.8,193.0 241.8,197.3 246.1,196.7 C250.4,196.2 247.3,195.7 250.8,195.0 C254.4,194.3 252.8,194.5 256.8,194.6 C260.8,194.7 258.7,195.4 262.8,195.4 C266.8,195.4 264.9,194.9 269.0,194.7 C273.1,194.5 271.1,195.1 275.1,194.8 C279.1,194.5 277.0,194.1 281.0,193.7 C285.0,193.3 283.2,193.9 287.2,193.6 C291.2,193.4 289.0,193.5 293.0,192.9 C297.0,192.4 294.8,192.5 299.1,192.0 C303.4,191.6 302.4,191.6 305.9,191.7 C309.5,191.7 307.2,191.5 309.7,192.1 C312.3,192.6 311.5,192.0 313.6,193.4 C315.8,194.8 314.9,194.4 316.1,196.3 C317.4,198.1 316.9,196.8 317.4,198.9 C317.9,201.0 317.7,200.2 317.6,202.6 C317.4,205.0 317.8,204.0 317.0,206.1 C316.1,208.2 316.6,207.0 315.1,208.9 C313.5,210.9 314.1,210.2 312.3,211.9 C310.5,213.5 311.7,212.8 309.6,213.9 C307.6,214.9 308.7,214.5 306.0,215.0 C303.4,215.5 304.7,215.5 301.7,215.4 C298.8,215.3 300.3,215.3 297.1,214.7 C293.9,214.1 295.7,214.2 292.0,213.6 C288.3,212.9 290.0,213.4 286.0,212.8 C282.0,212.2 283.7,212.4 280.0,211.8 C276.3,211.2 278.1,211.5 274.8,211.0 C271.6,210.5 273.3,210.8 270.3,210.3 C267.2,209.7 269.1,209.9 265.7,209.4 C262.3,208.8 264.1,209.2 260.2,208.6 C256.3,208.0 258.1,207.7 254.0,207.6 C249.8,207.4 253.2,208.1 247.8,208.2 C242.4,208.2 241.1,211.6 237.8,207.7 C234.6,203.9 235.3,200.3 238.1,196.6Z" fill="none" stroke="#000" stroke-width="1.8" stroke-linejoin="round"/>
<g clip-path="url(#bl9)"><path d="M283.8,203.1 C284.2,200.1 284.8,200.9 288.8,198.2 C292.8,195.5 291.1,196.6 295.8,195.0 C300.4,193.4 298.3,193.7 302.7,193.5 C307.2,193.2 305.5,192.9 309.1,194.2 C312.7,195.4 311.6,194.7 313.5,197.3 C315.5,199.9 314.9,198.8 315.0,201.9 C315.2,205.1 315.5,203.8 313.9,206.8 C312.3,209.8 313.2,208.8 310.3,211.0 C307.3,213.1 308.9,212.6 305.1,213.3 C301.2,214.0 302.9,213.8 298.7,213.0 C294.4,212.1 296.0,212.6 292.3,210.6 C288.6,208.7 290.5,209.7 287.7,207.2 C284.8,204.6 283.4,206.1 283.8,203.1Z" fill="#555" filter="url(#b2)"/></g>
<path d="M286.7,203.0 C287.0,200.4 287.6,201.1 291.0,198.8 C294.4,196.5 293.0,197.4 297.0,196.0 C301.0,194.6 299.2,194.9 303.0,194.7 C306.8,194.5 305.4,194.2 308.5,195.3 C311.6,196.4 310.6,195.8 312.3,198.0 C314.0,200.2 313.5,199.3 313.6,202.0 C313.7,204.7 314.0,203.6 312.6,206.2 C311.2,208.8 312.0,207.9 309.5,209.8 C307.0,211.7 308.3,211.2 305.0,211.8 C301.7,212.4 303.2,212.3 299.5,211.5 C295.8,210.7 297.2,211.2 294.0,209.5 C290.8,207.8 292.4,208.7 290.0,206.5 C287.6,204.3 286.4,205.6 286.7,203.0Z" fill="#4a4a4a"/>
<path d="M289.7,202.9 C290.0,200.8 290.4,201.3 293.3,199.4 C296.2,197.5 295.0,198.2 298.3,197.1 C301.6,195.9 300.1,196.2 303.3,196.0 C306.5,195.8 305.3,195.6 307.8,196.5 C310.4,197.4 309.6,196.9 311.0,198.7 C312.4,200.6 312.0,199.8 312.1,202.1 C312.2,204.3 312.4,203.4 311.2,205.6 C310.1,207.7 310.8,207.0 308.7,208.5 C306.6,210.1 307.7,209.7 304.9,210.2 C302.2,210.7 303.4,210.6 300.4,210.0 C297.3,209.3 298.4,209.7 295.8,208.3 C293.2,206.9 294.5,207.6 292.5,205.8 C290.4,204.0 289.4,205.0 289.7,202.9Z" fill="#c4c4c4" filter="url(#b1)"/>
<path d="M291.4,202.8 C291.6,200.9 292.0,201.5 294.5,199.7 C297.1,198.0 296.0,198.7 299.0,197.7 C301.9,196.7 300.6,196.9 303.4,196.7 C306.3,196.5 305.2,196.3 307.5,197.1 C309.8,198.0 309.0,197.5 310.3,199.1 C311.6,200.8 311.2,200.1 311.3,202.1 C311.3,204.1 311.5,203.3 310.5,205.2 C309.5,207.1 310.1,206.5 308.2,207.9 C306.4,209.3 307.4,208.9 304.9,209.4 C302.4,209.8 303.5,209.7 300.8,209.1 C298.1,208.6 299.1,208.9 296.8,207.7 C294.4,206.4 295.6,207.0 293.8,205.4 C292.0,203.8 291.1,204.7 291.4,202.8Z" fill="#4a4a4a"/>
<path d="M294.1,202.8 C294.3,201.3 294.7,201.7 296.7,200.3 C298.7,198.9 297.8,199.5 300.2,198.7 C302.5,197.9 301.4,198.0 303.7,197.9 C305.9,197.8 305.1,197.6 306.9,198.3 C308.7,198.9 308.1,198.5 309.1,199.8 C310.1,201.1 309.8,200.6 309.9,202.2 C309.9,203.8 310.1,203.1 309.3,204.6 C308.5,206.1 308.9,205.6 307.5,206.7 C306.0,207.8 306.8,207.6 304.8,207.9 C302.9,208.2 303.8,208.2 301.6,207.7 C299.5,207.3 300.3,207.5 298.4,206.5 C296.6,205.6 297.5,206.1 296.1,204.8 C294.7,203.5 294.0,204.2 294.1,202.8Z" fill="#c4c4c4" filter="url(#b1)"/>
<path d="M295.6,202.7 C295.8,201.4 296.1,201.8 297.8,200.6 C299.5,199.4 298.8,199.9 300.8,199.2 C302.8,198.5 301.9,198.7 303.8,198.6 C305.7,198.4 305.0,198.3 306.6,198.9 C308.1,199.4 307.6,199.1 308.5,200.2 C309.3,201.3 309.1,200.8 309.1,202.2 C309.2,203.6 309.3,203.0 308.6,204.3 C307.9,205.6 308.3,205.2 307.1,206.1 C305.8,207.0 306.5,206.8 304.8,207.1 C303.1,207.4 303.9,207.3 302.1,206.9 C300.2,206.6 300.9,206.8 299.3,205.9 C297.7,205.1 298.5,205.5 297.3,204.4 C296.1,203.4 295.5,204.0 295.6,202.7Z" fill="#4a4a4a"/>
<path d="M298.0,202.6 C298.1,201.7 298.3,201.9 299.6,201.1 C300.8,200.2 300.3,200.5 301.8,200.0 C303.3,199.5 302.6,199.6 304.0,199.6 C305.4,199.5 304.9,199.4 306.0,199.8 C307.2,200.2 306.8,199.9 307.4,200.8 C308.1,201.6 307.9,201.2 307.9,202.3 C308.0,203.3 308.1,202.8 307.6,203.8 C307.1,204.8 307.4,204.4 306.4,205.1 C305.5,205.8 306.0,205.7 304.7,205.9 C303.5,206.1 304.1,206.1 302.7,205.8 C301.4,205.5 301.8,205.6 300.7,205.0 C299.5,204.4 300.1,204.7 299.2,203.9 C298.3,203.1 297.9,203.6 298.0,202.6Z" fill="#c4c4c4" filter="url(#b1)"/>
<path d="M299.2,202.6 C299.3,201.8 299.5,202.0 300.5,201.3 C301.6,200.6 301.1,200.9 302.3,200.5 C303.5,200.1 303.0,200.2 304.1,200.1 C305.3,200.0 304.8,199.9 305.8,200.3 C306.7,200.6 306.4,200.4 306.9,201.1 C307.4,201.8 307.3,201.5 307.3,202.3 C307.3,203.1 307.4,202.8 307.0,203.5 C306.6,204.3 306.8,204.1 306.1,204.6 C305.3,205.2 305.7,205.1 304.7,205.2 C303.7,205.4 304.2,205.4 303.1,205.1 C302.0,204.9 302.4,205.0 301.4,204.5 C300.5,204.0 301.0,204.3 300.2,203.6 C299.5,203.0 299.1,203.4 299.2,202.6Z" fill="#4a4a4a"/>
<path d="M301.1,202.5 C301.2,202.0 301.3,202.2 302.0,201.7 C302.6,201.3 302.4,201.4 303.1,201.2 C303.9,200.9 303.6,201.0 304.3,200.9 C305.0,200.9 304.8,200.8 305.4,201.0 C305.9,201.2 305.8,201.1 306.1,201.6 C306.4,202.0 306.3,201.8 306.3,202.3 C306.4,202.8 306.4,202.6 306.1,203.1 C305.9,203.6 306.0,203.5 305.5,203.8 C305.1,204.2 305.3,204.1 304.7,204.2 C304.0,204.3 304.3,204.3 303.6,204.2 C302.9,204.0 303.2,204.1 302.6,203.8 C301.9,203.4 302.3,203.6 301.8,203.2 C301.3,202.8 301.1,203.0 301.1,202.5Z" fill="#c4c4c4" filter="url(#b1)"/>
<ellipse cx="304.6" cy="202.3" rx="2.4" ry="1.9" fill="#fff" filter="url(#b05)"/>
<path d="M286.7,203.0 C287.0,200.4 287.6,201.1 291.0,198.8 C294.4,196.5 293.0,197.4 297.0,196.0 C301.0,194.6 299.2,194.9 303.0,194.7 C306.8,194.5 305.4,194.2 308.5,195.3 C311.6,196.4 310.6,195.8 312.3,198.0 C314.0,200.2 313.5,199.3 313.6,202.0 C313.7,204.7 314.0,203.6 312.6,206.2 C311.2,208.8 312.0,207.9 309.5,209.8 C307.0,211.7 308.3,211.2 305.0,211.8 C301.7,212.4 303.2,212.3 299.5,211.5 C295.8,210.7 297.2,211.2 294.0,209.5 C290.8,207.8 292.4,208.7 290.0,206.5 C287.6,204.3 286.4,205.6 286.7,203.0Z" fill="none" stroke="#fff" stroke-width="1.05"/>
<path d="M291.4,202.8 C291.6,200.9 292.0,201.5 294.5,199.7 C297.1,198.0 296.0,198.7 299.0,197.7 C301.9,196.7 300.6,196.9 303.4,196.7 C306.3,196.5 305.2,196.3 307.5,197.1 C309.8,198.0 309.0,197.5 310.3,199.1 C311.6,200.8 311.2,200.1 311.3,202.1 C311.3,204.1 311.5,203.3 310.5,205.2 C309.5,207.1 310.1,206.5 308.2,207.9 C306.4,209.3 307.4,208.9 304.9,209.4 C302.4,209.8 303.5,209.7 300.8,209.1 C298.1,208.6 299.1,208.9 296.8,207.7 C294.4,206.4 295.6,207.0 293.8,205.4 C292.0,203.8 291.1,204.7 291.4,202.8Z" fill="none" stroke="#fff" stroke-width="1.05"/>
<path d="M295.6,202.7 C295.8,201.4 296.1,201.8 297.8,200.6 C299.5,199.4 298.8,199.9 300.8,199.2 C302.8,198.5 301.9,198.7 303.8,198.6 C305.7,198.4 305.0,198.3 306.6,198.9 C308.1,199.4 307.6,199.1 308.5,200.2 C309.3,201.3 309.1,200.8 309.1,202.2 C309.2,203.6 309.3,203.0 308.6,204.3 C307.9,205.6 308.3,205.2 307.1,206.1 C305.8,207.0 306.5,206.8 304.8,207.1 C303.1,207.4 303.9,207.3 302.1,206.9 C300.2,206.6 300.9,206.8 299.3,205.9 C297.7,205.1 298.5,205.5 297.3,204.4 C296.1,203.4 295.5,204.0 295.6,202.7Z" fill="none" stroke="#fff" stroke-width="1.05"/>
<path d="M299.2,202.6 C299.3,201.8 299.5,202.0 300.5,201.3 C301.6,200.6 301.1,200.9 302.3,200.5 C303.5,200.1 303.0,200.2 304.1,200.1 C305.3,200.0 304.8,199.9 305.8,200.3 C306.7,200.6 306.4,200.4 306.9,201.1 C307.4,201.8 307.3,201.5 307.3,202.3 C307.3,203.1 307.4,202.8 307.0,203.5 C306.6,204.3 306.8,204.1 306.1,204.6 C305.3,205.2 305.7,205.1 304.7,205.2 C303.7,205.4 304.2,205.4 303.1,205.1 C302.0,204.9 302.4,205.0 301.4,204.5 C300.5,204.0 301.0,204.3 300.2,203.6 C299.5,203.0 299.1,203.4 299.2,202.6Z" fill="none" stroke="#fff" stroke-width="1.05"/>
<rect x="277.7" y="197.9" width="9.4" height="4.2" fill="#fff" stroke="#888" stroke-width="0.4"/><text x="282.4" y="201.1" font-size="3" text-anchor="middle" fill="#555">81.38</text>
<path d="M305,214.5 Q307.8,220 306.6,228" fill="none" stroke="#000" stroke-width="1.4"/>
<path d="M245.3,186 L245.3,226" stroke="#999" stroke-width="1.2" stroke-dasharray="1.2,0.9"/>
</g></g>
<rect x="244.5" y="147.4" width="78.2" height="79.8" fill="none" stroke="#6a6a6a" stroke-width="0.75"/>
<rect x="246.8" y="180.8" width="71.9" height="41.7" fill="none" stroke="#444" stroke-width="0.75"/><rect x="245.9" y="179.9" width="1.8" height="1.8" fill="#222"/><rect x="317.8" y="179.9" width="1.8" height="1.8" fill="#222"/><rect x="245.9" y="221.6" width="1.8" height="1.8" fill="#222"/><rect x="317.8" y="221.6" width="1.8" height="1.8" fill="#222"/>
<text x="285.6" y="222" font-size="9.4" font-weight="bold" text-anchor="middle" fill="#1a1a1a" >MFI=149</text>
<defs><clipPath id="cb5"><rect x="339" y="147.4" width="77.3" height="79.8"/></clipPath></defs>
<text x="339.9" y="236.9" font-size="5.5" font-weight="bold" text-anchor="middle" fill="#222">10<tspan font-size="3.8" dy="-2">0</tspan></text>
<text x="331.0" y="231.0" font-size="5.5" font-weight="bold" text-anchor="middle" fill="#222">10<tspan font-size="3.8" dy="-2">0</tspan></text>
<text x="359.2" y="236.9" font-size="5.5" font-weight="bold" text-anchor="middle" fill="#222">10<tspan font-size="3.8" dy="-2">1</tspan></text>
<text x="331.0" y="209.4" font-size="5.5" font-weight="bold" text-anchor="middle" fill="#222">10<tspan font-size="3.8" dy="-2">1</tspan></text>
<text x="378.5" y="236.9" font-size="5.5" font-weight="bold" text-anchor="middle" fill="#222">10<tspan font-size="3.8" dy="-2">2</tspan></text>
<text x="331.0" y="189.5" font-size="5.5" font-weight="bold" text-anchor="middle" fill="#222">10<tspan font-size="3.8" dy="-2">2</tspan></text>
<text x="397.9" y="236.9" font-size="5.5" font-weight="bold" text-anchor="middle" fill="#222">10<tspan font-size="3.8" dy="-2">3</tspan></text>
<text x="331.0" y="169.5" font-size="5.5" font-weight="bold" text-anchor="middle" fill="#222">10<tspan font-size="3.8" dy="-2">3</tspan></text>
<text x="417.2" y="236.9" font-size="5.5" font-weight="bold" text-anchor="middle" fill="#222">10<tspan font-size="3.8" dy="-2">4</tspan></text>
<text x="331.0" y="149.6" font-size="5.5" font-weight="bold" text-anchor="middle" fill="#222">10<tspan font-size="3.8" dy="-2">4</tspan></text>
<g clip-path="url(#cb5)"><g filter="url(#soft)">
<clipPath id="bl10"><path d="M332.8,196.4 C335.5,192.2 336.8,196.6 341.3,196.4 C345.7,196.1 342.4,195.6 346.2,195.6 C349.9,195.7 348.6,196.5 352.5,196.5 C356.4,196.5 354.0,196.1 357.8,195.6 C361.7,195.2 360.2,195.4 364.0,195.1 C367.8,194.8 365.3,195.0 369.3,194.7 C373.3,194.4 371.8,194.6 376.0,194.2 C380.1,193.8 377.8,193.8 381.8,193.5 C385.8,193.2 383.9,193.4 387.9,193.2 C391.9,193.0 389.3,193.2 393.7,192.9 C398.1,192.5 397.2,192.2 401.0,192.3 C404.9,192.3 402.8,192.4 405.3,193.0 C407.7,193.6 406.8,192.9 408.4,194.1 C410.1,195.2 409.3,194.6 410.2,196.4 C411.2,198.3 411.3,197.5 411.3,199.6 C411.3,201.6 411.1,200.6 410.2,202.5 C409.3,204.3 409.9,203.2 408.7,205.0 C407.4,206.9 407.9,206.3 406.6,208.0 C405.2,209.7 406.1,209.0 404.7,210.3 C403.2,211.5 404.0,210.9 402.1,211.9 C400.3,212.8 401.2,212.4 399.0,213.1 C396.8,213.8 398.4,213.4 395.5,214.0 C392.6,214.5 394.2,214.2 390.2,214.8 C386.2,215.4 387.9,215.8 383.6,215.7 C379.3,215.7 381.9,215.7 377.3,214.6 C372.6,213.6 374.4,213.4 369.7,212.6 C365.0,211.8 367.7,212.7 363.1,212.3 C358.5,211.8 360.7,212.0 356.0,211.3 C351.2,210.6 352.9,210.8 348.9,210.1 C344.9,209.4 349.3,209.6 344.0,209.2 C338.7,208.8 336.7,213.2 333.0,208.9 C329.3,204.7 330.0,200.6 332.8,196.4Z"/></clipPath>
<g clip-path="url(#bl10)">
<path d="M332.8,196.4 C335.5,192.2 336.8,196.6 341.3,196.4 C345.7,196.1 342.4,195.6 346.2,195.6 C349.9,195.7 348.6,196.5 352.5,196.5 C356.4,196.5 354.0,196.1 357.8,195.6 C361.7,195.2 360.2,195.4 364.0,195.1 C367.8,194.8 365.3,195.0 369.3,194.7 C373.3,194.4 371.8,194.6 376.0,194.2 C380.1,193.8 377.8,193.8 381.8,193.5 C385.8,193.2 383.9,193.4 387.9,193.2 C391.9,193.0 389.3,193.2 393.7,192.9 C398.1,192.5 397.2,192.2 401.0,192.3 C404.9,192.3 402.8,192.4 405.3,193.0 C407.7,193.6 406.8,192.9 408.4,194.1 C410.1,195.2 409.3,194.6 410.2,196.4 C411.2,198.3 411.3,197.5 411.3,199.6 C411.3,201.6 411.1,200.6 410.2,202.5 C409.3,204.3 409.9,203.2 408.7,205.0 C407.4,206.9 407.9,206.3 406.6,208.0 C405.2,209.7 406.1,209.0 404.7,210.3 C403.2,211.5 404.0,210.9 402.1,211.9 C400.3,212.8 401.2,212.4 399.0,213.1 C396.8,213.8 398.4,213.4 395.5,214.0 C392.6,214.5 394.2,214.2 390.2,214.8 C386.2,215.4 387.9,215.8 383.6,215.7 C379.3,215.7 381.9,215.7 377.3,214.6 C372.6,213.6 374.4,213.4 369.7,212.6 C365.0,211.8 367.7,212.7 363.1,212.3 C358.5,211.8 360.7,212.0 356.0,211.3 C351.2,210.6 352.9,210.8 348.9,210.1 C344.9,209.4 349.3,209.6 344.0,209.2 C338.7,208.8 336.7,213.2 333.0,208.9 C329.3,204.7 330.0,200.6 332.8,196.4Z" fill="#dedede"/>
<ellipse cx="365" cy="203.3" rx="8" ry="3" fill="#000" filter="url(#b2)"/>
<ellipse cx="397" cy="203" rx="7.5" ry="3.4" fill="#000" filter="url(#b2)"/>
<ellipse cx="381" cy="203" rx="10" ry="3.2" fill="#2a2a2a" filter="url(#b2)"/>
<ellipse cx="351" cy="203" rx="5" ry="3" fill="#555" filter="url(#b2)"/>
<path d="M332.8,196.4 C335.5,192.2 336.8,196.6 341.3,196.4 C345.7,196.1 342.4,195.6 346.2,195.6 C349.9,195.7 348.6,196.5 352.5,196.5 C356.4,196.5 354.0,196.1 357.8,195.6 C361.7,195.2 360.2,195.4 364.0,195.1 C367.8,194.8 365.3,195.0 369.3,194.7 C373.3,194.4 371.8,194.6 376.0,194.2 C380.1,193.8 377.8,193.8 381.8,193.5 C385.8,193.2 383.9,193.4 387.9,193.2 C391.9,193.0 389.3,193.2 393.7,192.9 C398.1,192.5 397.2,192.2 401.0,192.3 C404.9,192.3 402.8,192.4 405.3,193.0 C407.7,193.6 406.8,192.9 408.4,194.1 C410.1,195.2 409.3,194.6 410.2,196.4 C411.2,198.3 411.3,197.5 411.3,199.6 C411.3,201.6 411.1,200.6 410.2,202.5 C409.3,204.3 409.9,203.2 408.7,205.0 C407.4,206.9 407.9,206.3 406.6,208.0 C405.2,209.7 406.1,209.0 404.7,210.3 C403.2,211.5 404.0,210.9 402.1,211.9 C400.3,212.8 401.2,212.4 399.0,213.1 C396.8,213.8 398.4,213.4 395.5,214.0 C392.6,214.5 394.2,214.2 390.2,214.8 C386.2,215.4 387.9,215.8 383.6,215.7 C379.3,215.7 381.9,215.7 377.3,214.6 C372.6,213.6 374.4,213.4 369.7,212.6 C365.0,211.8 367.7,212.7 363.1,212.3 C358.5,211.8 360.7,212.0 356.0,211.3 C351.2,210.6 352.9,210.8 348.9,210.1 C344.9,209.4 349.3,209.6 344.0,209.2 C338.7,208.8 336.7,213.2 333.0,208.9 C329.3,204.7 330.0,200.6 332.8,196.4Z" fill="none" stroke="#000" stroke-width="3.6" filter="url(#bE)"/>
</g>
<path d="M332.8,196.4 C335.5,192.2 336.8,196.6 341.3,196.4 C345.7,196.1 342.4,195.6 346.2,195.6 C349.9,195.7 348.6,196.5 352.5,196.5 C356.4,196.5 354.0,196.1 357.8,195.6 C361.7,195.2 360.2,195.4 364.0,195.1 C367.8,194.8 365.3,195.0 369.3,194.7 C373.3,194.4 371.8,194.6 376.0,194.2 C380.1,193.8 377.8,193.8 381.8,193.5 C385.8,193.2 383.9,193.4 387.9,193.2 C391.9,193.0 389.3,193.2 393.7,192.9 C398.1,192.5 397.2,192.2 401.0,192.3 C404.9,192.3 402.8,192.4 405.3,193.0 C407.7,193.6 406.8,192.9 408.4,194.1 C410.1,195.2 409.3,194.6 410.2,196.4 C411.2,198.3 411.3,197.5 411.3,199.6 C411.3,201.6 411.1,200.6 410.2,202.5 C409.3,204.3 409.9,203.2 408.7,205.0 C407.4,206.9 407.9,206.3 406.6,208.0 C405.2,209.7 406.1,209.0 404.7,210.3 C403.2,211.5 404.0,210.9 402.1,211.9 C400.3,212.8 401.2,212.4 399.0,213.1 C396.8,213.8 398.4,213.4 395.5,214.0 C392.6,214.5 394.2,214.2 390.2,214.8 C386.2,215.4 387.9,215.8 383.6,215.7 C379.3,215.7 381.9,215.7 377.3,214.6 C372.6,213.6 374.4,213.4 369.7,212.6 C365.0,211.8 367.7,212.7 363.1,212.3 C358.5,211.8 360.7,212.0 356.0,211.3 C351.2,210.6 352.9,210.8 348.9,210.1 C344.9,209.4 349.3,209.6 344.0,209.2 C338.7,208.8 336.7,213.2 333.0,208.9 C329.3,204.7 330.0,200.6 332.8,196.4Z" fill="none" stroke="#000" stroke-width="1.8" stroke-linejoin="round"/>
<path d="M366.0,203.5 C366.5,201.3 366.0,201.5 369.0,199.8 C372.0,198.1 370.7,199.2 375.0,198.3 C379.3,197.4 377.3,197.8 382.0,197.2 C386.7,196.6 384.3,196.8 389.0,196.4 C393.7,196.0 391.7,196.0 396.0,195.9 C400.3,195.8 398.7,195.5 402.0,196.0 C405.3,196.5 404.2,196.0 406.0,197.5 C407.8,199.0 407.4,198.3 407.3,200.5 C407.2,202.7 407.2,201.7 405.8,204.0 C404.4,206.3 405.3,205.4 403.0,207.3 C400.7,209.2 402.3,208.6 399.0,209.6 C395.7,210.6 397.3,209.9 393.0,210.2 C388.7,210.5 390.7,210.7 386.0,210.6 C381.3,210.5 383.7,210.7 379.0,210.0 C374.3,209.3 375.8,209.7 372.0,208.5 C368.2,207.3 369.5,208.0 367.5,206.3 C365.5,204.6 365.5,205.7 366.0,203.5Z" fill="none" stroke="#fff" stroke-width="1.05"/>
<path d="M344,209.6 L356,211.4 L370,213.1 L377,214.7 L383.5,215.6 L390,214.7" fill="none" stroke="#000" stroke-width="2.6" stroke-linejoin="round"/>
<ellipse cx="370.9" cy="202.3" rx="1.6" ry="1.4" fill="#fff"/>
<rect x="373.1" y="200.4" width="9.4" height="4.2" fill="#fff" stroke="#888" stroke-width="0.4"/><text x="377.8" y="203.6" font-size="3" text-anchor="middle" fill="#555">85.79</text>
<path d="M340,186 L340,226" stroke="#999" stroke-width="1.2" stroke-dasharray="1.2,0.9"/>
</g></g>
<rect x="339" y="147.4" width="77.3" height="79.8" fill="none" stroke="#6a6a6a" stroke-width="0.75"/>
<rect x="343.9" y="185.5" width="71.3" height="37.6" fill="none" stroke="#444" stroke-width="0.75"/><rect x="343.0" y="184.6" width="1.8" height="1.8" fill="#222"/><rect x="414.3" y="184.6" width="1.8" height="1.8" fill="#222"/><rect x="343.0" y="222.2" width="1.8" height="1.8" fill="#222"/><rect x="414.3" y="222.2" width="1.8" height="1.8" fill="#222"/>
<text x="399.5" y="222.5" font-size="9.4" font-weight="bold" text-anchor="middle" fill="#1a1a1a" >MFI=14</text>
<defs><clipPath id="cb6"><rect x="437.6" y="148.7" width="75.4" height="78.5"/></clipPath></defs>
<text x="438.5" y="236.9" font-size="5.5" font-weight="bold" text-anchor="middle" fill="#222">10<tspan font-size="3.8" dy="-2">0</tspan></text>
<text x="431.6" y="230.4" font-size="5.5" font-weight="bold" text-anchor="middle" fill="#222">10<tspan font-size="3.8" dy="-2">0</tspan></text>
<text x="457.4" y="236.9" font-size="5.5" font-weight="bold" text-anchor="middle" fill="#222">10<tspan font-size="3.8" dy="-2">1</tspan></text>
<text x="431.6" y="209.8" font-size="5.5" font-weight="bold" text-anchor="middle" fill="#222">10<tspan font-size="3.8" dy="-2">1</tspan></text>
<text x="476.2" y="236.9" font-size="5.5" font-weight="bold" text-anchor="middle" fill="#222">10<tspan font-size="3.8" dy="-2">2</tspan></text>
<text x="431.6" y="190.1" font-size="5.5" font-weight="bold" text-anchor="middle" fill="#222">10<tspan font-size="3.8" dy="-2">2</tspan></text>
<text x="495.0" y="236.9" font-size="5.5" font-weight="bold" text-anchor="middle" fill="#222">10<tspan font-size="3.8" dy="-2">3</tspan></text>
<text x="431.6" y="170.5" font-size="5.5" font-weight="bold" text-anchor="middle" fill="#222">10<tspan font-size="3.8" dy="-2">3</tspan></text>
<text x="513.9" y="236.9" font-size="5.5" font-weight="bold" text-anchor="middle" fill="#222">10<tspan font-size="3.8" dy="-2">4</tspan></text>
<text x="431.6" y="150.9" font-size="5.5" font-weight="bold" text-anchor="middle" fill="#222">10<tspan font-size="3.8" dy="-2">4</tspan></text>
<rect x="457" y="181.4" width="56.0" height="43.4" fill="none" stroke="#909090" stroke-width="0.6"/>
<g clip-path="url(#cb6)"><g filter="url(#soft)">
<clipPath id="bl11"><path d="M447.8,194.3 C448.2,192.2 448.1,192.6 449.4,190.7 C450.6,188.9 450.1,190.2 451.5,188.8 C452.9,187.3 451.9,188.0 453.6,186.4 C455.3,184.7 454.2,184.6 456.6,183.8 C459.0,183.0 457.9,184.4 460.6,184.1 C463.4,183.8 462.1,182.9 465.0,182.9 C467.9,182.8 466.8,184.2 469.5,184.0 C472.1,183.8 470.6,182.8 472.9,182.4 C475.3,181.9 474.0,182.5 476.6,182.7 C479.3,183.0 478.5,182.4 480.8,183.1 C483.2,183.8 481.3,183.3 483.7,184.7 C486.1,186.2 485.1,186.0 488.1,187.5 C491.0,188.9 489.9,187.9 492.5,189.0 C495.1,190.1 493.6,190.0 495.9,190.8 C498.2,191.6 497.6,191.8 499.5,191.4 C501.3,191.0 499.6,190.1 501.5,189.7 C503.3,189.4 504.0,189.2 505.1,190.4 C506.1,191.5 504.9,191.7 504.6,193.2 C504.3,194.6 504.8,193.1 504.0,194.7 C503.2,196.2 503.5,195.5 502.2,197.7 C501.0,199.9 501.5,199.3 500.3,201.3 C499.1,203.4 500.0,202.7 498.5,203.9 C497.1,205.1 497.8,203.6 495.9,204.9 C494.1,206.2 494.3,206.5 492.9,207.8 C491.6,209.0 493.5,207.8 491.9,208.7 C490.3,209.6 490.8,208.6 488.1,210.4 C485.4,212.2 486.4,211.9 483.9,214.2 C481.3,216.6 482.9,215.5 480.4,217.4 C477.9,219.3 479.1,218.5 476.5,219.9 C473.8,221.3 474.7,220.6 472.5,221.6 C470.4,222.6 471.9,222.9 470.0,222.8 C468.2,222.7 469.4,222.6 467.0,221.3 C464.7,220.0 465.5,220.7 463.0,218.9 C460.4,217.2 461.9,217.7 459.4,216.1 C457.0,214.4 457.9,215.7 455.6,214.0 C453.4,212.4 454.3,213.4 452.7,211.0 C451.0,208.6 451.6,209.4 450.7,206.8 C449.7,204.2 450.0,205.2 449.8,203.2 C449.5,201.2 450.5,202.9 449.9,200.8 C449.3,198.8 448.6,199.2 447.9,197.0 C447.2,194.8 447.3,196.4 447.8,194.3Z"/></clipPath>
<g clip-path="url(#bl11)">
<path d="M447.8,194.3 C448.2,192.2 448.1,192.6 449.4,190.7 C450.6,188.9 450.1,190.2 451.5,188.8 C452.9,187.3 451.9,188.0 453.6,186.4 C455.3,184.7 454.2,184.6 456.6,183.8 C459.0,183.0 457.9,184.4 460.6,184.1 C463.4,183.8 462.1,182.9 465.0,182.9 C467.9,182.8 466.8,184.2 469.5,184.0 C472.1,183.8 470.6,182.8 472.9,182.4 C475.3,181.9 474.0,182.5 476.6,182.7 C479.3,183.0 478.5,182.4 480.8,183.1 C483.2,183.8 481.3,183.3 483.7,184.7 C486.1,186.2 485.1,186.0 488.1,187.5 C491.0,188.9 489.9,187.9 492.5,189.0 C495.1,190.1 493.6,190.0 495.9,190.8 C498.2,191.6 497.6,191.8 499.5,191.4 C501.3,191.0 499.6,190.1 501.5,189.7 C503.3,189.4 504.0,189.2 505.1,190.4 C506.1,191.5 504.9,191.7 504.6,193.2 C504.3,194.6 504.8,193.1 504.0,194.7 C503.2,196.2 503.5,195.5 502.2,197.7 C501.0,199.9 501.5,199.3 500.3,201.3 C499.1,203.4 500.0,202.7 498.5,203.9 C497.1,205.1 497.8,203.6 495.9,204.9 C494.1,206.2 494.3,206.5 492.9,207.8 C491.6,209.0 493.5,207.8 491.9,208.7 C490.3,209.6 490.8,208.6 488.1,210.4 C485.4,212.2 486.4,211.9 483.9,214.2 C481.3,216.6 482.9,215.5 480.4,217.4 C477.9,219.3 479.1,218.5 476.5,219.9 C473.8,221.3 474.7,220.6 472.5,221.6 C470.4,222.6 471.9,222.9 470.0,222.8 C468.2,222.7 469.4,222.6 467.0,221.3 C464.7,220.0 465.5,220.7 463.0,218.9 C460.4,217.2 461.9,217.7 459.4,216.1 C457.0,214.4 457.9,215.7 455.6,214.0 C453.4,212.4 454.3,213.4 452.7,211.0 C451.0,208.6 451.6,209.4 450.7,206.8 C449.7,204.2 450.0,205.2 449.8,203.2 C449.5,201.2 450.5,202.9 449.9,200.8 C449.3,198.8 448.6,199.2 447.9,197.0 C447.2,194.8 447.3,196.4 447.8,194.3Z" fill="#dadada"/>
<ellipse cx="472" cy="200" rx="18" ry="12" fill="#8a8a8a" filter="url(#b3)"/>
<path d="M447.8,194.3 C448.2,192.2 448.1,192.6 449.4,190.7 C450.6,188.9 450.1,190.2 451.5,188.8 C452.9,187.3 451.9,188.0 453.6,186.4 C455.3,184.7 454.2,184.6 456.6,183.8 C459.0,183.0 457.9,184.4 460.6,184.1 C463.4,183.8 462.1,182.9 465.0,182.9 C467.9,182.8 466.8,184.2 469.5,184.0 C472.1,183.8 470.6,182.8 472.9,182.4 C475.3,181.9 474.0,182.5 476.6,182.7 C479.3,183.0 478.5,182.4 480.8,183.1 C483.2,183.8 481.3,183.3 483.7,184.7 C486.1,186.2 485.1,186.0 488.1,187.5 C491.0,188.9 489.9,187.9 492.5,189.0 C495.1,190.1 493.6,190.0 495.9,190.8 C498.2,191.6 497.6,191.8 499.5,191.4 C501.3,191.0 499.6,190.1 501.5,189.7 C503.3,189.4 504.0,189.2 505.1,190.4 C506.1,191.5 504.9,191.7 504.6,193.2 C504.3,194.6 504.8,193.1 504.0,194.7 C503.2,196.2 503.5,195.5 502.2,197.7 C501.0,199.9 501.5,199.3 500.3,201.3 C499.1,203.4 500.0,202.7 498.5,203.9 C497.1,205.1 497.8,203.6 495.9,204.9 C494.1,206.2 494.3,206.5 492.9,207.8 C491.6,209.0 493.5,207.8 491.9,208.7 C490.3,209.6 490.8,208.6 488.1,210.4 C485.4,212.2 486.4,211.9 483.9,214.2 C481.3,216.6 482.9,215.5 480.4,217.4 C477.9,219.3 479.1,218.5 476.5,219.9 C473.8,221.3 474.7,220.6 472.5,221.6 C470.4,222.6 471.9,222.9 470.0,222.8 C468.2,222.7 469.4,222.6 467.0,221.3 C464.7,220.0 465.5,220.7 463.0,218.9 C460.4,217.2 461.9,217.7 459.4,216.1 C457.0,214.4 457.9,215.7 455.6,214.0 C453.4,212.4 454.3,213.4 452.7,211.0 C451.0,208.6 451.6,209.4 450.7,206.8 C449.7,204.2 450.0,205.2 449.8,203.2 C449.5,201.2 450.5,202.9 449.9,200.8 C449.3,198.8 448.6,199.2 447.9,197.0 C447.2,194.8 447.3,196.4 447.8,194.3Z" fill="none" stroke="#000" stroke-width="3.6" filter="url(#bE)"/>
</g>
<path d="M447.8,194.3 C448.2,192.2 448.1,192.6 449.4,190.7 C450.6,188.9 450.1,190.2 451.5,188.8 C452.9,187.3 451.9,188.0 453.6,186.4 C455.3,184.7 454.2,184.6 456.6,183.8 C459.0,183.0 457.9,184.4 460.6,184.1 C463.4,183.8 462.1,182.9 465.0,182.9 C467.9,182.8 466.8,184.2 469.5,184.0 C472.1,183.8 470.6,182.8 472.9,182.4 C475.3,181.9 474.0,182.5 476.6,182.7 C479.3,183.0 478.5,182.4 480.8,183.1 C483.2,183.8 481.3,183.3 483.7,184.7 C486.1,186.2 485.1,186.0 488.1,187.5 C491.0,188.9 489.9,187.9 492.5,189.0 C495.1,190.1 493.6,190.0 495.9,190.8 C498.2,191.6 497.6,191.8 499.5,191.4 C501.3,191.0 499.6,190.1 501.5,189.7 C503.3,189.4 504.0,189.2 505.1,190.4 C506.1,191.5 504.9,191.7 504.6,193.2 C504.3,194.6 504.8,193.1 504.0,194.7 C503.2,196.2 503.5,195.5 502.2,197.7 C501.0,199.9 501.5,199.3 500.3,201.3 C499.1,203.4 500.0,202.7 498.5,203.9 C497.1,205.1 497.8,203.6 495.9,204.9 C494.1,206.2 494.3,206.5 492.9,207.8 C491.6,209.0 493.5,207.8 491.9,208.7 C490.3,209.6 490.8,208.6 488.1,210.4 C485.4,212.2 486.4,211.9 483.9,214.2 C481.3,216.6 482.9,215.5 480.4,217.4 C477.9,219.3 479.1,218.5 476.5,219.9 C473.8,221.3 474.7,220.6 472.5,221.6 C470.4,222.6 471.9,222.9 470.0,222.8 C468.2,222.7 469.4,222.6 467.0,221.3 C464.7,220.0 465.5,220.7 463.0,218.9 C460.4,217.2 461.9,217.7 459.4,216.1 C457.0,214.4 457.9,215.7 455.6,214.0 C453.4,212.4 454.3,213.4 452.7,211.0 C451.0,208.6 451.6,209.4 450.7,206.8 C449.7,204.2 450.0,205.2 449.8,203.2 C449.5,201.2 450.5,202.9 449.9,200.8 C449.3,198.8 448.6,199.2 447.9,197.0 C447.2,194.8 447.3,196.4 447.8,194.3Z" fill="none" stroke="#000" stroke-width="1.8" stroke-linejoin="round"/>
<g clip-path="url(#bl11)"><path d="M455.7,194.8 C455.8,192.1 455.2,192.7 456.8,190.2 C458.4,187.7 457.3,188.7 460.5,187.3 C463.7,185.9 462.2,186.5 466.3,186.1 C470.3,185.8 468.4,185.9 472.7,186.1 C476.9,186.3 475.0,185.9 479.0,186.7 C483.1,187.5 481.6,186.7 484.8,188.5 C488.1,190.2 487.7,189.2 488.9,191.9 C490.1,194.6 489.5,193.5 488.3,196.6 C487.2,199.7 487.7,198.1 485.4,201.2 C483.1,204.3 484.3,203.0 481.4,205.9 C478.5,208.8 479.8,207.6 476.7,209.9 C473.6,212.2 475.2,212.5 472.1,212.7 C469.0,212.9 470.5,212.6 467.4,210.5 C464.3,208.4 465.7,209.3 462.8,206.4 C459.9,203.5 460.9,204.5 458.7,201.8 C456.6,199.1 457.4,200.6 456.4,198.3 C455.4,196.0 455.6,197.5 455.7,194.8Z" fill="#555" filter="url(#b2)"/></g>
<path d="M457.9,195.0 C458.0,192.7 457.4,193.2 458.8,191.0 C460.2,188.8 459.3,189.7 462.0,188.5 C464.7,187.3 463.5,187.8 467.0,187.5 C470.5,187.2 468.8,187.3 472.5,187.5 C476.2,187.7 474.5,187.3 478.0,188.0 C481.5,188.7 480.2,188.0 483.0,189.5 C485.8,191.0 485.5,190.2 486.5,192.5 C487.5,194.8 487.0,193.8 486.0,196.5 C485.0,199.2 485.5,197.8 483.5,200.5 C481.5,203.2 482.5,202.0 480.0,204.5 C477.5,207.0 478.7,206.0 476.0,208.0 C473.3,210.0 474.7,210.2 472.0,210.4 C469.3,210.6 470.7,210.3 468.0,208.5 C465.3,206.7 466.5,207.5 464.0,205.0 C461.5,202.5 462.3,203.3 460.5,201.0 C458.7,198.7 459.4,200.0 458.5,198.0 C457.6,196.0 457.8,197.3 457.9,195.0Z" fill="#4a4a4a"/>
<path d="M460.6,195.2 C460.6,193.3 460.2,193.7 461.3,192.0 C462.4,190.2 461.7,190.9 463.9,190.0 C466.1,189.0 465.1,189.4 467.9,189.2 C470.7,188.9 469.4,189.0 472.3,189.2 C475.3,189.3 473.9,189.0 476.7,189.6 C479.6,190.1 478.5,189.6 480.8,190.8 C483.0,192.0 482.8,191.3 483.6,193.2 C484.4,195.1 484.0,194.3 483.2,196.4 C482.4,198.5 482.8,197.5 481.2,199.6 C479.6,201.8 480.4,200.8 478.3,202.8 C476.3,204.9 477.3,204.1 475.1,205.7 C473.0,207.2 474.0,207.5 471.9,207.6 C469.8,207.7 470.8,207.5 468.7,206.1 C466.5,204.6 467.5,205.3 465.5,203.2 C463.4,201.2 464.1,201.9 462.6,200.0 C461.2,198.1 461.7,199.2 461.0,197.6 C460.3,196.0 460.5,197.1 460.6,195.2Z" fill="#c4c4c4" filter="url(#b1)"/>
<path d="M462.0,195.3 C462.0,193.7 461.7,194.0 462.6,192.5 C463.6,191.0 462.9,191.6 464.9,190.8 C466.8,189.9 465.9,190.3 468.4,190.1 C470.8,189.8 469.6,189.9 472.2,190.1 C474.8,190.2 473.6,189.9 476.1,190.4 C478.5,190.9 477.6,190.4 479.6,191.4 C481.5,192.5 481.3,191.9 482.0,193.6 C482.7,195.2 482.3,194.5 481.6,196.3 C480.9,198.2 481.3,197.3 479.9,199.2 C478.5,201.0 479.2,200.2 477.4,201.9 C475.7,203.7 476.5,203.0 474.6,204.4 C472.8,205.8 473.7,206.0 471.9,206.1 C470.0,206.2 470.9,206.0 469.1,204.8 C467.2,203.5 468.0,204.1 466.2,202.3 C464.5,200.6 465.1,201.1 463.8,199.5 C462.5,197.9 463.0,198.8 462.4,197.4 C461.8,196.0 461.9,196.9 462.0,195.3Z" fill="#4a4a4a"/>
<path d="M464.5,195.5 C464.5,194.3 464.2,194.5 464.9,193.4 C465.6,192.3 465.2,192.7 466.6,192.1 C468.0,191.5 467.4,191.8 469.2,191.6 C471.0,191.4 470.1,191.5 472.0,191.6 C473.9,191.7 473.1,191.5 474.9,191.9 C476.7,192.2 476.0,191.9 477.5,192.6 C478.9,193.4 478.8,193.0 479.3,194.2 C479.8,195.4 479.5,194.9 479.0,196.3 C478.5,197.6 478.8,196.9 477.7,198.3 C476.7,199.7 477.2,199.1 475.9,200.4 C474.6,201.7 475.2,201.2 473.8,202.2 C472.4,203.2 473.1,203.4 471.8,203.5 C470.4,203.5 471.1,203.4 469.7,202.5 C468.3,201.5 468.9,202.0 467.6,200.7 C466.3,199.4 466.8,199.8 465.8,198.6 C464.9,197.4 465.2,198.1 464.8,197.0 C464.3,196.0 464.4,196.7 464.5,195.5Z" fill="#c4c4c4" filter="url(#b1)"/>
<path d="M465.8,195.6 C465.8,194.6 465.6,194.8 466.2,193.9 C466.7,193.0 466.4,193.3 467.5,192.8 C468.7,192.4 468.1,192.6 469.6,192.4 C471.1,192.3 470.4,192.4 471.9,192.4 C473.5,192.5 472.8,192.4 474.2,192.6 C475.7,192.9 475.1,192.6 476.3,193.3 C477.5,193.9 477.4,193.6 477.8,194.5 C478.2,195.5 478.0,195.1 477.6,196.2 C477.2,197.3 477.4,196.8 476.5,197.9 C475.7,199.0 476.1,198.5 475.1,199.6 C474.0,200.6 474.5,200.2 473.4,201.0 C472.3,201.9 472.8,202.0 471.7,202.0 C470.6,202.1 471.1,202.0 470.0,201.2 C468.9,200.5 469.4,200.8 468.4,199.8 C467.3,198.7 467.6,199.1 466.9,198.1 C466.1,197.1 466.4,197.7 466.0,196.8 C465.7,196.0 465.7,196.6 465.8,195.6Z" fill="#4a4a4a"/>
<path d="M467.8,195.7 C467.9,195.1 467.7,195.2 468.1,194.7 C468.4,194.1 468.2,194.3 468.9,194.0 C469.7,193.7 469.3,193.8 470.3,193.7 C471.2,193.6 470.8,193.7 471.8,193.7 C472.8,193.8 472.3,193.7 473.3,193.8 C474.2,194.0 473.8,193.8 474.6,194.2 C475.4,194.7 475.3,194.4 475.5,195.1 C475.8,195.7 475.7,195.4 475.4,196.1 C475.1,196.9 475.3,196.5 474.7,197.2 C474.2,197.9 474.5,197.6 473.8,198.3 C473.1,199.0 473.4,198.7 472.7,199.2 C472.0,199.8 472.4,199.8 471.6,199.9 C470.9,199.9 471.3,199.9 470.6,199.4 C469.8,198.9 470.2,199.1 469.5,198.4 C468.8,197.8 469.0,198.0 468.5,197.3 C468.0,196.7 468.2,197.1 468.0,196.5 C467.8,196.0 467.8,196.4 467.8,195.7Z" fill="#c4c4c4" filter="url(#b1)"/>
<ellipse cx="470.6" cy="194.3" rx="2.6" ry="1.7" fill="#000" filter="url(#b05)"/>
<path d="M457.9,195.0 C458.0,192.7 457.4,193.2 458.8,191.0 C460.2,188.8 459.3,189.7 462.0,188.5 C464.7,187.3 463.5,187.8 467.0,187.5 C470.5,187.2 468.8,187.3 472.5,187.5 C476.2,187.7 474.5,187.3 478.0,188.0 C481.5,188.7 480.2,188.0 483.0,189.5 C485.8,191.0 485.5,190.2 486.5,192.5 C487.5,194.8 487.0,193.8 486.0,196.5 C485.0,199.2 485.5,197.8 483.5,200.5 C481.5,203.2 482.5,202.0 480.0,204.5 C477.5,207.0 478.7,206.0 476.0,208.0 C473.3,210.0 474.7,210.2 472.0,210.4 C469.3,210.6 470.7,210.3 468.0,208.5 C465.3,206.7 466.5,207.5 464.0,205.0 C461.5,202.5 462.3,203.3 460.5,201.0 C458.7,198.7 459.4,200.0 458.5,198.0 C457.6,196.0 457.8,197.3 457.9,195.0Z" fill="none" stroke="#fff" stroke-width="1.05"/>
<path d="M462.0,195.3 C462.0,193.7 461.7,194.0 462.6,192.5 C463.6,191.0 462.9,191.6 464.9,190.8 C466.8,189.9 465.9,190.3 468.4,190.1 C470.8,189.8 469.6,189.9 472.2,190.1 C474.8,190.2 473.6,189.9 476.1,190.4 C478.5,190.9 477.6,190.4 479.6,191.4 C481.5,192.5 481.3,191.9 482.0,193.6 C482.7,195.2 482.3,194.5 481.6,196.3 C480.9,198.2 481.3,197.3 479.9,199.2 C478.5,201.0 479.2,200.2 477.4,201.9 C475.7,203.7 476.5,203.0 474.6,204.4 C472.8,205.8 473.7,206.0 471.9,206.1 C470.0,206.2 470.9,206.0 469.1,204.8 C467.2,203.5 468.0,204.1 466.2,202.3 C464.5,200.6 465.1,201.1 463.8,199.5 C462.5,197.9 463.0,198.8 462.4,197.4 C461.8,196.0 461.9,196.9 462.0,195.3Z" fill="none" stroke="#fff" stroke-width="1.05"/>
<path d="M465.8,195.6 C465.8,194.6 465.6,194.8 466.2,193.9 C466.7,193.0 466.4,193.3 467.5,192.8 C468.7,192.4 468.1,192.6 469.6,192.4 C471.1,192.3 470.4,192.4 471.9,192.4 C473.5,192.5 472.8,192.4 474.2,192.6 C475.7,192.9 475.1,192.6 476.3,193.3 C477.5,193.9 477.4,193.6 477.8,194.5 C478.2,195.5 478.0,195.1 477.6,196.2 C477.2,197.3 477.4,196.8 476.5,197.9 C475.7,199.0 476.1,198.5 475.1,199.6 C474.0,200.6 474.5,200.2 473.4,201.0 C472.3,201.9 472.8,202.0 471.7,202.0 C470.6,202.1 471.1,202.0 470.0,201.2 C468.9,200.5 469.4,200.8 468.4,199.8 C467.3,198.7 467.6,199.1 466.9,198.1 C466.1,197.1 466.4,197.7 466.0,196.8 C465.7,196.0 465.7,196.6 465.8,195.6Z" fill="none" stroke="#fff" stroke-width="1.05"/>
<path d="M473.5,183.5 L473.4,173" stroke="#000" stroke-width="1.5"/><circle cx="473.4" cy="170.9" r="1.9" fill="#fff" stroke="#000" stroke-width="1.2"/>
<circle cx="477.5" cy="163.8" r="1.0" fill="#000"/><circle cx="482.4" cy="174.7" r="0.9" fill="#000"/><circle cx="467.7" cy="166.2" r="0.7" fill="#777"/><ellipse cx="507.7" cy="202.2" rx="1.3" ry="0.9" fill="#000"/><circle cx="496.3" cy="208.2" r="0.8" fill="#000"/>
<ellipse cx="478" cy="148.6" rx="20" ry="3.9" fill="#8a8a8a" stroke="#111" stroke-width="1.1"/><ellipse cx="478" cy="148.8" rx="15" ry="2.1" fill="none" stroke="#e8e8e8" stroke-width="0.7"/>
<ellipse cx="437.8" cy="197.3" rx="2.5" ry="5.6" fill="#333" stroke="#000" stroke-width="1.2"/>
<ellipse cx="513.4" cy="190" rx="3.2" ry="12.2" fill="#aaa" stroke="#333" stroke-width="1"/>
<ellipse cx="451.5" cy="212.2" rx="2" ry="1.3" fill="#000"/><ellipse cx="461.4" cy="224.3" rx="4.4" ry="1.5" fill="#000"/>
<path d="M440,226.2 L482,226.2" stroke="#888" stroke-width="0.8"/>
<rect x="484.7" y="200.1" width="3.6" height="2.6" fill="#fff" stroke="#888" stroke-width="0.4"/>
</g></g>
<rect x="437.6" y="148.7" width="75.4" height="78.5" fill="none" stroke="#8a8a8a" stroke-width="0.8"/>
<text x="497.8" y="222.8" font-size="9.4" font-weight="bold" text-anchor="middle" fill="#1a1a1a" >MFI=83</text>
</g>
<g id="panelC">
<rect x="31.2" y="197.8" width="80.3" height="81.19999999999999" fill="#fff" stroke="#858585" stroke-width="0.85"/>
<text x="28.7" y="199.20000000000002" font-size="3.9" font-weight="bold" text-anchor="end" fill="#666" >100</text>
<line x1="29.7" y1="197.8" x2="31.2" y2="197.8" stroke="#888" stroke-width="0.5" />
<text x="28.7" y="215.44000000000003" font-size="3.9" font-weight="bold" text-anchor="end" fill="#666" >80</text>
<line x1="29.7" y1="214.04000000000002" x2="31.2" y2="214.04000000000002" stroke="#888" stroke-width="0.5" />
<text x="28.7" y="231.68" font-size="3.9" font-weight="bold" text-anchor="end" fill="#666" >60</text>
<line x1="29.7" y1="230.28" x2="31.2" y2="230.28" stroke="#888" stroke-width="0.5" />
<text x="28.7" y="247.92000000000002" font-size="3.9" font-weight="bold" text-anchor="end" fill="#666" >40</text>
<line x1="29.7" y1="246.52" x2="31.2" y2="246.52" stroke="#888" stroke-width="0.5" />
<text x="28.7" y="264.15999999999997" font-size="3.9" font-weight="bold" text-anchor="end" fill="#666" >20</text>
<line x1="29.7" y1="262.76" x2="31.2" y2="262.76" stroke="#888" stroke-width="0.5" />
<text x="28.7" y="280.4" font-size="3.9" font-weight="bold" text-anchor="end" fill="#666" >0</text>
<line x1="29.7" y1="279.0" x2="31.2" y2="279.0" stroke="#888" stroke-width="0.5" />
<text x="30.7" y="288.2" font-size="5.4" font-weight="bold" text-anchor="middle" fill="#222">10<tspan font-size="3.5" dy="-2.1">0</tspan></text>
<text x="50.8" y="288.2" font-size="5.4" font-weight="bold" text-anchor="middle" fill="#222">10<tspan font-size="3.5" dy="-2.1">1</tspan></text>
<text x="70.8" y="288.2" font-size="5.4" font-weight="bold" text-anchor="middle" fill="#222">10<tspan font-size="3.5" dy="-2.1">2</tspan></text>
<text x="90.9" y="288.2" font-size="5.4" font-weight="bold" text-anchor="middle" fill="#222">10<tspan font-size="3.5" dy="-2.1">3</tspan></text>
<text x="111.0" y="288.2" font-size="5.4" font-weight="bold" text-anchor="middle" fill="#222">10<tspan font-size="3.5" dy="-2.1">4</tspan></text>
<rect x="126.9" y="197.8" width="81.5" height="81.19999999999999" fill="#fff" stroke="#858585" stroke-width="0.85"/>
<text x="124.4" y="199.20000000000002" font-size="3.9" font-weight="bold" text-anchor="end" fill="#666" >100</text>
<line x1="125.4" y1="197.8" x2="126.9" y2="197.8" stroke="#888" stroke-width="0.5" />
<text x="124.4" y="215.44000000000003" font-size="3.9" font-weight="bold" text-anchor="end" fill="#666" >80</text>
<line x1="125.4" y1="214.04000000000002" x2="126.9" y2="214.04000000000002" stroke="#888" stroke-width="0.5" />
<text x="124.4" y="231.68" font-size="3.9" font-weight="bold" text-anchor="end" fill="#666" >60</text>
<line x1="125.4" y1="230.28" x2="126.9" y2="230.28" stroke="#888" stroke-width="0.5" />
<text x="124.4" y="247.92000000000002" font-size="3.9" font-weight="bold" text-anchor="end" fill="#666" >40</text>
<line x1="125.4" y1="246.52" x2="126.9" y2="246.52" stroke="#888" stroke-width="0.5" />
<text x="124.4" y="264.15999999999997" font-size="3.9" font-weight="bold" text-anchor="end" fill="#666" >20</text>
<line x1="125.4" y1="262.76" x2="126.9" y2="262.76" stroke="#888" stroke-width="0.5" />
<text x="124.4" y="280.4" font-size="3.9" font-weight="bold" text-anchor="end" fill="#666" >0</text>
<line x1="125.4" y1="279.0" x2="126.9" y2="279.0" stroke="#888" stroke-width="0.5" />
<text x="126.4" y="288.2" font-size="5.4" font-weight="bold" text-anchor="middle" fill="#222">10<tspan font-size="3.5" dy="-2.1">0</tspan></text>
<text x="146.8" y="288.2" font-size="5.4" font-weight="bold" text-anchor="middle" fill="#222">10<tspan font-size="3.5" dy="-2.1">1</tspan></text>
<text x="167.2" y="288.2" font-size="5.4" font-weight="bold" text-anchor="middle" fill="#222">10<tspan font-size="3.5" dy="-2.1">2</tspan></text>
<text x="187.5" y="288.2" font-size="5.4" font-weight="bold" text-anchor="middle" fill="#222">10<tspan font-size="3.5" dy="-2.1">3</tspan></text>
<text x="207.9" y="288.2" font-size="5.4" font-weight="bold" text-anchor="middle" fill="#222">10<tspan font-size="3.5" dy="-2.1">4</tspan></text>
<path d="M44.0,278.6 L44.5,278.6 L45.0,278.6 L45.5,278.6 L46.0,278.6 L46.5,278.6 L47.0,278.5 L47.5,278.5 L48.0,278.5 L48.5,278.4 L49.0,278.3 L49.5,278.2 L50.0,278.1 L50.5,277.9 L51.0,277.7 L51.5,277.4 L52.0,277.0 L52.5,276.5 L53.0,275.9 L53.5,275.1 L54.0,274.2 L54.5,273.0 L55.0,271.7 L55.5,270.0 L56.0,268.1 L56.5,265.9 L57.0,263.4 L57.5,260.6 L58.0,257.5 L58.5,254.0 L59.0,250.3 L59.5,246.3 L60.0,242.2 L60.5,237.9 L61.0,233.6 L61.5,229.3 L62.0,225.1 L62.5,221.2 L63.0,217.6 L63.5,214.4 L64.0,211.7 L64.5,209.6 L65.0,208.1 L65.5,207.3 L66.0,207.5 L66.5,210.4 L67.0,216.3 L67.5,224.3 L68.0,233.4 L68.5,242.8 L69.0,251.5 L69.5,259.0 L70.0,265.1 L70.5,269.8 L71.0,273.1 L71.5,275.3 L72.0,276.7 L72.5,277.6 L73.0,278.1 L73.5,278.3 L74.0,278.5 L74.5,278.5 L75.0,278.6 L75.5,278.6 L76.0,278.6 L76.5,278.6 L77.0,278.6 L77.5,278.6 L78.0,278.6 L78.5,278.6 L79.0,278.6 L79.5,278.6 L80.0,278.6" fill="none" stroke="#999" stroke-width="0.75"/>
<path d="M46.0,278.5 L46.5,278.5 L47.0,278.5 L47.5,278.4 L48.0,278.4 L48.5,278.3 L49.0,278.2 L49.5,278.1 L50.0,278.0 L50.5,277.8 L51.0,277.6 L51.5,277.3 L52.0,277.0 L52.5,276.6 L53.0,276.2 L53.5,275.6 L54.0,274.9 L54.5,274.2 L55.0,273.2 L55.5,272.2 L56.0,270.9 L56.5,269.5 L57.0,268.0 L57.5,266.2 L58.0,264.2 L58.5,262.0 L59.0,259.5 L59.5,256.9 L60.0,254.1 L60.5,251.0 L61.0,247.8 L61.5,244.5 L62.0,241.0 L62.5,237.4 L63.0,233.8 L63.5,230.2 L64.0,226.7 L64.5,223.2 L65.0,219.9 L65.5,216.8 L66.0,214.0 L66.5,211.5 L67.0,209.3 L67.5,207.5 L68.0,206.2 L68.5,205.3 L69.0,204.8 L69.5,205.0 L70.0,206.5 L70.5,209.2 L71.0,213.0 L71.5,217.8 L72.0,223.2 L72.5,229.0 L73.0,235.0 L73.5,241.0 L74.0,246.8 L74.5,252.1 L75.0,257.0 L75.5,261.3 L76.0,265.0 L76.5,268.1 L77.0,270.6 L77.5,272.6 L78.0,274.2 L78.5,275.5 L79.0,276.4 L79.5,277.1 L80.0,277.6 L80.5,277.9 L81.0,278.1 L81.5,278.3 L82.0,278.4 L82.5,278.5 L83.0,278.5 L83.5,278.6 L84.0,278.6" fill="none" stroke="#666" stroke-width="0.7"/>
<path d="M31.5,278.6 L32.0,278.6 L32.5,278.6 L33.0,278.6 L33.5,278.6 L34.0,278.6 L34.5,278.6 L35.0,278.6 L35.5,278.6 L36.0,278.6 L36.5,278.6 L37.0,278.6 L37.5,278.6 L38.0,278.6 L38.5,278.6 L39.0,278.6 L39.5,278.6 L40.0,278.6 L40.5,278.6 L41.0,278.6 L41.5,278.6 L42.0,278.6 L42.5,278.6 L43.0,278.6 L43.5,278.6 L44.0,278.6 L44.5,278.6 L45.0,278.6 L45.5,278.6 L46.0,278.6 L46.5,278.6 L47.0,278.6 L47.5,278.6 L48.0,278.6 L48.5,278.6 L49.0,278.6 L49.5,278.6 L50.0,278.6 L50.5,278.5 L51.0,278.5 L51.5,278.5 L52.0,278.4 L52.5,278.4 L53.0,278.3 L53.5,278.2 L54.0,278.1 L54.5,277.9 L55.0,277.7 L55.5,277.5 L56.0,277.1 L56.5,276.7 L57.0,276.3 L57.5,275.7 L58.0,275.0 L58.5,274.1 L59.0,273.2 L59.5,272.0 L60.0,270.7 L60.5,269.1 L61.0,267.3 L61.5,265.4 L62.0,263.1 L62.5,260.7 L63.0,258.0 L63.5,255.0 L64.0,251.9 L64.5,248.5 L65.0,245.0 L65.5,241.3 L66.0,237.6 L66.5,233.8 L67.0,230.0 L67.5,226.3 L68.0,222.7 L68.5,219.4 L69.0,216.2 L69.5,213.5 L70.0,211.0 L70.5,209.1 L71.0,207.5 L71.5,206.5 L72.0,206.0 L72.5,206.1 L73.0,206.6 L73.5,207.7 L74.0,209.2 L74.5,211.1 L75.0,213.5 L75.5,216.2 L76.0,219.2 L76.5,222.4 L77.0,225.9 L77.5,229.5 L78.0,233.1 L78.5,236.8 L79.0,240.4 L79.5,244.0 L80.0,247.4 L80.5,250.7 L81.0,253.8 L81.5,256.8 L82.0,259.5 L82.5,262.0 L83.0,264.2 L83.5,266.3 L84.0,268.1 L84.5,269.7 L85.0,271.1 L85.5,272.4 L86.0,273.4 L86.5,274.4 L87.0,275.1 L87.5,275.8 L88.0,276.3 L88.5,276.8 L89.0,277.2 L89.5,277.5 L90.0,277.7 L90.5,277.9 L91.0,278.1 L91.5,278.2 L92.0,278.3 L92.5,278.4 L93.0,278.4 L93.5,278.5 L94.0,278.5 L94.5,278.5 L95.0,278.5 L95.5,278.6 L96.0,278.6 L96.5,278.6 L97.0,278.6 L97.5,278.6 L98.0,278.6 L98.5,278.6 L99.0,278.6 L99.5,278.6 L100.0,278.6 L100.5,278.6 L101.0,278.6 L101.5,278.6 L102.0,278.6 L102.5,278.6 L103.0,278.6 L103.5,278.6 L104.0,278.6 L104.5,278.6 L105.0,278.6 L105.5,278.6 L106.0,278.6 L106.5,278.6 L107.0,278.6 L107.5,278.6 L108.0,278.6 L108.5,278.6 L109.0,278.6 L109.5,278.6 L110.0,278.6 L110.5,278.6 L111.0,278.6" fill="none" stroke="#111" stroke-width="1.5" stroke-linejoin="round"/>
<path d="M50.0,278.5 L50.5,278.5 L51.0,278.5 L51.5,278.5 L52.0,278.4 L52.5,278.4 L53.0,278.3 L53.5,278.2 L54.0,278.1 L54.5,277.9 L55.0,277.7 L55.5,277.5 L56.0,277.2 L56.5,276.9 L57.0,276.4 L57.5,275.9 L58.0,275.3 L58.5,274.6 L59.0,273.8 L59.5,272.8 L60.0,271.7 L60.5,270.4 L61.0,268.9 L61.5,267.3 L62.0,265.4 L62.5,263.3 L63.0,261.1 L63.5,258.6 L64.0,255.9 L64.5,253.0 L65.0,250.0 L65.5,246.8 L66.0,243.5 L66.5,240.1 L67.0,236.6 L67.5,233.1 L68.0,229.6 L68.5,226.2 L69.0,222.9 L69.5,219.9 L70.0,217.0 L70.5,214.4 L71.0,212.2 L71.5,210.3 L72.0,208.8 L72.5,207.8 L73.0,207.1 L73.5,207.0 L74.0,207.4 L74.5,208.4 L75.0,209.9 L75.5,211.9 L76.0,214.3 L76.5,217.2 L77.0,220.4 L77.5,223.8 L78.0,227.5 L78.5,231.3 L79.0,235.2 L79.5,239.0 L80.0,242.8 L80.5,246.5 L81.0,250.1 L81.5,253.4 L82.0,256.6 L82.5,259.5 L83.0,262.1 L83.5,264.5 L84.0,266.7 L84.5,268.6 L85.0,270.2 L85.5,271.7 L86.0,272.9 L86.5,274.0 L87.0,274.8 L87.5,275.6 L88.0,276.2 L88.5,276.7 L89.0,277.1 L89.5,277.5 L90.0,277.7 L90.5,277.9 L91.0,278.1 L91.5,278.2 L92.0,278.3 L92.5,278.4 L93.0,278.4 L93.5,278.5 L94.0,278.5 L94.5,278.5 L95.0,278.6" fill="none" stroke="#222" stroke-width="0.8"/>
<path d="M127.2,278.6 L127.7,278.6 L128.2,278.6 L128.7,278.6 L129.2,278.6 L129.7,278.6 L130.2,278.6 L130.7,278.6 L131.2,278.6 L131.7,278.6 L132.2,278.6 L132.7,278.5 L133.2,278.5 L133.7,278.5 L134.2,278.5 L134.7,278.4 L135.2,278.4 L135.7,278.3 L136.2,278.2 L136.7,278.0 L137.2,277.9 L137.7,277.6 L138.2,277.4 L138.7,277.0 L139.2,276.6 L139.7,276.1 L140.2,275.5 L140.7,274.7 L141.2,273.8 L141.7,272.8 L142.2,271.6 L142.7,270.2 L143.2,268.5 L143.7,266.7 L144.2,264.6 L144.7,262.3 L145.2,259.7 L145.7,256.9 L146.2,253.8 L146.7,250.5 L147.2,247.1 L147.7,243.4 L148.2,239.7 L148.7,235.8 L149.2,231.9 L149.7,228.1 L150.2,224.3 L150.7,220.6 L151.2,217.2 L151.7,214.1 L152.2,211.3 L152.7,208.9 L153.2,207.0 L153.7,205.5 L154.2,204.6 L154.7,204.2 L155.2,204.4 L155.7,205.1 L156.2,206.3 L156.7,208.1 L157.2,210.3 L157.7,212.9 L158.2,215.9 L158.7,219.3 L159.2,222.8 L159.7,226.5 L160.2,230.4 L160.7,234.3 L161.2,238.1 L161.7,241.9 L162.2,245.6 L162.7,249.2 L163.2,252.5 L163.7,255.7 L164.2,258.6 L164.7,261.3 L165.2,263.7 L165.7,265.9 L166.2,267.8 L166.7,269.5 L167.2,271.0 L167.7,272.3 L168.2,273.4 L168.7,274.4 L169.2,275.2 L169.7,275.9 L170.2,276.4 L170.7,276.9 L171.2,277.2 L171.7,277.5 L172.2,277.8 L172.7,278.0 L173.2,278.1 L173.7,278.2 L174.2,278.3 L174.7,278.4 L175.2,278.4 L175.7,278.5 L176.2,278.5 L176.7,278.5 L177.2,278.6 L177.7,278.6 L178.2,278.6 L178.7,278.6 L179.2,278.6 L179.7,278.6 L180.2,278.6 L180.7,278.6 L181.2,278.6 L181.7,278.6 L182.2,278.6 L182.7,278.6 L183.2,278.6 L183.7,278.6 L184.2,278.6 L184.7,278.6 L185.2,278.6 L185.7,278.6 L186.2,278.6 L186.7,278.6 L187.2,278.6 L187.7,278.6 L188.2,278.6 L188.7,278.6 L189.2,278.6 L189.7,278.6 L190.2,278.6 L190.7,278.6 L191.2,278.6 L191.7,278.6 L192.2,278.6 L192.7,278.6 L193.2,278.6 L193.7,278.6 L194.2,278.6 L194.7,278.6 L195.2,278.6 L195.7,278.6 L196.2,278.6 L196.7,278.6 L197.2,278.6 L197.7,278.6 L198.2,278.6 L198.7,278.6 L199.2,278.6 L199.7,278.6 L200.2,278.6 L200.7,278.6 L201.2,278.6 L201.7,278.6 L202.2,278.6 L202.7,278.6 L203.2,278.6 L203.7,278.6 L204.2,278.6 L204.7,278.6 L205.2,278.6 L205.7,278.6 L206.2,278.6 L206.7,278.6 L207.2,278.6 L207.7,278.6" fill="none" stroke="#111" stroke-width="1.5" stroke-linejoin="round"/>
<path d="M130.0,278.6 L130.5,278.6 L131.0,278.6 L131.5,278.6 L132.0,278.6 L132.5,278.5 L133.0,278.5 L133.5,278.5 L134.0,278.4 L134.5,278.4 L135.0,278.3 L135.5,278.2 L136.0,278.1 L136.5,278.0 L137.0,277.8 L137.5,277.6 L138.0,277.3 L138.5,277.0 L139.0,276.6 L139.5,276.1 L140.0,275.6 L140.5,274.9 L141.0,274.1 L141.5,273.1 L142.0,272.0 L142.5,270.8 L143.0,269.3 L143.5,267.7 L144.0,265.8 L144.5,263.7 L145.0,261.4 L145.5,258.9 L146.0,256.2 L146.5,253.3 L147.0,250.2 L147.5,246.9 L148.0,243.4 L148.5,239.9 L149.0,236.3 L149.5,232.6 L150.0,229.0 L150.5,225.4 L151.0,222.0 L151.5,218.8 L152.0,215.8 L152.5,213.0 L153.0,210.7 L153.5,208.7 L154.0,207.1 L154.5,206.0 L155.0,205.4 L155.5,205.2 L156.0,205.6 L156.5,206.5 L157.0,207.8 L157.5,209.7 L158.0,212.0 L158.5,214.7 L159.0,217.7 L159.5,220.9 L160.0,224.4 L160.5,228.1 L161.0,231.8 L161.5,235.6 L162.0,239.3 L162.5,243.0 L163.0,246.6 L163.5,250.0 L164.0,253.2 L164.5,256.3 L165.0,259.1 L165.5,261.6 L166.0,264.0 L166.5,266.1 L167.0,268.0 L167.5,269.6 L168.0,271.1 L168.5,272.4 L169.0,273.4 L169.5,274.4 L170.0,275.2 L170.5,275.8 L171.0,276.4 L171.5,276.8 L172.0,277.2 L172.5,277.5 L173.0,277.7 L173.5,277.9 L174.0,278.1 L174.5,278.2 L175.0,278.3 L175.5,278.4 L176.0,278.4 L176.5,278.5 L177.0,278.5 L177.5,278.5 L178.0,278.6 L178.5,278.6 L179.0,278.6 L179.5,278.6 L180.0,278.6" fill="none" stroke="#333" stroke-width="0.8"/>
<path d="M127.3,270 L128,266 L128.8,268.5 L129.6,266.5 L130.5,267.3 L131.3,264 L132.2,262.5 L133,259 L133.8,257.5 L134.6,254 L135.4,251.5 L136.2,250 L137,244 L137.8,240 L138.6,238.5 L139.4,237 L140.2,231 L141,224 L141.6,220.5 L142.4,221.5 L143.2,219.5 L144,220.5 L144.6,218.8 L145.4,222 L146.2,229 L147,238 L148,249 L149,258 L150,265 L151,270 L152,273 L153.5,275 L155,276.3 L157,276.8 L158.5,275.6 L159.5,277.4 L161,278 L164,278.4" fill="none" stroke="#222" stroke-width="0.8" stroke-linejoin="round"/>
<line x1="127.4" y1="229" x2="127.4" y2="279" stroke="#222" stroke-width="1.0" />
<line x1="208.0" y1="242" x2="208.0" y2="279" stroke="#333" stroke-width="1.0" />
<text transform="translate(21.2,240.3) rotate(-90)" font-size="11.3" font-weight="bold" text-anchor="middle" fill="#111" textLength="34.5" lengthAdjust="spacingAndGlyphs">Counts</text>
<text x="72.2" y="300.8" font-size="11" font-weight="bold" text-anchor="middle" fill="#111" textLength="60.5" lengthAdjust="spacingAndGlyphs">Granzyme B</text>
<text x="168.7" y="300.8" font-size="11" font-weight="bold" text-anchor="middle" fill="#111" textLength="32.5" lengthAdjust="spacingAndGlyphs">CD95L</text>
<rect x="4.3" y="316.3" width="210.5" height="13.699999999999989" fill="#8d8d8d"/>
<rect x="4.3" y="316.3" width="210.5" height="56.19999999999999" fill="none" stroke="#666" stroke-width="0.9"/>
<line x1="4.3" y1="330.0" x2="214.8" y2="330.0" stroke="#777" stroke-width="0.7" />
<line x1="4.3" y1="344.5" x2="214.8" y2="344.5" stroke="#777" stroke-width="0.7" />
<line x1="4.3" y1="358.4" x2="214.8" y2="358.4" stroke="#777" stroke-width="0.7" />
<line x1="39.8" y1="316.3" x2="39.8" y2="372.5" stroke="#777" stroke-width="0.7" />
<line x1="113.4" y1="316.3" x2="113.4" y2="372.5" stroke="#777" stroke-width="0.7" />
<line x1="161.4" y1="316.3" x2="161.4" y2="372.5" stroke="#777" stroke-width="0.7" />
<text x="20.6" y="326" font-size="8.6" font-weight="bold" text-anchor="middle" fill="#1a1a1a" >Legend</text>
<text x="76.2" y="326.3" font-size="8.6" font-weight="bold" text-anchor="middle" fill="#1a1a1a" >Group</text>
<text x="137.6" y="325.7" font-size="8.5" font-weight="bold" text-anchor="middle" fill="#1a1a1a" >MFI GrzB</text>
<text x="188" y="325.7" font-size="8.4" font-weight="bold" text-anchor="middle" fill="#1a1a1a" >MFI CD95L</text>
<rect x="8.3" y="334" width="28" height="7.6" fill="#fff" stroke="#222" stroke-width="1.3"/>
<rect x="8.3" y="347.9" width="28" height="7.6" fill="#fff" stroke="#8a8a8a" stroke-width="0.9"/>
<rect x="8.3" y="361.8" width="28" height="7.8" fill="#fff" stroke="#555" stroke-width="0.9" stroke-dasharray="1,1"/>
<text x="46" y="340.6" font-size="8.5"  text-anchor="start" fill="#111" >R-DC<tspan font-size="6.2" dy="1.6">pulsed</tspan><tspan dy="-1.6">: ETC</tspan></text>
<text x="46" y="354.4" font-size="8.5"  text-anchor="start" fill="#111" >D-DC<tspan font-size="6.2" dy="1.6">pulsed</tspan><tspan dy="-1.6">: ETC</tspan></text>
<text x="46" y="368.4" font-size="8.8"  text-anchor="start" fill="#111" >Donor CD8+ spl</text>
<text x="137.6" y="340.0" font-size="9.2"  text-anchor="middle" fill="#111" >111</text>
<text x="188.2" y="340.0" font-size="9.2"  text-anchor="middle" fill="#111" >23</text>
<text x="137.6" y="353.8" font-size="9.2"  text-anchor="middle" fill="#111" >101</text>
<text x="188.2" y="353.8" font-size="9.2"  text-anchor="middle" fill="#111" >25</text>
<text x="137.6" y="367.4" font-size="9.2"  text-anchor="middle" fill="#111" >45</text>
<text x="188.2" y="367.4" font-size="9.2"  text-anchor="middle" fill="#111" >9</text>
</g>
<g id="bars">
<rect x="437.2" y="253" width="11.6" height="10" fill="#000"/>
<rect x="437.2" y="267.5" width="11.6" height="10" fill="#777"/>
<text x="454.2" y="260.5" font-size="7.4" font-weight="bold" text-anchor="start" fill="#111" >R-DC<tspan font-size="5.6" dy="1.5">pulsed</tspan><tspan dy="-1.5">: ETC</tspan></text>
<text x="454.2" y="275.3" font-size="7.4" font-weight="bold" text-anchor="start" fill="#111" >D-DC<tspan font-size="5.6" dy="1.5">pulsed</tspan><tspan dy="-1.5">: ETC</tspan></text>
<text transform="translate(245.6,335.5) rotate(-90)" font-size="8.5" font-weight="bold" text-anchor="middle" fill="#111" >Mean fluorescence intensity</text>
<line x1="261.9" y1="383.5" x2="263.7" y2="383.5" stroke="#444" stroke-width="0.6" />
<text x="261.09999999999997" y="385.5" font-size="5.6" font-weight="bold" text-anchor="end" fill="#222" >0</text>
<line x1="263.7" y1="369.54285714285714" x2="334.6" y2="369.54285714285714" stroke="#999" stroke-width="0.8" />
<line x1="261.9" y1="369.54285714285714" x2="263.7" y2="369.54285714285714" stroke="#444" stroke-width="0.6" />
<text x="261.09999999999997" y="371.54285714285714" font-size="5.6" font-weight="bold" text-anchor="end" fill="#222" >10</text>
<line x1="263.7" y1="355.5857142857143" x2="334.6" y2="355.5857142857143" stroke="#999" stroke-width="0.8" />
<line x1="261.9" y1="355.5857142857143" x2="263.7" y2="355.5857142857143" stroke="#444" stroke-width="0.6" />
<text x="261.09999999999997" y="357.5857142857143" font-size="5.6" font-weight="bold" text-anchor="end" fill="#222" >20</text>
<line x1="263.7" y1="341.62857142857143" x2="334.6" y2="341.62857142857143" stroke="#999" stroke-width="0.8" />
<line x1="261.9" y1="341.62857142857143" x2="263.7" y2="341.62857142857143" stroke="#444" stroke-width="0.6" />
<text x="261.09999999999997" y="343.62857142857143" font-size="5.6" font-weight="bold" text-anchor="end" fill="#222" >30</text>
<line x1="263.7" y1="327.6714285714286" x2="334.6" y2="327.6714285714286" stroke="#999" stroke-width="0.8" />
<line x1="261.9" y1="327.6714285714286" x2="263.7" y2="327.6714285714286" stroke="#444" stroke-width="0.6" />
<text x="261.09999999999997" y="329.6714285714286" font-size="5.6" font-weight="bold" text-anchor="end" fill="#222" >40</text>
<line x1="263.7" y1="313.7142857142857" x2="334.6" y2="313.7142857142857" stroke="#999" stroke-width="0.8" />
<line x1="261.9" y1="313.7142857142857" x2="263.7" y2="313.7142857142857" stroke="#444" stroke-width="0.6" />
<text x="261.09999999999997" y="315.7142857142857" font-size="5.6" font-weight="bold" text-anchor="end" fill="#222" >50</text>
<line x1="263.7" y1="299.75714285714287" x2="334.6" y2="299.75714285714287" stroke="#999" stroke-width="0.8" />
<line x1="261.9" y1="299.75714285714287" x2="263.7" y2="299.75714285714287" stroke="#444" stroke-width="0.6" />
<text x="261.09999999999997" y="301.75714285714287" font-size="5.6" font-weight="bold" text-anchor="end" fill="#222" >60</text>
<line x1="263.7" y1="285.8" x2="334.6" y2="285.8" stroke="#999" stroke-width="0.8" />
<line x1="261.9" y1="285.8" x2="263.7" y2="285.8" stroke="#444" stroke-width="0.6" />
<text x="261.09999999999997" y="287.8" font-size="5.6" font-weight="bold" text-anchor="end" fill="#222" >70</text>
<line x1="334.6" y1="285.8" x2="334.6" y2="383.5" stroke="#999" stroke-width="0.8" />
<line x1="263.7" y1="285.8" x2="263.7" y2="383.5" stroke="#444" stroke-width="0.9" />
<line x1="263.7" y1="383.5" x2="334.6" y2="383.5" stroke="#444" stroke-width="0.9" />
<rect x="274.2" y="333.3" width="13.6" height="50.2" fill="#000"/>
<line x1="281.0" y1="330.46285714285716" x2="281.0" y2="333.25428571428574" stroke="#000" stroke-width="1.5" />
<line x1="275.4" y1="330.46285714285716" x2="286.6" y2="330.46285714285716" stroke="#000" stroke-width="1.5" />
<rect x="309.4" y="320.3" width="13.5" height="63.2" fill="#777"/>
<line x1="316.15" y1="299.75714285714287" x2="316.15" y2="340.23285714285714" stroke="#000" stroke-width="1.5" />
<line x1="310.54999999999995" y1="299.75714285714287" x2="321.75" y2="299.75714285714287" stroke="#000" stroke-width="1.5" />
<line x1="310.54999999999995" y1="340.23285714285714" x2="321.75" y2="340.23285714285714" stroke="#000" stroke-width="1.5" />
<text x="298.6" y="394" font-size="7.5" font-weight="bold" text-anchor="middle" fill="#222" >CD25</text>
<line x1="350.8" y1="383.5" x2="352.6" y2="383.5" stroke="#444" stroke-width="0.6" />
<text x="350.0" y="385.5" font-size="5.6" font-weight="bold" text-anchor="end" fill="#222" >0</text>
<line x1="352.6" y1="369.54285714285714" x2="421.3" y2="369.54285714285714" stroke="#999" stroke-width="0.8" />
<line x1="350.8" y1="369.54285714285714" x2="352.6" y2="369.54285714285714" stroke="#444" stroke-width="0.6" />
<text x="350.0" y="371.54285714285714" font-size="5.6" font-weight="bold" text-anchor="end" fill="#222" >100</text>
<line x1="352.6" y1="355.5857142857143" x2="421.3" y2="355.5857142857143" stroke="#999" stroke-width="0.8" />
<line x1="350.8" y1="355.5857142857143" x2="352.6" y2="355.5857142857143" stroke="#444" stroke-width="0.6" />
<text x="350.0" y="357.5857142857143" font-size="5.6" font-weight="bold" text-anchor="end" fill="#222" >200</text>
<line x1="352.6" y1="341.62857142857143" x2="421.3" y2="341.62857142857143" stroke="#999" stroke-width="0.8" />
<line x1="350.8" y1="341.62857142857143" x2="352.6" y2="341.62857142857143" stroke="#444" stroke-width="0.6" />
<text x="350.0" y="343.62857142857143" font-size="5.6" font-weight="bold" text-anchor="end" fill="#222" >300</text>
<line x1="352.6" y1="327.6714285714286" x2="421.3" y2="327.6714285714286" stroke="#999" stroke-width="0.8" />
<line x1="350.8" y1="327.6714285714286" x2="352.6" y2="327.6714285714286" stroke="#444" stroke-width="0.6" />
<text x="350.0" y="329.6714285714286" font-size="5.6" font-weight="bold" text-anchor="end" fill="#222" >400</text>
<line x1="352.6" y1="313.7142857142857" x2="421.3" y2="313.7142857142857" stroke="#999" stroke-width="0.8" />
<line x1="350.8" y1="313.7142857142857" x2="352.6" y2="313.7142857142857" stroke="#444" stroke-width="0.6" />
<text x="350.0" y="315.7142857142857" font-size="5.6" font-weight="bold" text-anchor="end" fill="#222" >500</text>
<line x1="352.6" y1="299.75714285714287" x2="421.3" y2="299.75714285714287" stroke="#999" stroke-width="0.8" />
<line x1="350.8" y1="299.75714285714287" x2="352.6" y2="299.75714285714287" stroke="#444" stroke-width="0.6" />
<text x="350.0" y="301.75714285714287" font-size="5.6" font-weight="bold" text-anchor="end" fill="#222" >600</text>
<line x1="352.6" y1="285.8" x2="421.3" y2="285.8" stroke="#999" stroke-width="0.8" />
<line x1="350.8" y1="285.8" x2="352.6" y2="285.8" stroke="#444" stroke-width="0.6" />
<text x="350.0" y="287.8" font-size="5.6" font-weight="bold" text-anchor="end" fill="#222" >700</text>
<line x1="421.3" y1="285.8" x2="421.3" y2="383.5" stroke="#999" stroke-width="0.8" />
<line x1="352.6" y1="285.8" x2="352.6" y2="383.5" stroke="#444" stroke-width="0.9" />
<line x1="352.6" y1="383.5" x2="421.3" y2="383.5" stroke="#444" stroke-width="0.9" />
<rect x="363.3" y="317.9" width="13.3" height="65.6" fill="#000"/>
<line x1="369.95000000000005" y1="296.26785714285717" x2="369.95000000000005" y2="317.9014285714286" stroke="#000" stroke-width="1.5" />
<line x1="364.35" y1="296.26785714285717" x2="375.55000000000007" y2="296.26785714285717" stroke="#000" stroke-width="1.5" />
<rect x="398" y="324.2" width="13.4" height="59.3" fill="#777"/>
<line x1="404.7" y1="319.995" x2="404.7" y2="326.2757142857143" stroke="#000" stroke-width="1.5" />
<line x1="399.09999999999997" y1="319.995" x2="410.3" y2="319.995" stroke="#000" stroke-width="1.5" />
<line x1="399.09999999999997" y1="326.2757142857143" x2="410.3" y2="326.2757142857143" stroke="#000" stroke-width="1.5" />
<text x="387.3" y="394" font-size="7.5" font-weight="bold" text-anchor="middle" fill="#222" >CD44</text>
<line x1="438.59999999999997" y1="383.5" x2="440.4" y2="383.5" stroke="#444" stroke-width="0.6" />
<text x="437.79999999999995" y="385.5" font-size="5.6" font-weight="bold" text-anchor="end" fill="#222" >0</text>
<line x1="440.4" y1="369.54285714285714" x2="511.3" y2="369.54285714285714" stroke="#999" stroke-width="0.8" />
<line x1="438.59999999999997" y1="369.54285714285714" x2="440.4" y2="369.54285714285714" stroke="#444" stroke-width="0.6" />
<text x="437.79999999999995" y="371.54285714285714" font-size="5.6" font-weight="bold" text-anchor="end" fill="#222" >10</text>
<line x1="440.4" y1="355.5857142857143" x2="511.3" y2="355.5857142857143" stroke="#999" stroke-width="0.8" />
<line x1="438.59999999999997" y1="355.5857142857143" x2="440.4" y2="355.5857142857143" stroke="#444" stroke-width="0.6" />
<text x="437.79999999999995" y="357.5857142857143" font-size="5.6" font-weight="bold" text-anchor="end" fill="#222" >20</text>
<line x1="440.4" y1="341.62857142857143" x2="511.3" y2="341.62857142857143" stroke="#999" stroke-width="0.8" />
<line x1="438.59999999999997" y1="341.62857142857143" x2="440.4" y2="341.62857142857143" stroke="#444" stroke-width="0.6" />
<text x="437.79999999999995" y="343.62857142857143" font-size="5.6" font-weight="bold" text-anchor="end" fill="#222" >30</text>
<line x1="440.4" y1="327.6714285714286" x2="511.3" y2="327.6714285714286" stroke="#999" stroke-width="0.8" />
<line x1="438.59999999999997" y1="327.6714285714286" x2="440.4" y2="327.6714285714286" stroke="#444" stroke-width="0.6" />
<text x="437.79999999999995" y="329.6714285714286" font-size="5.6" font-weight="bold" text-anchor="end" fill="#222" >40</text>
<line x1="440.4" y1="313.7142857142857" x2="511.3" y2="313.7142857142857" stroke="#999" stroke-width="0.8" />
<line x1="438.59999999999997" y1="313.7142857142857" x2="440.4" y2="313.7142857142857" stroke="#444" stroke-width="0.6" />
<text x="437.79999999999995" y="315.7142857142857" font-size="5.6" font-weight="bold" text-anchor="end" fill="#222" >50</text>
<line x1="440.4" y1="299.75714285714287" x2="511.3" y2="299.75714285714287" stroke="#999" stroke-width="0.8" />
<line x1="438.59999999999997" y1="299.75714285714287" x2="440.4" y2="299.75714285714287" stroke="#444" stroke-width="0.6" />
<text x="437.79999999999995" y="301.75714285714287" font-size="5.6" font-weight="bold" text-anchor="end" fill="#222" >60</text>
<line x1="440.4" y1="285.8" x2="511.3" y2="285.8" stroke="#999" stroke-width="0.8" />
<line x1="438.59999999999997" y1="285.8" x2="440.4" y2="285.8" stroke="#444" stroke-width="0.6" />
<text x="437.79999999999995" y="287.8" font-size="5.6" font-weight="bold" text-anchor="end" fill="#222" >70</text>
<line x1="511.3" y1="285.8" x2="511.3" y2="383.5" stroke="#999" stroke-width="0.8" />
<line x1="440.4" y1="285.8" x2="440.4" y2="383.5" stroke="#444" stroke-width="0.9" />
<line x1="440.4" y1="383.5" x2="511.3" y2="383.5" stroke="#444" stroke-width="0.9" />
<rect x="450.2" y="331.9" width="13.5" height="51.6" fill="#000"/>
<line x1="456.95" y1="308.82928571428573" x2="456.95" y2="331.85857142857145" stroke="#000" stroke-width="1.5" />
<line x1="451.34999999999997" y1="308.82928571428573" x2="462.55" y2="308.82928571428573" stroke="#000" stroke-width="1.5" />
<rect x="485.4" y="310.9" width="13.6" height="72.6" fill="#777"/>
<line x1="492.2" y1="299.75714285714287" x2="492.2" y2="322.0885714285714" stroke="#000" stroke-width="1.5" />
<line x1="486.59999999999997" y1="299.75714285714287" x2="497.8" y2="299.75714285714287" stroke="#000" stroke-width="1.5" />
<line x1="486.59999999999997" y1="322.0885714285714" x2="497.8" y2="322.0885714285714" stroke="#000" stroke-width="1.5" />
<text x="475.3" y="394" font-size="7.5" font-weight="bold" text-anchor="middle" fill="#222" >CD69</text>
</g>
<g id="panelD">
<text x="48.3" y="543.3" font-size="9" font-weight="bold" text-anchor="end" fill="#111" >0</text>
<line x1="52.6" y1="514.66" x2="242.8" y2="514.66" stroke="#9a9a9a" stroke-width="0.9" />
<text x="48.3" y="517.9599999999999" font-size="9" font-weight="bold" text-anchor="end" fill="#111" >20</text>
<line x1="52.6" y1="489.32" x2="242.8" y2="489.32" stroke="#9a9a9a" stroke-width="0.9" />
<text x="48.3" y="492.62" font-size="9" font-weight="bold" text-anchor="end" fill="#111" >40</text>
<line x1="52.6" y1="463.98" x2="242.8" y2="463.98" stroke="#9a9a9a" stroke-width="0.9" />
<text x="48.3" y="467.28000000000003" font-size="9" font-weight="bold" text-anchor="end" fill="#111" >60</text>
<line x1="52.6" y1="438.64" x2="242.8" y2="438.64" stroke="#9a9a9a" stroke-width="0.9" />
<text x="48.3" y="441.94" font-size="9" font-weight="bold" text-anchor="end" fill="#111" >80</text>
<line x1="52.6" y1="413.3" x2="242.8" y2="413.3" stroke="#9a9a9a" stroke-width="0.9" />
<text x="48.3" y="416.6" font-size="9" font-weight="bold" text-anchor="end" fill="#111" >100</text>
<line x1="242.8" y1="413.3" x2="242.8" y2="540.0" stroke="#9a9a9a" stroke-width="0.9" />
<line x1="52.6" y1="413.3" x2="52.6" y2="540.0" stroke="#555" stroke-width="1" />
<line x1="52.6" y1="540.0" x2="242.8" y2="540.0" stroke="#333" stroke-width="1" />
<line x1="52.6" y1="540.0" x2="52.6" y2="542.5" stroke="#333" stroke-width="0.8" />
<line x1="76.375" y1="540.0" x2="76.375" y2="542.5" stroke="#333" stroke-width="0.8" />
<line x1="100.15" y1="540.0" x2="100.15" y2="542.5" stroke="#333" stroke-width="0.8" />
<line x1="123.92500000000001" y1="540.0" x2="123.92500000000001" y2="542.5" stroke="#333" stroke-width="0.8" />
<line x1="147.70000000000002" y1="540.0" x2="147.70000000000002" y2="542.5" stroke="#333" stroke-width="0.8" />
<line x1="171.47500000000002" y1="540.0" x2="171.47500000000002" y2="542.5" stroke="#333" stroke-width="0.8" />
<line x1="195.25" y1="540.0" x2="195.25" y2="542.5" stroke="#333" stroke-width="0.8" />
<line x1="219.025" y1="540.0" x2="219.025" y2="542.5" stroke="#333" stroke-width="0.8" />
<line x1="242.8" y1="540.0" x2="242.8" y2="542.5" stroke="#333" stroke-width="0.8" />
<text x="66.7" y="556" font-size="8.6" font-weight="bold" text-anchor="middle" fill="#111" >100:1</text>
<text x="114" y="556" font-size="8.6" font-weight="bold" text-anchor="middle" fill="#111" >25:1</text>
<text x="161.4" y="556" font-size="8.6" font-weight="bold" text-anchor="middle" fill="#111" >6:1</text>
<text x="209.2" y="556" font-size="8.6" font-weight="bold" text-anchor="middle" fill="#111" >3:1</text>
<text x="146.2" y="576" font-size="11.1" font-weight="bold" text-anchor="middle" fill="#111" >Effector: Target ratio</text>
<text transform="translate(25.2,476.3) rotate(-90)" font-size="10.95" font-weight="bold" text-anchor="middle" fill="#111" >Percentage cytolysis</text>
<polyline fill="none" stroke="#858585" stroke-width="2.3" stroke-linejoin="round" points="64.5,525.7 88.3,531.1 112.0,539.4 135.8,530.5 159.6,539.6 183.4,539.6 207.1,539.6 230.9,539.6"/>
<path d="M60.9,525.7 L64.5,521.5 L68.1,525.7 L64.5,529.8Z" fill="#999"/>
<path d="M84.7,531.1 L88.3,527.0 L91.9,531.1 L88.3,535.3Z" fill="#999"/>
<path d="M108.4,539.4 L112.0,535.2 L115.6,539.4 L112.0,543.5Z" fill="#999"/>
<path d="M132.2,530.5 L135.8,526.4 L139.4,530.5 L135.8,534.6Z" fill="#999"/>
<path d="M156.0,539.6 L159.6,535.5 L163.2,539.6 L159.6,543.8Z" fill="#999"/>
<path d="M179.8,539.6 L183.4,535.5 L187.0,539.6 L183.4,543.8Z" fill="#999"/>
<path d="M203.5,539.6 L207.1,535.5 L210.7,539.6 L207.1,543.8Z" fill="#999"/>
<path d="M227.3,539.6 L230.9,535.5 L234.5,539.6 L230.9,543.8Z" fill="#999"/>
<line x1="64.4875" y1="529.864" x2="64.4875" y2="520.995" stroke="#111" stroke-width="1.2" />
<line x1="59.4875" y1="529.864" x2="69.4875" y2="529.864" stroke="#111" stroke-width="1.3" />
<line x1="59.4875" y1="520.995" x2="69.4875" y2="520.995" stroke="#111" stroke-width="1.3" />
<line x1="88.2625" y1="536.8325" x2="88.2625" y2="524.796" stroke="#111" stroke-width="1.2" />
<line x1="83.2625" y1="536.8325" x2="93.2625" y2="536.8325" stroke="#111" stroke-width="1.3" />
<line x1="83.2625" y1="524.796" x2="93.2625" y2="524.796" stroke="#111" stroke-width="1.3" />
<line x1="112.03750000000001" y1="540.0" x2="112.03750000000001" y2="534.932" stroke="#111" stroke-width="1.2" />
<line x1="107.03750000000001" y1="534.932" x2="117.03750000000001" y2="534.932" stroke="#111" stroke-width="1.3" />
<line x1="135.8125" y1="534.2985" x2="135.8125" y2="526.6965" stroke="#111" stroke-width="1.2" />
<line x1="130.8125" y1="534.2985" x2="140.8125" y2="534.2985" stroke="#111" stroke-width="1.3" />
<line x1="130.8125" y1="526.6965" x2="140.8125" y2="526.6965" stroke="#111" stroke-width="1.3" />
<line x1="159.5875" y1="540.0" x2="159.5875" y2="534.2985" stroke="#111" stroke-width="1.2" />
<line x1="154.5875" y1="534.2985" x2="164.5875" y2="534.2985" stroke="#111" stroke-width="1.3" />
<line x1="183.3625" y1="540.0" x2="183.3625" y2="536.199" stroke="#111" stroke-width="1.2" />
<line x1="178.3625" y1="536.199" x2="188.3625" y2="536.199" stroke="#111" stroke-width="1.3" />
<line x1="207.13750000000002" y1="540.0" x2="207.13750000000002" y2="537.466" stroke="#111" stroke-width="1.2" />
<line x1="202.13750000000002" y1="537.466" x2="212.13750000000002" y2="537.466" stroke="#111" stroke-width="1.3" />
<line x1="230.91250000000002" y1="540.0" x2="230.91250000000002" y2="538.733" stroke="#111" stroke-width="1.2" />
<line x1="225.91250000000002" y1="538.733" x2="235.91250000000002" y2="538.733" stroke="#111" stroke-width="1.3" />
<polyline fill="none" stroke="#000" stroke-width="2.4" stroke-linejoin="round" points="64.5,436.1 88.3,443.7 112.0,475.4 135.8,514.7 159.6,510.2 183.4,524.4 207.1,531.5 230.9,538.7"/>
<line x1="64.4875" y1="441.17400000000004" x2="64.4875" y2="431.038" stroke="#000" stroke-width="1.3" />
<line x1="59.4875" y1="441.17400000000004" x2="69.4875" y2="441.17400000000004" stroke="#000" stroke-width="1.3" />
<line x1="59.4875" y1="431.038" x2="69.4875" y2="431.038" stroke="#000" stroke-width="1.3" />
<line x1="88.2625" y1="446.8755" x2="88.2625" y2="439.90700000000004" stroke="#000" stroke-width="1.3" />
<line x1="83.2625" y1="446.8755" x2="93.2625" y2="446.8755" stroke="#000" stroke-width="1.3" />
<line x1="83.2625" y1="439.90700000000004" x2="93.2625" y2="439.90700000000004" stroke="#000" stroke-width="1.3" />
<line x1="112.03750000000001" y1="485.519" x2="112.03750000000001" y2="464.6135" stroke="#000" stroke-width="1.3" />
<line x1="107.03750000000001" y1="485.519" x2="117.03750000000001" y2="485.519" stroke="#000" stroke-width="1.3" />
<line x1="107.03750000000001" y1="464.6135" x2="117.03750000000001" y2="464.6135" stroke="#000" stroke-width="1.3" />
<line x1="135.8125" y1="523.529" x2="135.8125" y2="505.1575" stroke="#000" stroke-width="1.3" />
<line x1="130.8125" y1="523.529" x2="140.8125" y2="523.529" stroke="#000" stroke-width="1.3" />
<line x1="130.8125" y1="505.1575" x2="140.8125" y2="505.1575" stroke="#000" stroke-width="1.3" />
<line x1="159.5875" y1="514.0265" x2="159.5875" y2="506.4245" stroke="#000" stroke-width="1.3" />
<line x1="154.5875" y1="514.0265" x2="164.5875" y2="514.0265" stroke="#000" stroke-width="1.3" />
<line x1="154.5875" y1="506.4245" x2="164.5875" y2="506.4245" stroke="#000" stroke-width="1.3" />
<line x1="183.3625" y1="527.9635" x2="183.3625" y2="520.995" stroke="#000" stroke-width="1.3" />
<line x1="178.3625" y1="527.9635" x2="188.3625" y2="527.9635" stroke="#000" stroke-width="1.3" />
<line x1="178.3625" y1="520.995" x2="188.3625" y2="520.995" stroke="#000" stroke-width="1.3" />
<line x1="207.13750000000002" y1="534.932" x2="207.13750000000002" y2="527.9635" stroke="#000" stroke-width="1.3" />
<line x1="202.13750000000002" y1="534.932" x2="212.13750000000002" y2="534.932" stroke="#000" stroke-width="1.3" />
<line x1="202.13750000000002" y1="527.9635" x2="212.13750000000002" y2="527.9635" stroke="#000" stroke-width="1.3" />
<line x1="230.91250000000002" y1="540.0" x2="230.91250000000002" y2="536.199" stroke="#000" stroke-width="1.3" />
<line x1="225.91250000000002" y1="536.199" x2="235.91250000000002" y2="536.199" stroke="#000" stroke-width="1.3" />
<path d="M59.5,436.1 L64.5,431.1 L69.5,436.1 L64.5,441.1Z" fill="#000"/>
<path d="M83.3,443.7 L88.3,438.7 L93.3,443.7 L88.3,448.7Z" fill="#000"/>
<path d="M107.0,475.4 L112.0,470.4 L117.0,475.4 L112.0,480.4Z" fill="#000"/>
<path d="M130.8,514.7 L135.8,509.7 L140.8,514.7 L135.8,519.7Z" fill="#000"/>
<path d="M154.6,510.2 L159.6,505.2 L164.6,510.2 L159.6,515.2Z" fill="#000"/>
<path d="M178.4,524.4 L183.4,519.4 L188.4,524.4 L183.4,529.4Z" fill="#000"/>
<path d="M202.1,531.5 L207.1,526.5 L212.1,531.5 L207.1,536.5Z" fill="#000"/>
<path d="M225.9,538.7 L230.9,533.7 L235.9,538.7 L230.9,543.7Z" fill="#000"/>
<text x="303" y="540.9" font-size="9" font-weight="bold" text-anchor="end" fill="#111" >0</text>
<line x1="307" y1="512.7" x2="496.9" y2="512.7" stroke="#9a9a9a" stroke-width="0.9" />
<text x="303" y="516.0" font-size="9" font-weight="bold" text-anchor="end" fill="#111" >20</text>
<line x1="307" y1="487.8" x2="496.9" y2="487.8" stroke="#9a9a9a" stroke-width="0.9" />
<text x="303" y="491.1" font-size="9" font-weight="bold" text-anchor="end" fill="#111" >40</text>
<line x1="307" y1="462.90000000000003" x2="496.9" y2="462.90000000000003" stroke="#9a9a9a" stroke-width="0.9" />
<text x="303" y="466.20000000000005" font-size="9" font-weight="bold" text-anchor="end" fill="#111" >60</text>
<line x1="307" y1="438.0" x2="496.9" y2="438.0" stroke="#9a9a9a" stroke-width="0.9" />
<text x="303" y="441.3" font-size="9" font-weight="bold" text-anchor="end" fill="#111" >80</text>
<line x1="307" y1="413.1" x2="496.9" y2="413.1" stroke="#9a9a9a" stroke-width="0.9" />
<text x="303" y="416.40000000000003" font-size="9" font-weight="bold" text-anchor="end" fill="#111" >100</text>
<line x1="496.9" y1="413.1" x2="496.9" y2="537.6" stroke="#9a9a9a" stroke-width="0.9" />
<line x1="307" y1="413.1" x2="307" y2="537.6" stroke="#555" stroke-width="1" />
<line x1="307" y1="537.6" x2="496.9" y2="537.6" stroke="#333" stroke-width="1" />
<line x1="307.0" y1="537.6" x2="307.0" y2="540.1" stroke="#333" stroke-width="0.8" />
<line x1="330.7375" y1="537.6" x2="330.7375" y2="540.1" stroke="#333" stroke-width="0.8" />
<line x1="354.475" y1="537.6" x2="354.475" y2="540.1" stroke="#333" stroke-width="0.8" />
<line x1="378.2125" y1="537.6" x2="378.2125" y2="540.1" stroke="#333" stroke-width="0.8" />
<line x1="401.95" y1="537.6" x2="401.95" y2="540.1" stroke="#333" stroke-width="0.8" />
<line x1="425.6875" y1="537.6" x2="425.6875" y2="540.1" stroke="#333" stroke-width="0.8" />
<line x1="449.42499999999995" y1="537.6" x2="449.42499999999995" y2="540.1" stroke="#333" stroke-width="0.8" />
<line x1="473.16249999999997" y1="537.6" x2="473.16249999999997" y2="540.1" stroke="#333" stroke-width="0.8" />
<line x1="496.9" y1="537.6" x2="496.9" y2="540.1" stroke="#333" stroke-width="0.8" />
<text x="321.5" y="555.2" font-size="8.6" font-weight="bold" text-anchor="middle" fill="#111" >100:1</text>
<text x="369" y="555.2" font-size="8.6" font-weight="bold" text-anchor="middle" fill="#111" >25:1</text>
<text x="416.5" y="555.2" font-size="8.6" font-weight="bold" text-anchor="middle" fill="#111" >6:1</text>
<text x="464.1" y="555.2" font-size="8.6" font-weight="bold" text-anchor="middle" fill="#111" >3:1</text>
<text x="410" y="576" font-size="11.1" font-weight="bold" text-anchor="middle" fill="#111" >Effector: Target ratio</text>
<text transform="translate(284.6,476.3) rotate(-90)" font-size="10.95" font-weight="bold" text-anchor="middle" fill="#111" >Percentage cytolysis</text>
<polyline fill="none" stroke="#000" stroke-width="2.2" stroke-linejoin="round" points="318.9,515.1 342.6,537.0"/>
<line x1="318.86875" y1="507.22200000000004" x2="318.86875" y2="515.688" stroke="#111" stroke-width="1.2" />
<line x1="313.26874999999995" y1="507.22200000000004" x2="324.46875" y2="507.22200000000004" stroke="#111" stroke-width="1.3" />
<line x1="342.60625" y1="534.114" x2="342.60625" y2="537.6" stroke="#111" stroke-width="1.2" />
<line x1="337.00624999999997" y1="534.114" x2="348.20625" y2="534.114" stroke="#111" stroke-width="1.3" />
<line x1="366.34375" y1="530.379" x2="366.34375" y2="537.6" stroke="#111" stroke-width="1.2" />
<line x1="360.74375" y1="530.379" x2="371.94375" y2="530.379" stroke="#111" stroke-width="1.3" />
<line x1="390.08124999999995" y1="522.66" x2="390.08124999999995" y2="537.6" stroke="#111" stroke-width="1.2" />
<line x1="384.48124999999993" y1="522.66" x2="395.68125" y2="522.66" stroke="#111" stroke-width="1.3" />
<line x1="413.81875" y1="532.2465" x2="413.81875" y2="537.6" stroke="#111" stroke-width="1.2" />
<line x1="408.21875" y1="532.2465" x2="419.41875000000005" y2="532.2465" stroke="#111" stroke-width="1.3" />
<line x1="408.21875" y1="533.865" x2="419.41875000000005" y2="533.865" stroke="#111" stroke-width="1.3" />
<line x1="437.55625" y1="515.19" x2="437.55625" y2="537.6" stroke="#111" stroke-width="1.2" />
<line x1="431.95624999999995" y1="515.19" x2="443.15625" y2="515.19" stroke="#111" stroke-width="1.3" />
<line x1="431.95624999999995" y1="529.134" x2="443.15625" y2="529.134" stroke="#111" stroke-width="1.3" />
<line x1="461.29375" y1="522.162" x2="461.29375" y2="537.6" stroke="#111" stroke-width="1.2" />
<line x1="455.69374999999997" y1="522.162" x2="466.89375" y2="522.162" stroke="#111" stroke-width="1.3" />
<line x1="455.69374999999997" y1="530.379" x2="466.89375" y2="530.379" stroke="#111" stroke-width="1.3" />
<path d="M314.5,515.7 L318.9,511.1 L323.3,515.7 L318.9,520.3Z" fill="#000"/>
<polyline fill="none" stroke="#7c7c7c" stroke-width="2.2" stroke-linejoin="round" points="318.9,520.7 342.6,537.6 366.3,537.6 390.1,537.6 413.8,537.6 437.6,537.6 461.3,537.6 485.0,537.6"/>
<path d="M315.7,520.7 L318.9,516.8 L322.1,520.7 L318.9,524.5Z" fill="#808080"/>
<path d="M339.4,537.6 L342.6,533.8 L345.8,537.6 L342.6,541.4Z" fill="#808080"/>
<path d="M363.1,537.6 L366.3,533.8 L369.5,537.6 L366.3,541.4Z" fill="#808080"/>
<path d="M386.9,537.6 L390.1,533.8 L393.3,537.6 L390.1,541.4Z" fill="#808080"/>
<path d="M410.6,537.6 L413.8,533.8 L417.0,537.6 L413.8,541.4Z" fill="#808080"/>
<path d="M434.4,537.6 L437.6,533.8 L440.8,537.6 L437.6,541.4Z" fill="#808080"/>
<path d="M458.1,537.6 L461.3,533.8 L464.5,537.6 L461.3,541.4Z" fill="#808080"/>
<path d="M481.8,537.6 L485.0,533.8 L488.2,537.6 L485.0,541.4Z" fill="#808080"/>
</g>
</g></svg></body></html>
